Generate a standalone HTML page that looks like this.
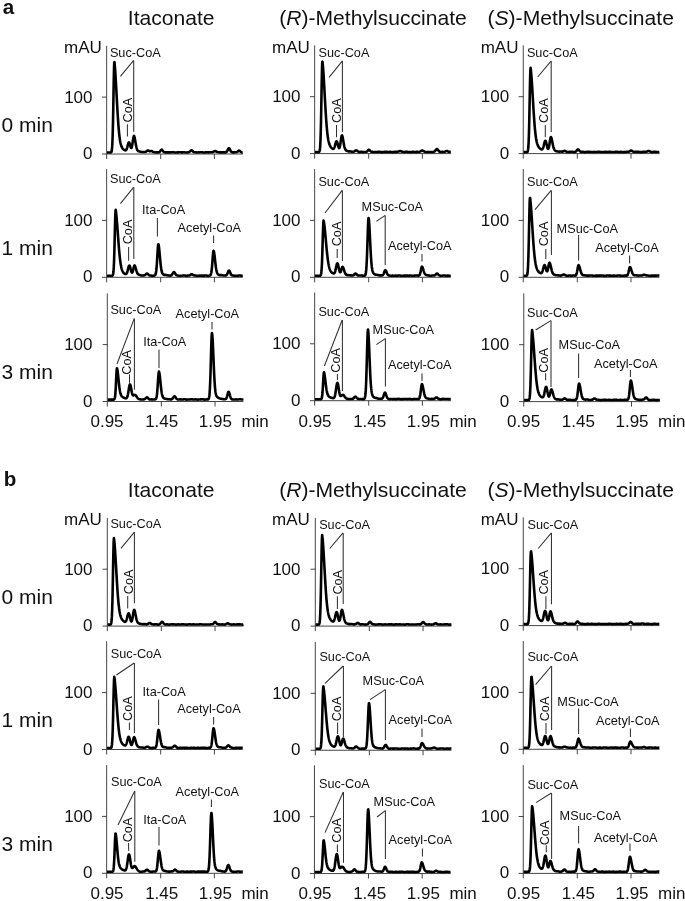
<!DOCTYPE html>
<html><head><meta charset="utf-8"><title>Figure</title>
<style>
html,body{margin:0;padding:0;background:#fff;}
body{width:685px;height:901px;overflow:hidden;font-family:"Liberation Sans",sans-serif;}
svg{display:block;will-change:transform;filter:grayscale(1);}
</style></head><body>
<svg width="685" height="901" viewBox="0 0 685 901">
<rect width="685" height="901" fill="#fff"/>
<g font-family="'Liberation Sans', sans-serif" fill="#111">
<text x="2.80" y="14.00" font-size="20.60" text-anchor="start" font-weight="bold" >a</text>
<text x="171.20" y="25.00" font-size="21.10" text-anchor="middle" font-weight="normal" >Itaconate</text>
<text x="373.00" y="25.00" font-size="21.10" text-anchor="middle" font-weight="normal" >(<tspan font-style="italic">R</tspan>)-Methylsuccinate</text>
<text x="580.70" y="25.00" font-size="21.10" text-anchor="middle" font-weight="normal" >(<tspan font-style="italic">S</tspan>)-Methylsuccinate</text>
<text x="1.50" y="132.00" font-size="21.00" text-anchor="start" font-weight="normal" >0 min</text>
<g stroke="#3c3c3c" stroke-width="0.95" fill="none">
<path d="M106.65 45.80 V159.00"/>
<path d="M102.00 154.00 H242.80"/>
<path d="M102.00 97.10 H107.00"/>
<path d="M160.70 154.00 V159.00"/>
<path d="M214.40 154.00 V159.00"/>
</g>
<text x="92.50" y="159.00" font-size="17.00" text-anchor="end" font-weight="normal" >0</text>
<text x="92.50" y="102.50" font-size="17.00" text-anchor="end" font-weight="normal" >100</text>
<text x="64.10" y="52.60" font-size="17.00" text-anchor="start" font-weight="normal" >mAU</text>
<g stroke="#303030" stroke-width="1.05" fill="none">
<path d="M120.40 76.30 L133.70 60.40"/>
<path d="M133.70 60.40 V131.80"/>
<path d="M127.40 124.20 V136.60"/>
</g>
<text x="109.90" y="56.90" font-size="12.70" text-anchor="start" font-weight="normal" >Suc-CoA</text>
<text font-size="12.70" transform="translate(132.20 122.50) rotate(-90)">CoA</text>
<path d="M107.00 152.50L107.25 152.50L107.50 152.50L107.75 152.50L108.00 152.50L108.25 152.50L108.50 152.50L108.75 152.50L109.00 152.50L109.25 152.50L109.50 152.50L109.75 152.50L110.00 152.50L110.25 152.49L110.50 152.48L110.75 152.44L111.00 152.35L111.25 152.13L111.50 151.64L111.75 150.63L112.00 148.75L112.25 145.45L112.50 140.14L112.75 132.30L113.00 121.68L113.25 108.62L113.50 94.21L113.75 80.25L114.00 68.94L114.25 62.33L114.50 62.17L114.75 64.88L115.00 68.00L115.25 71.50L115.50 75.35L115.75 79.49L116.00 83.86L116.25 88.41L116.50 93.05L116.75 97.73L117.00 102.36L117.25 106.88L117.50 111.25L117.75 115.41L118.00 119.32L118.25 122.95L118.50 126.29L118.75 129.34L119.00 132.08L119.25 134.52L119.50 136.69L119.75 138.60L120.00 140.26L120.25 141.70L120.50 142.94L120.75 144.01L121.00 144.92L121.25 145.70L121.50 146.37L121.75 146.95L122.00 147.45L122.25 147.88L122.50 148.26L122.75 148.58L123.00 148.87L123.25 149.13L123.50 149.36L123.75 149.56L124.00 149.74L124.25 149.91L124.50 150.05L124.75 150.18L125.00 150.28L125.25 150.34L125.50 150.35L125.75 150.29L126.00 150.14L126.25 149.87L126.50 149.46L126.75 148.90L127.00 148.18L127.25 147.33L127.50 146.38L127.75 145.38L128.00 144.42L128.25 143.56L128.50 142.89L128.75 142.49L129.00 142.39L129.25 142.60L129.50 143.11L129.75 143.85L130.00 144.75L130.25 145.70L130.50 146.60L130.75 147.36L131.00 147.86L131.25 148.05L131.50 147.87L131.75 147.29L132.00 146.32L132.25 144.99L132.50 143.38L132.75 141.62L133.00 139.84L133.25 138.22L133.50 136.92L133.75 136.08L134.00 135.80L134.25 136.33L134.50 137.15L134.75 138.25L135.00 139.54L135.25 140.96L135.50 142.43L135.75 143.88L136.00 145.25L136.25 146.48L136.50 147.56L136.75 148.47L137.00 149.22L137.25 149.81L137.50 150.27L137.75 150.62L138.00 150.87L138.25 151.05L138.50 151.18L138.75 151.27L139.00 151.34L139.25 151.39L139.50 151.45L139.75 151.51L140.00 151.57L140.25 151.64L140.50 151.71L140.75 151.79L141.00 151.86L141.25 151.92L141.50 151.96L141.75 152.00L142.00 152.02L142.25 152.03L142.50 152.04L142.75 152.03L143.00 152.03L143.25 152.02L143.50 152.02L143.75 152.03L144.00 152.04L144.25 152.05L144.50 152.06L144.75 152.05L145.00 152.04L145.25 152.00L145.50 151.93L145.75 151.83L146.00 151.69L146.25 151.52L146.50 151.31L146.75 151.09L147.00 150.88L147.25 150.68L147.50 150.53L147.75 150.45L148.00 150.43L148.25 150.49L148.50 150.60L148.75 150.76L149.00 150.92L149.25 151.07L149.50 151.18L149.75 151.25L150.00 151.25L150.25 151.21L150.50 151.15L150.75 151.07L151.00 151.00L151.25 150.97L151.50 150.99L151.75 151.06L152.00 151.17L152.25 151.32L152.50 151.48L152.75 151.65L153.00 151.80L153.25 151.94L153.50 152.04L153.75 152.12L154.00 152.18L154.25 152.22L154.50 152.24L154.75 152.27L155.00 152.29L155.25 152.30L155.50 152.32L155.75 152.34L156.00 152.35L156.25 152.36L156.50 152.37L156.75 152.37L157.00 152.36L157.25 152.36L157.50 152.36L157.75 152.36L158.00 152.36L158.25 152.36L158.50 152.34L158.75 152.31L159.00 152.24L159.25 152.12L159.50 151.95L159.75 151.72L160.00 151.43L160.25 151.09L160.50 150.73L160.75 150.37L161.00 150.06L161.25 149.82L161.50 149.69L161.75 149.67L162.00 149.78L162.25 150.00L162.50 150.29L162.75 150.64L163.00 150.99L163.25 151.33L163.50 151.63L163.75 151.87L164.00 152.06L164.25 152.19L164.50 152.28L164.75 152.33L165.00 152.36L165.25 152.37L165.50 152.38L165.75 152.39L166.00 152.39L166.25 152.40L166.50 152.40L166.75 152.41L167.00 152.41L167.25 152.41L167.50 152.40L167.75 152.38L168.00 152.37L168.25 152.35L168.50 152.34L168.75 152.33L169.00 152.33L169.25 152.34L169.50 152.35L169.75 152.37L170.00 152.39L170.25 152.40L170.50 152.41L170.75 152.41L171.00 152.39L171.25 152.37L171.50 152.33L171.75 152.29L172.00 152.25L172.25 152.21L172.50 152.18L172.75 152.16L173.00 152.17L173.25 152.18L173.50 152.21L173.75 152.26L174.00 152.31L174.25 152.36L174.50 152.41L174.75 152.45L175.00 152.48L175.25 152.49L175.50 152.50L175.75 152.49L176.00 152.48L176.25 152.46L176.50 152.45L176.75 152.43L177.00 152.42L177.25 152.41L177.50 152.40L177.75 152.39L178.00 152.38L178.25 152.36L178.50 152.34L178.75 152.32L179.00 152.30L179.25 152.27L179.50 152.26L179.75 152.24L180.00 152.24L180.25 152.25L180.50 152.27L180.75 152.29L181.00 152.32L181.25 152.35L181.50 152.37L181.75 152.39L182.00 152.40L182.25 152.39L182.50 152.37L182.75 152.35L183.00 152.32L183.25 152.29L183.50 152.26L183.75 152.25L184.00 152.25L184.25 152.26L184.50 152.29L184.75 152.32L185.00 152.37L185.25 152.41L185.50 152.45L185.75 152.49L186.00 152.51L186.25 152.51L186.50 152.51L186.75 152.49L187.00 152.47L187.25 152.44L187.50 152.41L187.75 152.37L188.00 152.34L188.25 152.30L188.50 152.25L188.75 152.19L189.00 152.10L189.25 151.99L189.50 151.83L189.75 151.64L190.00 151.41L190.25 151.16L190.50 150.89L190.75 150.65L191.00 150.45L191.25 150.31L191.50 150.27L191.75 150.31L192.00 150.45L192.25 150.66L192.50 150.91L192.75 151.19L193.00 151.46L193.25 151.70L193.50 151.90L193.75 152.04L194.00 152.15L194.25 152.21L194.50 152.24L194.75 152.26L195.00 152.27L195.25 152.28L195.50 152.30L195.75 152.33L196.00 152.36L196.25 152.39L196.50 152.42L196.75 152.44L197.00 152.45L197.25 152.45L197.50 152.44L197.75 152.42L198.00 152.40L198.25 152.37L198.50 152.34L198.75 152.31L199.00 152.29L199.25 152.27L199.50 152.26L199.75 152.26L200.00 152.26L200.25 152.26L200.50 152.25L200.75 152.25L201.00 152.25L201.25 152.25L201.50 152.25L201.75 152.25L202.00 152.27L202.25 152.29L202.50 152.32L202.75 152.36L203.00 152.41L203.25 152.45L203.50 152.49L203.75 152.52L204.00 152.54L204.25 152.54L204.50 152.53L204.75 152.50L205.00 152.46L205.25 152.41L205.50 152.36L205.75 152.32L206.00 152.29L206.25 152.26L206.50 152.25L206.75 152.26L207.00 152.27L207.25 152.30L207.50 152.32L207.75 152.34L208.00 152.36L208.25 152.37L208.50 152.37L208.75 152.36L209.00 152.34L209.25 152.32L209.50 152.31L209.75 152.29L210.00 152.29L210.25 152.28L210.50 152.29L210.75 152.29L211.00 152.30L211.25 152.30L211.50 152.30L211.75 152.29L212.00 152.26L212.25 152.22L212.50 152.16L212.75 152.08L213.00 151.97L213.25 151.84L213.50 151.69L213.75 151.53L214.00 151.38L214.25 151.24L214.50 151.13L214.75 151.05L215.00 151.03L215.25 151.06L215.50 151.13L215.75 151.23L216.00 151.36L216.25 151.49L216.50 151.62L216.75 151.74L217.00 151.84L217.25 151.93L217.50 152.00L217.75 152.07L218.00 152.13L218.25 152.18L218.50 152.23L218.75 152.28L219.00 152.31L219.25 152.34L219.50 152.36L219.75 152.37L220.00 152.37L220.25 152.37L220.50 152.36L220.75 152.36L221.00 152.36L221.25 152.36L221.50 152.37L221.75 152.38L222.00 152.39L222.25 152.40L222.50 152.40L222.75 152.40L223.00 152.40L223.25 152.39L223.50 152.37L223.75 152.36L224.00 152.35L224.25 152.35L224.50 152.35L224.75 152.36L225.00 152.37L225.25 152.37L225.50 152.37L225.75 152.34L226.00 152.27L226.25 152.16L226.50 151.97L226.75 151.71L227.00 151.36L227.25 150.93L227.50 150.43L227.75 149.89L228.00 149.35L228.25 148.86L228.50 148.48L228.75 148.25L229.00 148.19L229.25 148.31L229.50 148.60L229.75 149.03L230.00 149.53L230.25 150.07L230.50 150.60L230.75 151.06L231.00 151.46L231.25 151.77L231.50 151.99L231.75 152.16L232.00 152.26L232.25 152.33L232.50 152.37L232.75 152.40L233.00 152.41L233.25 152.41L233.50 152.41L233.75 152.40L234.00 152.38L234.25 152.35L234.50 152.33L234.75 152.30L235.00 152.28L235.25 152.26L235.50 152.24L235.75 152.23L236.00 152.22L236.25 152.19L236.50 152.15L236.75 152.09L237.00 151.98L237.25 151.84L237.50 151.66L237.75 151.45L238.00 151.22L238.25 151.01L238.50 150.82L238.75 150.69L239.00 150.63L239.25 150.65L239.50 150.74L239.75 150.91L240.00 151.12L240.25 151.36L240.50 151.60L240.75 151.83L241.00 152.03L241.25 152.19L241.50 152.31L241.75 152.39L242.00 152.43L242.25 152.46L242.50 152.46L242.75 152.45" fill="none" stroke="#000" stroke-width="2.60" stroke-linejoin="round" stroke-linecap="butt"/>
<g stroke="#3c3c3c" stroke-width="0.95" fill="none">
<path d="M314.65 45.40 V158.60"/>
<path d="M310.00 153.60 H450.80"/>
<path d="M310.00 96.70 H315.00"/>
<path d="M368.70 153.60 V158.60"/>
<path d="M422.40 153.60 V158.60"/>
</g>
<text x="300.50" y="158.60" font-size="17.00" text-anchor="end" font-weight="normal" >0</text>
<text x="300.50" y="102.10" font-size="17.00" text-anchor="end" font-weight="normal" >100</text>
<text x="272.10" y="52.60" font-size="17.00" text-anchor="start" font-weight="normal" >mAU</text>
<g stroke="#303030" stroke-width="1.05" fill="none">
<path d="M329.10 77.30 L342.40 60.90"/>
<path d="M342.40 60.90 V131.90"/>
<path d="M336.50 124.90 V137.30"/>
</g>
<text x="318.60" y="57.20" font-size="12.70" text-anchor="start" font-weight="normal" >Suc-CoA</text>
<text font-size="12.70" transform="translate(340.90 122.90) rotate(-90)">CoA</text>
<path d="M315.00 152.10L315.25 152.10L315.50 152.10L315.75 152.10L316.00 152.10L316.25 152.10L316.50 152.10L316.75 152.10L317.00 152.10L317.25 152.10L317.50 152.10L317.75 152.10L318.00 152.10L318.25 152.09L318.50 152.08L318.75 152.04L319.00 151.95L319.25 151.73L319.50 151.24L319.75 150.23L320.00 148.35L320.25 145.05L320.50 139.74L320.75 131.90L321.00 121.28L321.25 108.22L321.50 93.81L321.75 79.85L322.00 68.54L322.25 61.93L322.50 61.65L322.75 64.09L323.00 66.97L323.25 70.27L323.50 73.93L323.75 77.92L324.00 82.17L324.25 86.60L324.50 91.15L324.75 95.75L325.00 100.32L325.25 104.80L325.50 109.13L325.75 113.26L326.00 117.16L326.25 120.78L326.50 124.13L326.75 127.18L327.00 129.93L327.25 132.39L327.50 134.58L327.75 136.50L328.00 138.18L328.25 139.65L328.50 140.92L328.75 142.02L329.00 142.97L329.25 143.80L329.50 144.51L329.75 145.13L330.00 145.68L330.25 146.15L330.50 146.57L330.75 146.94L331.00 147.28L331.25 147.58L331.50 147.85L331.75 148.10L332.00 148.33L332.25 148.53L332.50 148.70L332.75 148.82L333.00 148.89L333.25 148.89L333.50 148.79L333.75 148.58L334.00 148.24L334.25 147.75L334.50 147.11L334.75 146.33L335.00 145.43L335.25 144.47L335.50 143.52L335.75 142.64L336.00 141.93L336.25 141.45L336.50 141.26L336.75 141.38L337.00 141.80L337.25 142.49L337.50 143.38L337.75 144.38L338.00 145.41L338.25 146.36L338.50 147.17L338.75 147.76L339.00 148.08L339.25 148.07L339.50 147.72L339.75 146.99L340.00 145.92L340.25 144.52L340.50 142.87L340.75 141.09L341.00 139.31L341.25 137.69L341.50 136.40L341.75 135.57L342.00 135.31L342.25 135.86L342.50 136.71L342.75 137.83L343.00 139.15L343.25 140.59L343.50 142.08L343.75 143.53L344.00 144.88L344.25 146.09L344.50 147.12L344.75 147.99L345.00 148.68L345.25 149.22L345.50 149.64L345.75 149.97L346.00 150.22L346.25 150.42L346.50 150.59L346.75 150.73L347.00 150.86L347.25 150.98L347.50 151.09L347.75 151.18L348.00 151.26L348.25 151.31L348.50 151.35L348.75 151.38L349.00 151.39L349.25 151.39L349.50 151.39L349.75 151.39L350.00 151.40L350.25 151.41L350.50 151.44L350.75 151.47L351.00 151.52L351.25 151.56L351.50 151.62L351.75 151.66L352.00 151.71L352.25 151.74L352.50 151.77L352.75 151.78L353.00 151.78L353.25 151.76L353.50 151.72L353.75 151.65L354.00 151.56L354.25 151.44L354.50 151.29L354.75 151.12L355.00 150.93L355.25 150.76L355.50 150.60L355.75 150.48L356.00 150.42L356.25 150.41L356.50 150.47L356.75 150.57L357.00 150.72L357.25 150.90L357.50 151.08L357.75 151.27L358.00 151.44L358.25 151.59L358.50 151.71L358.75 151.81L359.00 151.88L359.25 151.93L359.50 151.95L359.75 151.96L360.00 151.95L360.25 151.93L360.50 151.90L360.75 151.88L361.00 151.86L361.25 151.85L361.50 151.85L361.75 151.86L362.00 151.89L362.25 151.91L362.50 151.94L362.75 151.97L363.00 152.00L363.25 152.02L363.50 152.03L363.75 152.04L364.00 152.04L364.25 152.04L364.50 152.03L364.75 152.03L365.00 152.03L365.25 152.02L365.50 152.01L365.75 151.98L366.00 151.94L366.25 151.86L366.50 151.76L366.75 151.61L367.00 151.41L367.25 151.18L367.50 150.91L367.75 150.63L368.00 150.35L368.25 150.11L368.50 149.92L368.75 149.82L369.00 149.81L369.25 149.90L369.50 150.07L369.75 150.31L370.00 150.58L370.25 150.87L370.50 151.14L370.75 151.37L371.00 151.56L371.25 151.69L371.50 151.79L371.75 151.84L372.00 151.88L372.25 151.90L372.50 151.91L372.75 151.92L373.00 151.94L373.25 151.96L373.50 151.97L373.75 151.99L374.00 152.00L374.25 152.01L374.50 152.01L374.75 152.00L375.00 151.99L375.25 151.98L375.50 151.97L375.75 151.96L376.00 151.96L376.25 151.95L376.50 151.95L376.75 151.95L377.00 151.95L377.25 151.95L377.50 151.93L377.75 151.91L378.00 151.89L378.25 151.86L378.50 151.83L378.75 151.80L379.00 151.79L379.25 151.78L379.50 151.79L379.75 151.82L380.00 151.86L380.25 151.91L380.50 151.96L380.75 152.02L381.00 152.07L381.25 152.11L381.50 152.13L381.75 152.14L382.00 152.13L382.25 152.11L382.50 152.08L382.75 152.04L383.00 152.00L383.25 151.97L383.50 151.94L383.75 151.93L384.00 151.92L384.25 151.91L384.50 151.92L384.75 151.92L385.00 151.92L385.25 151.93L385.50 151.92L385.75 151.92L386.00 151.91L386.25 151.90L386.50 151.89L386.75 151.89L387.00 151.89L387.25 151.90L387.50 151.92L387.75 151.93L388.00 151.94L388.25 151.95L388.50 151.96L388.75 151.96L389.00 151.94L389.25 151.93L389.50 151.91L389.75 151.89L390.00 151.87L390.25 151.87L390.50 151.87L390.75 151.89L391.00 151.92L391.25 151.96L391.50 152.01L391.75 152.05L392.00 152.10L392.25 152.13L392.50 152.15L392.75 152.15L393.00 152.13L393.25 152.10L393.50 152.06L393.75 152.01L394.00 151.96L394.25 151.92L394.50 151.88L394.75 151.85L395.00 151.84L395.25 151.83L395.50 151.83L395.75 151.84L396.00 151.84L396.25 151.85L396.50 151.85L396.75 151.85L397.00 151.83L397.25 151.81L397.50 151.77L397.75 151.73L398.00 151.67L398.25 151.59L398.50 151.50L398.75 151.41L399.00 151.31L399.25 151.21L399.50 151.13L399.75 151.07L400.00 151.04L400.25 151.04L400.50 151.08L400.75 151.15L401.00 151.23L401.25 151.34L401.50 151.45L401.75 151.56L402.00 151.67L402.25 151.77L402.50 151.86L402.75 151.93L403.00 151.99L403.25 152.04L403.50 152.06L403.75 152.07L404.00 152.05L404.25 152.03L404.50 151.99L404.75 151.94L405.00 151.90L405.25 151.86L405.50 151.82L405.75 151.80L406.00 151.79L406.25 151.79L406.50 151.81L406.75 151.82L407.00 151.85L407.25 151.87L407.50 151.89L407.75 151.91L408.00 151.93L408.25 151.94L408.50 151.96L408.75 151.97L409.00 151.99L409.25 152.01L409.50 152.04L409.75 152.06L410.00 152.08L410.25 152.10L410.50 152.10L410.75 152.10L411.00 152.08L411.25 152.05L411.50 152.02L411.75 151.97L412.00 151.93L412.25 151.89L412.50 151.86L412.75 151.85L413.00 151.84L413.25 151.86L413.50 151.88L413.75 151.91L414.00 151.94L414.25 151.97L414.50 151.99L414.75 152.00L415.00 152.00L415.25 151.98L415.50 151.96L415.75 151.93L416.00 151.90L416.25 151.87L416.50 151.85L416.75 151.83L417.00 151.83L417.25 151.84L417.50 151.86L417.75 151.89L418.00 151.91L418.25 151.93L418.50 151.95L418.75 151.95L419.00 151.94L419.25 151.91L419.50 151.85L419.75 151.77L420.00 151.66L420.25 151.53L420.50 151.37L420.75 151.20L421.00 151.02L421.25 150.85L421.50 150.70L421.75 150.59L422.00 150.54L422.25 150.53L422.50 150.58L422.75 150.68L423.00 150.80L423.25 150.95L423.50 151.10L423.75 151.25L424.00 151.39L424.25 151.52L424.50 151.63L424.75 151.73L425.00 151.82L425.25 151.89L425.50 151.95L425.75 151.99L426.00 152.01L426.25 152.02L426.50 152.01L426.75 152.00L427.00 151.98L427.25 151.96L427.50 151.94L427.75 151.93L428.00 151.92L428.25 151.93L428.50 151.94L428.75 151.96L429.00 151.98L429.25 151.99L429.50 152.01L429.75 152.02L430.00 152.02L430.25 152.02L430.50 152.01L430.75 152.00L431.00 152.00L431.25 151.99L431.50 151.99L431.75 152.00L432.00 152.00L432.25 152.00L432.50 151.99L432.75 151.98L433.00 151.95L433.25 151.91L433.50 151.86L433.75 151.79L434.00 151.69L434.25 151.57L434.50 151.42L434.75 151.24L435.00 151.01L435.25 150.74L435.50 150.44L435.75 150.12L436.00 149.80L436.25 149.51L436.50 149.27L436.75 149.13L437.00 149.09L437.25 149.17L437.50 149.35L437.75 149.62L438.00 149.95L438.25 150.29L438.50 150.64L438.75 150.95L439.00 151.22L439.25 151.44L439.50 151.61L439.75 151.74L440.00 151.83L440.25 151.88L440.50 151.92L440.75 151.94L441.00 151.94L441.25 151.94L441.50 151.93L441.75 151.92L442.00 151.91L442.25 151.91L442.50 151.91L442.75 151.91L443.00 151.92L443.25 151.93L443.50 151.93L443.75 151.93L444.00 151.91L444.25 151.87L444.50 151.81L444.75 151.72L445.00 151.62L445.25 151.50L445.50 151.37L445.75 151.24L446.00 151.12L446.25 151.03L446.50 150.97L446.75 150.95L447.00 150.98L447.25 151.05L447.50 151.16L447.75 151.30L448.00 151.44L448.25 151.57L448.50 151.68L448.75 151.77L449.00 151.84L449.25 151.87L449.50 151.89L449.75 151.89L450.00 151.89L450.25 151.88L450.50 151.87L450.75 151.87" fill="none" stroke="#000" stroke-width="2.60" stroke-linejoin="round" stroke-linecap="butt"/>
<g stroke="#3c3c3c" stroke-width="0.95" fill="none">
<path d="M523.25 45.40 V158.60"/>
<path d="M518.60 153.60 H659.40"/>
<path d="M518.60 96.70 H523.60"/>
<path d="M577.30 153.60 V158.60"/>
<path d="M631.00 153.60 V158.60"/>
</g>
<text x="509.10" y="158.60" font-size="17.00" text-anchor="end" font-weight="normal" >0</text>
<text x="509.10" y="102.10" font-size="17.00" text-anchor="end" font-weight="normal" >100</text>
<text x="480.70" y="52.60" font-size="17.00" text-anchor="start" font-weight="normal" >mAU</text>
<g stroke="#303030" stroke-width="1.05" fill="none">
<path d="M537.70 77.00 L551.00 61.10"/>
<path d="M551.20 61.10 V132.00"/>
<path d="M545.30 125.00 V137.20"/>
</g>
<text x="526.90" y="57.20" font-size="12.70" text-anchor="start" font-weight="normal" >Suc-CoA</text>
<text font-size="12.70" transform="translate(548.20 122.90) rotate(-90)">CoA</text>
<path d="M523.60 152.10L523.85 152.10L524.10 152.10L524.35 152.10L524.60 152.10L524.85 152.10L525.10 152.10L525.35 152.10L525.60 152.10L525.85 152.10L526.10 152.10L526.35 152.10L526.60 152.09L526.85 152.07L527.10 152.00L527.35 151.86L527.60 151.52L527.85 150.82L528.10 149.46L528.35 147.00L528.60 142.91L528.85 136.65L529.10 127.86L529.35 116.63L529.60 103.66L529.85 90.37L530.10 78.70L530.35 70.67L530.60 67.80L530.85 69.89L531.10 72.39L531.35 75.28L531.60 78.53L531.85 82.10L532.10 85.94L532.35 89.97L532.60 94.14L532.85 98.37L533.10 102.61L533.35 106.79L533.60 110.85L533.85 114.74L534.10 118.42L534.35 121.88L534.60 125.07L534.85 127.99L535.10 130.65L535.35 133.03L535.60 135.15L535.85 137.02L536.10 138.67L536.35 140.10L536.60 141.35L536.85 142.43L537.10 143.37L537.35 144.18L537.60 144.87L537.85 145.47L538.10 145.99L538.35 146.45L538.60 146.85L538.85 147.21L539.10 147.54L539.35 147.83L539.60 148.11L539.85 148.36L540.10 148.59L540.35 148.80L540.60 148.99L540.85 149.15L541.10 149.28L541.35 149.37L541.60 149.41L541.85 149.40L542.10 149.31L542.35 149.12L542.60 148.82L542.85 148.38L543.10 147.80L543.35 147.06L543.60 146.18L543.85 145.19L544.10 144.14L544.35 143.11L544.60 142.18L544.85 141.43L545.10 140.94L545.35 140.77L545.60 140.93L545.85 141.43L546.10 142.21L546.35 143.21L546.60 144.34L546.85 145.49L547.10 146.58L547.35 147.53L547.60 148.27L547.85 148.74L548.10 148.90L548.35 148.74L548.60 148.23L548.85 147.39L549.10 146.23L549.35 144.80L549.60 143.20L549.85 141.54L550.10 139.95L550.35 138.58L550.60 137.58L550.85 137.04L551.10 137.14L551.35 137.76L551.60 138.64L551.85 139.73L552.10 140.95L552.35 142.25L552.60 143.55L552.85 144.79L553.10 145.93L553.35 146.93L553.60 147.80L553.85 148.52L554.10 149.11L554.35 149.58L554.60 149.97L554.85 150.28L555.10 150.53L555.35 150.73L555.60 150.90L555.85 151.03L556.10 151.13L556.35 151.22L556.60 151.29L556.85 151.34L557.10 151.38L557.35 151.42L557.60 151.46L557.85 151.49L558.10 151.52L558.35 151.55L558.60 151.57L558.85 151.58L559.10 151.59L559.35 151.59L559.60 151.59L559.85 151.58L560.10 151.57L560.35 151.56L560.60 151.56L560.85 151.56L561.10 151.57L561.35 151.60L561.60 151.62L561.85 151.65L562.10 151.66L562.35 151.66L562.60 151.64L562.85 151.58L563.10 151.50L563.35 151.39L563.60 151.26L563.85 151.13L564.10 151.02L564.35 150.93L564.60 150.89L564.85 150.89L565.10 150.95L565.35 151.05L565.60 151.17L565.85 151.32L566.10 151.47L566.35 151.61L566.60 151.73L566.85 151.82L567.10 151.89L567.35 151.93L567.60 151.95L567.85 151.95L568.10 151.95L568.35 151.94L568.60 151.93L568.85 151.92L569.10 151.91L569.35 151.91L569.60 151.91L569.85 151.90L570.10 151.89L570.35 151.88L570.60 151.86L570.85 151.84L571.10 151.82L571.35 151.81L571.60 151.80L571.85 151.80L572.10 151.81L572.35 151.84L572.60 151.87L572.85 151.92L573.10 151.97L573.35 152.03L573.60 152.07L573.85 152.11L574.10 152.12L574.35 152.12L574.60 152.09L574.85 152.03L575.10 151.94L575.35 151.81L575.60 151.65L575.85 151.44L576.10 151.20L576.35 150.93L576.60 150.62L576.85 150.31L577.10 150.01L577.35 149.75L577.60 149.56L577.85 149.45L578.10 149.45L578.35 149.54L578.60 149.73L578.85 149.98L579.10 150.27L579.35 150.58L579.60 150.87L579.85 151.14L580.10 151.36L580.35 151.54L580.60 151.68L580.85 151.78L581.10 151.85L581.35 151.89L581.60 151.90L581.85 151.91L582.10 151.90L582.35 151.89L582.60 151.89L582.85 151.89L583.10 151.89L583.35 151.91L583.60 151.94L583.85 151.98L584.10 152.02L584.35 152.07L584.60 152.10L584.85 152.13L585.10 152.15L585.35 152.15L585.60 152.13L585.85 152.09L586.10 152.05L586.35 151.99L586.60 151.94L586.85 151.89L587.10 151.85L587.35 151.82L587.60 151.81L587.85 151.80L588.10 151.81L588.35 151.83L588.60 151.85L588.85 151.87L589.10 151.89L589.35 151.90L589.60 151.91L589.85 151.92L590.10 151.92L590.35 151.93L590.60 151.93L590.85 151.95L591.10 151.96L591.35 151.98L591.60 151.99L591.85 152.01L592.10 152.02L592.35 152.03L592.60 152.02L592.85 152.01L593.10 151.99L593.35 151.97L593.60 151.95L593.85 151.93L594.10 151.92L594.35 151.92L594.60 151.93L594.85 151.95L595.10 151.98L595.35 152.01L595.60 152.04L595.85 152.06L596.10 152.07L596.35 152.07L596.60 152.05L596.85 152.02L597.10 151.98L597.35 151.93L597.60 151.88L597.85 151.84L598.10 151.80L598.35 151.78L598.60 151.77L598.85 151.77L599.10 151.79L599.35 151.82L599.60 151.85L599.85 151.89L600.10 151.92L600.35 151.94L600.60 151.97L600.85 151.98L601.10 152.00L601.35 152.01L601.60 152.02L601.85 152.03L602.10 152.04L602.35 152.05L602.60 152.06L602.85 152.07L603.10 152.07L603.35 152.07L603.60 152.06L603.85 152.03L604.10 152.00L604.35 151.97L604.60 151.93L604.85 151.90L605.10 151.87L605.35 151.85L605.60 151.85L605.85 151.86L606.10 151.88L606.35 151.91L606.60 151.94L606.85 151.97L607.10 151.99L607.35 152.00L607.60 152.00L607.85 151.99L608.10 151.96L608.35 151.93L608.60 151.89L608.85 151.86L609.10 151.83L609.35 151.82L609.60 151.82L609.85 151.83L610.10 151.85L610.35 151.88L610.60 151.92L610.85 151.96L611.10 151.99L611.35 152.02L611.60 152.04L611.85 152.05L612.10 152.06L612.35 152.06L612.60 152.06L612.85 152.06L613.10 152.06L613.35 152.06L613.60 152.05L613.85 152.05L614.10 152.04L614.35 152.03L614.60 152.00L614.85 151.97L615.10 151.94L615.35 151.90L615.60 151.86L615.85 151.82L616.10 151.79L616.35 151.78L616.60 151.77L616.85 151.79L617.10 151.82L617.35 151.85L617.60 151.90L617.85 151.94L618.10 151.98L618.35 152.01L618.60 152.03L618.85 152.03L619.10 152.02L619.35 152.00L619.60 151.98L619.85 151.95L620.10 151.93L620.35 151.91L620.60 151.90L620.85 151.91L621.10 151.92L621.35 151.94L621.60 151.97L621.85 152.00L622.10 152.02L622.35 152.04L622.60 152.04L622.85 152.05L623.10 152.04L623.35 152.03L623.60 152.02L623.85 152.00L624.10 151.99L624.35 151.98L624.60 151.98L624.85 151.97L625.10 151.96L625.35 151.95L625.60 151.93L625.85 151.91L626.10 151.88L626.35 151.85L626.60 151.82L626.85 151.79L627.10 151.77L627.35 151.75L627.60 151.75L627.85 151.75L628.10 151.75L628.35 151.75L628.60 151.73L628.85 151.69L629.10 151.61L629.35 151.50L629.60 151.35L629.85 151.17L630.10 150.98L630.35 150.80L630.60 150.65L630.85 150.54L631.10 150.50L631.35 150.53L631.60 150.62L631.85 150.76L632.10 150.94L632.35 151.13L632.60 151.32L632.85 151.49L633.10 151.64L633.35 151.75L633.60 151.83L633.85 151.88L634.10 151.90L634.35 151.91L634.60 151.92L634.85 151.91L635.10 151.91L635.35 151.91L635.60 151.91L635.85 151.92L636.10 151.92L636.35 151.92L636.60 151.92L636.85 151.92L637.10 151.91L637.35 151.89L637.60 151.87L637.85 151.85L638.10 151.84L638.35 151.84L638.60 151.85L638.85 151.87L639.10 151.90L639.35 151.95L639.60 152.00L639.85 152.05L640.10 152.09L640.35 152.13L640.60 152.15L640.85 152.16L641.10 152.15L641.35 152.12L641.60 152.08L641.85 152.03L642.10 151.98L642.35 151.94L642.60 151.90L642.85 151.87L643.10 151.85L643.35 151.85L643.60 151.85L643.85 151.86L644.10 151.87L644.35 151.88L644.60 151.89L644.85 151.89L645.10 151.88L645.35 151.87L645.60 151.85L645.85 151.82L646.10 151.79L646.35 151.74L646.60 151.68L646.85 151.60L647.10 151.51L647.35 151.40L647.60 151.29L647.85 151.18L648.10 151.08L648.35 151.01L648.60 150.97L648.85 150.97L649.10 151.01L649.35 151.09L649.60 151.20L649.85 151.34L650.10 151.48L650.35 151.62L650.60 151.75L650.85 151.86L651.10 151.96L651.35 152.02L651.60 152.07L651.85 152.09L652.10 152.08L652.35 152.06L652.60 152.02L652.85 151.97L653.10 151.92L653.35 151.87L653.60 151.83L653.85 151.80L654.10 151.79L654.35 151.78L654.60 151.79L654.85 151.81L655.10 151.83L655.35 151.86L655.60 151.88L655.85 151.90L656.10 151.92L656.35 151.93L656.60 151.94L656.85 151.96L657.10 151.97L657.35 151.99L657.60 152.01L657.85 152.03L658.10 152.05L658.35 152.06L658.60 152.07L658.85 152.07L659.10 152.07L659.35 152.05" fill="none" stroke="#000" stroke-width="2.60" stroke-linejoin="round" stroke-linecap="butt"/>
<text x="1.50" y="255.30" font-size="21.00" text-anchor="start" font-weight="normal" >1 min</text>
<g stroke="#3c3c3c" stroke-width="0.95" fill="none">
<path d="M106.65 169.10 V282.30"/>
<path d="M102.00 277.30 H242.80"/>
<path d="M102.00 220.40 H107.00"/>
<path d="M160.70 277.30 V282.30"/>
<path d="M214.40 277.30 V282.30"/>
</g>
<text x="92.50" y="282.30" font-size="17.00" text-anchor="end" font-weight="normal" >0</text>
<text x="92.50" y="225.80" font-size="17.00" text-anchor="end" font-weight="normal" >100</text>
<g stroke="#303030" stroke-width="1.05" fill="none">
<path d="M120.40 203.60 L133.70 187.20"/>
<path d="M133.80 187.20 V259.00"/>
<path d="M128.60 247.00 V260.70"/>
<path d="M157.40 218.00 L157.40 236.40"/>
<path d="M213.60 235.40 L213.60 243.00"/>
</g>
<text x="110.00" y="183.40" font-size="12.70" text-anchor="start" font-weight="normal" >Suc-CoA</text>
<text font-size="12.70" transform="translate(132.20 244.30) rotate(-90)">CoA</text>
<text x="142.10" y="214.35" font-size="12.70" text-anchor="start" font-weight="normal" >Ita-CoA</text>
<text x="177.60" y="232.05" font-size="12.70" text-anchor="start" font-weight="normal" >Acetyl-CoA</text>
<path d="M107.00 275.80L107.25 275.80L107.50 275.80L107.75 275.80L108.00 275.80L108.25 275.80L108.50 275.80L108.75 275.80L109.00 275.80L109.25 275.80L109.50 275.80L109.75 275.80L110.00 275.80L110.25 275.80L110.50 275.80L110.75 275.80L111.00 275.80L111.25 275.80L111.50 275.80L111.75 275.79L112.00 275.77L112.25 275.71L112.50 275.57L112.75 275.27L113.00 274.63L113.25 273.42L113.50 271.26L113.75 267.73L114.00 262.43L114.25 255.12L114.50 245.94L114.75 235.59L115.00 225.26L115.25 216.54L115.50 210.95L115.75 209.87L116.00 211.86L116.25 214.15L116.50 216.70L116.75 219.50L117.00 222.51L117.25 225.70L117.50 229.02L117.75 232.40L118.00 235.82L118.25 239.21L118.50 242.53L118.75 245.73L119.00 248.79L119.25 251.66L119.50 254.34L119.75 256.80L120.00 259.05L120.25 261.07L120.50 262.87L120.75 264.46L121.00 265.86L121.25 267.08L121.50 268.14L121.75 269.05L122.00 269.85L122.25 270.53L122.50 271.12L122.75 271.62L123.00 272.06L123.25 272.43L123.50 272.76L123.75 273.03L124.00 273.27L124.25 273.47L124.50 273.65L124.75 273.79L125.00 273.91L125.25 274.00L125.50 274.05L125.75 274.06L126.00 274.00L126.25 273.85L126.50 273.60L126.75 273.22L127.00 272.70L127.25 272.02L127.50 271.20L127.75 270.25L128.00 269.23L128.25 268.20L128.50 267.24L128.75 266.43L129.00 265.85L129.25 265.56L129.50 265.59L129.75 265.95L130.00 266.58L130.25 267.44L130.50 268.44L130.75 269.48L131.00 270.47L131.25 271.33L131.50 271.99L131.75 272.41L132.00 272.56L132.25 272.41L132.50 271.99L132.75 271.31L133.00 270.42L133.25 269.39L133.50 268.31L133.75 267.27L134.00 266.39L134.25 265.76L134.50 265.46L134.75 265.61L135.00 266.05L135.25 266.66L135.50 267.41L135.75 268.26L136.00 269.15L136.25 270.04L136.50 270.90L136.75 271.68L137.00 272.36L137.25 272.95L137.50 273.42L137.75 273.80L138.00 274.09L138.25 274.31L138.50 274.47L138.75 274.60L139.00 274.70L139.25 274.78L139.50 274.86L139.75 274.94L140.00 275.02L140.25 275.11L140.50 275.20L140.75 275.29L141.00 275.37L141.25 275.43L141.50 275.48L141.75 275.52L142.00 275.54L142.25 275.54L142.50 275.52L142.75 275.50L143.00 275.47L143.25 275.45L143.50 275.42L143.75 275.39L144.00 275.36L144.25 275.31L144.50 275.25L144.75 275.15L145.00 275.02L145.25 274.85L145.50 274.64L145.75 274.40L146.00 274.15L146.25 273.92L146.50 273.73L146.75 273.60L147.00 273.55L147.25 273.59L147.50 273.72L147.75 273.91L148.00 274.16L148.25 274.42L148.50 274.67L148.75 274.90L149.00 275.09L149.25 275.24L149.50 275.35L149.75 275.43L150.00 275.48L150.25 275.51L150.50 275.54L150.75 275.57L151.00 275.61L151.25 275.65L151.50 275.70L151.75 275.75L152.00 275.79L152.25 275.82L152.50 275.84L152.75 275.84L153.00 275.83L153.25 275.80L153.50 275.75L153.75 275.70L154.00 275.64L154.25 275.57L154.50 275.50L154.75 275.40L155.00 275.24L155.25 274.98L155.50 274.53L155.75 273.79L156.00 272.62L156.25 270.89L156.50 268.48L156.75 265.34L157.00 261.55L157.25 257.32L157.50 253.01L157.75 249.09L158.00 246.05L158.25 244.33L158.50 244.31L158.75 245.44L159.00 247.17L159.25 249.40L159.50 252.01L159.75 254.82L160.00 257.69L160.25 260.48L160.50 263.06L160.75 265.37L161.00 267.37L161.25 269.03L161.50 270.39L161.75 271.47L162.00 272.32L162.25 272.97L162.50 273.47L162.75 273.86L163.00 274.15L163.25 274.38L163.50 274.55L163.75 274.68L164.00 274.76L164.25 274.82L164.50 274.86L164.75 274.88L165.00 274.89L165.25 274.90L165.50 274.91L165.75 274.93L166.00 274.96L166.25 275.01L166.50 275.06L166.75 275.12L167.00 275.18L167.25 275.25L167.50 275.31L167.75 275.36L168.00 275.40L168.25 275.44L168.50 275.47L168.75 275.50L169.00 275.53L169.25 275.55L169.50 275.57L169.75 275.59L170.00 275.61L170.25 275.61L170.50 275.61L170.75 275.57L171.00 275.51L171.25 275.39L171.50 275.23L171.75 275.00L172.00 274.70L172.25 274.34L172.50 273.92L172.75 273.48L173.00 273.04L173.25 272.65L173.50 272.34L173.75 272.15L174.00 272.11L174.25 272.22L174.50 272.46L174.75 272.80L175.00 273.21L175.25 273.63L175.50 274.04L175.75 274.40L176.00 274.70L176.25 274.94L176.50 275.11L176.75 275.24L177.00 275.34L177.25 275.41L177.50 275.48L177.75 275.53L178.00 275.58L178.25 275.63L178.50 275.67L178.75 275.70L179.00 275.73L179.25 275.75L179.50 275.75L179.75 275.76L180.00 275.76L180.25 275.76L180.50 275.75L180.75 275.75L181.00 275.75L181.25 275.75L181.50 275.74L181.75 275.73L182.00 275.71L182.25 275.68L182.50 275.65L182.75 275.61L183.00 275.57L183.25 275.53L183.50 275.50L183.75 275.48L184.00 275.48L184.25 275.49L184.50 275.51L184.75 275.55L185.00 275.59L185.25 275.63L185.50 275.67L185.75 275.70L186.00 275.72L186.25 275.72L186.50 275.72L186.75 275.70L187.00 275.67L187.25 275.64L187.50 275.61L187.75 275.59L188.00 275.58L188.25 275.57L188.50 275.56L188.75 275.54L189.00 275.52L189.25 275.47L189.50 275.39L189.75 275.28L190.00 275.13L190.25 274.96L190.50 274.77L190.75 274.57L191.00 274.41L191.25 274.28L191.50 274.21L191.75 274.20L192.00 274.26L192.25 274.38L192.50 274.53L192.75 274.70L193.00 274.88L193.25 275.03L193.50 275.16L193.75 275.26L194.00 275.32L194.25 275.37L194.50 275.40L194.75 275.42L195.00 275.44L195.25 275.48L195.50 275.52L195.75 275.57L196.00 275.62L196.25 275.68L196.50 275.73L196.75 275.77L197.00 275.80L197.25 275.81L197.50 275.81L197.75 275.79L198.00 275.76L198.25 275.73L198.50 275.70L198.75 275.67L199.00 275.64L199.25 275.63L199.50 275.63L199.75 275.63L200.00 275.64L200.25 275.66L200.50 275.67L200.75 275.68L201.00 275.68L201.25 275.68L201.50 275.67L201.75 275.66L202.00 275.65L202.25 275.63L202.50 275.62L202.75 275.61L203.00 275.61L203.25 275.61L203.50 275.62L203.75 275.62L204.00 275.62L204.25 275.61L204.50 275.60L204.75 275.58L205.00 275.57L205.25 275.55L205.50 275.54L205.75 275.53L206.00 275.54L206.25 275.56L206.50 275.59L206.75 275.64L207.00 275.69L207.25 275.74L207.50 275.79L207.75 275.83L208.00 275.85L208.25 275.86L208.50 275.85L208.75 275.82L209.00 275.78L209.25 275.73L209.50 275.67L209.75 275.59L210.00 275.49L210.25 275.34L210.50 275.09L210.75 274.68L211.00 274.03L211.25 273.01L211.50 271.54L211.75 269.51L212.00 266.92L212.25 263.83L212.50 260.44L212.75 257.05L213.00 254.06L213.25 251.83L213.50 250.70L213.75 250.95L214.00 251.94L214.25 253.40L214.50 255.24L214.75 257.35L215.00 259.61L215.25 261.88L215.50 264.06L215.75 266.07L216.00 267.85L216.25 269.38L216.50 270.64L216.75 271.66L217.00 272.47L217.25 273.10L217.50 273.59L217.75 273.97L218.00 274.27L218.25 274.51L218.50 274.70L218.75 274.85L219.00 274.96L219.25 275.04L219.50 275.10L219.75 275.13L220.00 275.14L220.25 275.14L220.50 275.13L220.75 275.12L221.00 275.11L221.25 275.12L221.50 275.13L221.75 275.15L222.00 275.19L222.25 275.23L222.50 275.27L222.75 275.32L223.00 275.36L223.25 275.40L223.50 275.43L223.75 275.46L224.00 275.48L224.25 275.50L224.50 275.53L224.75 275.55L225.00 275.56L225.25 275.57L225.50 275.57L225.75 275.54L226.00 275.46L226.25 275.33L226.50 275.12L226.75 274.82L227.00 274.42L227.25 273.91L227.50 273.32L227.75 272.68L228.00 272.03L228.25 271.44L228.50 270.97L228.75 270.68L229.00 270.60L229.25 270.73L229.50 271.07L229.75 271.57L230.00 272.17L230.25 272.81L230.50 273.42L230.75 273.96L231.00 274.41L231.25 274.76L231.50 275.01L231.75 275.18L232.00 275.29L232.25 275.36L232.50 275.41L232.75 275.44L233.00 275.48L233.25 275.52L233.50 275.56L233.75 275.59L234.00 275.63L234.25 275.66L234.50 275.68L234.75 275.70L235.00 275.72L235.25 275.73L235.50 275.73L235.75 275.74L236.00 275.75L236.25 275.76L236.50 275.77L236.75 275.78L237.00 275.78L237.25 275.77L237.50 275.75L237.75 275.73L238.00 275.69L238.25 275.65L238.50 275.61L238.75 275.57L239.00 275.53L239.25 275.51L239.50 275.50L239.75 275.51L240.00 275.53L240.25 275.56L240.50 275.59L240.75 275.63L241.00 275.66L241.25 275.69L241.50 275.70L241.75 275.70L242.00 275.69L242.25 275.66L242.50 275.64L242.75 275.61" fill="none" stroke="#000" stroke-width="2.60" stroke-linejoin="round" stroke-linecap="butt"/>
<g stroke="#3c3c3c" stroke-width="0.95" fill="none">
<path d="M314.65 169.10 V282.30"/>
<path d="M310.00 277.30 H450.80"/>
<path d="M310.00 220.40 H315.00"/>
<path d="M368.70 277.30 V282.30"/>
<path d="M422.40 277.30 V282.30"/>
</g>
<text x="300.50" y="282.30" font-size="17.00" text-anchor="end" font-weight="normal" >0</text>
<text x="300.50" y="225.80" font-size="17.00" text-anchor="end" font-weight="normal" >100</text>
<g stroke="#303030" stroke-width="1.05" fill="none">
<path d="M325.00 213.00 L342.20 190.40"/>
<path d="M342.40 190.40 V261.00"/>
<path d="M337.20 249.00 V258.00"/>
<path d="M376.40 221.40 L385.20 215.40"/>
<path d="M385.20 215.40 L385.20 265.00"/>
<path d="M422.00 254.00 L422.00 261.60"/>
</g>
<text x="318.40" y="186.20" font-size="12.70" text-anchor="start" font-weight="normal" >Suc-CoA</text>
<text font-size="12.70" transform="translate(340.80 246.30) rotate(-90)">CoA</text>
<text x="361.60" y="211.05" font-size="12.70" text-anchor="start" font-weight="normal" >MSuc-CoA</text>
<text x="388.00" y="250.05" font-size="12.70" text-anchor="start" font-weight="normal" >Acetyl-CoA</text>
<path d="M315.00 275.80L315.25 275.80L315.50 275.80L315.75 275.80L316.00 275.80L316.25 275.80L316.50 275.80L316.75 275.80L317.00 275.80L317.25 275.80L317.50 275.80L317.75 275.80L318.00 275.80L318.25 275.80L318.50 275.80L318.75 275.80L319.00 275.80L319.25 275.80L319.50 275.79L319.75 275.78L320.00 275.76L320.25 275.69L320.50 275.53L320.75 275.18L321.00 274.49L321.25 273.19L321.50 270.97L321.75 267.45L322.00 262.34L322.25 255.54L322.50 247.36L322.75 238.54L323.00 230.25L323.25 223.85L323.50 220.51L323.75 220.99L324.00 222.54L324.25 224.34L324.50 226.40L324.75 228.67L325.00 231.13L325.25 233.74L325.50 236.46L325.75 239.24L326.00 242.04L326.25 244.82L326.50 247.53L326.75 250.15L327.00 252.63L327.25 254.97L327.50 257.14L327.75 259.14L328.00 260.96L328.25 262.60L328.50 264.07L328.75 265.36L329.00 266.51L329.25 267.51L329.50 268.38L329.75 269.13L330.00 269.79L330.25 270.35L330.50 270.84L330.75 271.26L331.00 271.61L331.25 271.92L331.50 272.19L331.75 272.41L332.00 272.61L332.25 272.79L332.50 272.95L332.75 273.09L333.00 273.22L333.25 273.32L333.50 273.39L333.75 273.42L334.00 273.37L334.25 273.23L334.50 272.97L334.75 272.55L335.00 271.95L335.25 271.16L335.50 270.19L335.75 269.07L336.00 267.84L336.25 266.60L336.50 265.42L336.75 264.43L337.00 263.70L337.25 263.32L337.50 263.33L337.75 263.72L338.00 264.47L338.25 265.49L338.50 266.69L338.75 267.96L339.00 269.20L339.25 270.31L339.50 271.21L339.75 271.87L340.00 272.23L340.25 272.31L340.50 272.10L340.75 271.63L341.00 270.95L341.25 270.13L341.50 269.24L341.75 268.37L342.00 267.62L342.25 267.08L342.50 266.80L342.75 266.91L343.00 267.27L343.25 267.78L343.50 268.42L343.75 269.15L344.00 269.93L344.25 270.73L344.50 271.50L344.75 272.21L345.00 272.85L345.25 273.40L345.50 273.85L345.75 274.22L346.00 274.50L346.25 274.71L346.50 274.86L346.75 274.96L347.00 275.02L347.25 275.06L347.50 275.09L347.75 275.11L348.00 275.13L348.25 275.15L348.50 275.18L348.75 275.20L349.00 275.23L349.25 275.26L349.50 275.28L349.75 275.30L350.00 275.31L350.25 275.33L350.50 275.34L350.75 275.35L351.00 275.37L351.25 275.39L351.50 275.41L351.75 275.44L352.00 275.46L352.25 275.48L352.50 275.48L352.75 275.46L353.00 275.40L353.25 275.30L353.50 275.16L353.75 274.97L354.00 274.74L354.25 274.48L354.50 274.21L354.75 273.97L355.00 273.77L355.25 273.63L355.50 273.59L355.75 273.63L356.00 273.77L356.25 273.98L356.50 274.24L356.75 274.51L357.00 274.78L357.25 275.01L357.50 275.20L357.75 275.34L358.00 275.43L358.25 275.49L358.50 275.51L358.75 275.52L359.00 275.51L359.25 275.51L359.50 275.51L359.75 275.51L360.00 275.51L360.25 275.52L360.50 275.53L360.75 275.54L361.00 275.55L361.25 275.55L361.50 275.56L361.75 275.57L362.00 275.58L362.25 275.60L362.50 275.63L362.75 275.66L363.00 275.69L363.25 275.72L363.50 275.75L363.75 275.77L364.00 275.77L364.25 275.76L364.50 275.71L364.75 275.62L365.00 275.44L365.25 275.11L365.50 274.55L365.75 273.59L366.00 272.04L366.25 269.67L366.50 266.22L366.75 261.52L367.00 255.51L367.25 248.36L367.50 240.52L367.75 232.70L368.00 225.75L368.25 220.60L368.50 217.96L368.75 218.49L369.00 220.73L369.25 224.04L369.50 228.24L369.75 233.06L370.00 238.24L370.25 243.49L370.50 248.55L370.75 253.24L371.00 257.42L371.25 261.01L371.50 264.00L371.75 266.42L372.00 268.32L372.25 269.78L372.50 270.90L372.75 271.73L373.00 272.36L373.25 272.84L373.50 273.22L373.75 273.52L374.00 273.77L374.25 273.98L374.50 274.16L374.75 274.31L375.00 274.44L375.25 274.54L375.50 274.62L375.75 274.68L376.00 274.72L376.25 274.75L376.50 274.77L376.75 274.79L377.00 274.82L377.25 274.86L377.50 274.91L377.75 274.97L378.00 275.04L378.25 275.11L378.50 275.18L378.75 275.25L379.00 275.31L379.25 275.35L379.50 275.38L379.75 275.40L380.00 275.40L380.25 275.40L380.50 275.39L380.75 275.39L381.00 275.39L381.25 275.39L381.50 275.39L381.75 275.39L382.00 275.38L382.25 275.33L382.50 275.24L382.75 275.08L383.00 274.83L383.25 274.48L383.50 274.02L383.75 273.46L384.00 272.81L384.25 272.11L384.50 271.44L384.75 270.84L385.00 270.40L385.25 270.16L385.50 270.15L385.75 270.37L386.00 270.79L386.25 271.36L386.50 272.01L386.75 272.68L387.00 273.31L387.25 273.86L387.50 274.30L387.75 274.65L388.00 274.91L388.25 275.10L388.50 275.23L388.75 275.34L389.00 275.42L389.25 275.50L389.50 275.56L389.75 275.62L390.00 275.67L390.25 275.70L390.50 275.72L390.75 275.73L391.00 275.73L391.25 275.72L391.50 275.70L391.75 275.69L392.00 275.67L392.25 275.66L392.50 275.66L392.75 275.66L393.00 275.67L393.25 275.68L393.50 275.69L393.75 275.69L394.00 275.70L394.25 275.69L394.50 275.69L394.75 275.68L395.00 275.67L395.25 275.66L395.50 275.65L395.75 275.65L396.00 275.66L396.25 275.67L396.50 275.68L396.75 275.68L397.00 275.69L397.25 275.68L397.50 275.66L397.75 275.64L398.00 275.60L398.25 275.56L398.50 275.53L398.75 275.49L399.00 275.47L399.25 275.46L399.50 275.47L399.75 275.50L400.00 275.54L400.25 275.59L400.50 275.64L400.75 275.70L401.00 275.75L401.25 275.79L401.50 275.81L401.75 275.82L402.00 275.82L402.25 275.80L402.50 275.78L402.75 275.75L403.00 275.72L403.25 275.70L403.50 275.68L403.75 275.66L404.00 275.65L404.25 275.65L404.50 275.64L404.75 275.64L405.00 275.63L405.25 275.62L405.50 275.61L405.75 275.59L406.00 275.58L406.25 275.57L406.50 275.57L406.75 275.57L407.00 275.59L407.25 275.60L407.50 275.63L407.75 275.65L408.00 275.67L408.25 275.68L408.50 275.68L408.75 275.67L409.00 275.65L409.25 275.63L409.50 275.60L409.75 275.58L410.00 275.56L410.25 275.55L410.50 275.55L410.75 275.57L411.00 275.60L411.25 275.65L411.50 275.69L411.75 275.74L412.00 275.78L412.25 275.82L412.50 275.83L412.75 275.84L413.00 275.82L413.25 275.80L413.50 275.76L413.75 275.72L414.00 275.68L414.25 275.65L414.50 275.62L414.75 275.59L415.00 275.58L415.25 275.57L415.50 275.56L415.75 275.56L416.00 275.55L416.25 275.55L416.50 275.55L416.75 275.54L417.00 275.54L417.25 275.54L417.50 275.55L417.75 275.56L418.00 275.58L418.25 275.60L418.50 275.60L418.75 275.58L419.00 275.51L419.25 275.35L419.50 275.08L419.75 274.65L420.00 274.03L420.25 273.19L420.50 272.14L420.75 270.95L421.00 269.68L421.25 268.48L421.50 267.48L421.75 266.83L422.00 266.62L422.25 266.88L422.50 267.34L422.75 267.95L423.00 268.68L423.25 269.49L423.50 270.31L423.75 271.12L424.00 271.87L424.25 272.54L424.50 273.11L424.75 273.59L425.00 273.98L425.25 274.28L425.50 274.52L425.75 274.70L426.00 274.84L426.25 274.96L426.50 275.05L426.75 275.12L427.00 275.18L427.25 275.23L427.50 275.27L427.75 275.31L428.00 275.34L428.25 275.37L428.50 275.41L428.75 275.45L429.00 275.49L429.25 275.54L429.50 275.58L429.75 275.63L430.00 275.67L430.25 275.70L430.50 275.72L430.75 275.72L431.00 275.71L431.25 275.69L431.50 275.65L431.75 275.61L432.00 275.57L432.25 275.54L432.50 275.51L432.75 275.50L433.00 275.49L433.25 275.50L433.50 275.51L433.75 275.52L434.00 275.52L434.25 275.49L434.50 275.43L434.75 275.32L435.00 275.16L435.25 274.96L435.50 274.72L435.75 274.44L436.00 274.17L436.25 273.92L436.50 273.71L436.75 273.58L437.00 273.54L437.25 273.60L437.50 273.74L437.75 273.94L438.00 274.19L438.25 274.46L438.50 274.72L438.75 274.96L439.00 275.16L439.25 275.32L439.50 275.45L439.75 275.55L440.00 275.62L440.25 275.68L440.50 275.72L440.75 275.76L441.00 275.79L441.25 275.80L441.50 275.81L441.75 275.79L442.00 275.77L442.25 275.73L442.50 275.68L442.75 275.63L443.00 275.57L443.25 275.53L443.50 275.49L443.75 275.47L444.00 275.46L444.25 275.47L444.50 275.50L444.75 275.53L445.00 275.57L445.25 275.61L445.50 275.65L445.75 275.68L446.00 275.69L446.25 275.70L446.50 275.69L446.75 275.68L447.00 275.67L447.25 275.65L447.50 275.64L447.75 275.64L448.00 275.64L448.25 275.65L448.50 275.66L448.75 275.68L449.00 275.69L449.25 275.70L449.50 275.70L449.75 275.70L450.00 275.69L450.25 275.69L450.50 275.68L450.75 275.68" fill="none" stroke="#000" stroke-width="2.60" stroke-linejoin="round" stroke-linecap="butt"/>
<g stroke="#3c3c3c" stroke-width="0.95" fill="none">
<path d="M523.25 169.10 V282.30"/>
<path d="M518.60 277.30 H659.40"/>
<path d="M518.60 220.40 H523.60"/>
<path d="M577.30 277.30 V282.30"/>
<path d="M631.00 277.30 V282.30"/>
</g>
<text x="509.10" y="282.30" font-size="17.00" text-anchor="end" font-weight="normal" >0</text>
<text x="509.10" y="225.80" font-size="17.00" text-anchor="end" font-weight="normal" >100</text>
<g stroke="#303030" stroke-width="1.05" fill="none">
<path d="M535.00 209.60 L551.20 190.40"/>
<path d="M551.40 190.40 V255.00"/>
<path d="M545.80 249.00 V259.00"/>
<path d="M578.60 235.00 L578.60 260.60"/>
<path d="M629.60 255.40 L629.60 263.40"/>
</g>
<text x="527.00" y="186.20" font-size="12.70" text-anchor="start" font-weight="normal" >Suc-CoA</text>
<text font-size="12.70" transform="translate(548.40 246.30) rotate(-90)">CoA</text>
<text x="556.60" y="232.95" font-size="12.70" text-anchor="start" font-weight="normal" >MSuc-CoA</text>
<text x="595.20" y="252.45" font-size="12.70" text-anchor="start" font-weight="normal" >Acetyl-CoA</text>
<path d="M523.60 275.80L523.85 275.80L524.10 275.80L524.35 275.80L524.60 275.80L524.85 275.80L525.10 275.80L525.35 275.80L525.60 275.80L525.85 275.79L526.10 275.78L526.35 275.75L526.60 275.67L526.85 275.48L527.10 275.06L527.35 274.19L527.60 272.57L527.85 269.73L528.10 265.16L528.35 258.41L528.60 249.26L528.85 238.02L529.10 225.62L529.35 213.60L529.60 203.87L529.85 198.17L530.10 197.93L530.35 200.04L530.60 202.52L530.85 205.35L531.10 208.51L531.35 211.94L531.60 215.59L531.85 219.41L532.10 223.33L532.35 227.29L532.60 231.22L532.85 235.08L533.10 238.81L533.35 242.36L533.60 245.72L533.85 248.84L534.10 251.72L534.35 254.34L534.60 256.71L534.85 258.84L535.10 260.72L535.35 262.38L535.60 263.84L535.85 265.10L536.10 266.19L536.35 267.14L536.60 267.96L536.85 268.67L537.10 269.30L537.35 269.84L537.60 270.32L537.85 270.74L538.10 271.12L538.35 271.44L538.60 271.73L538.85 271.99L539.10 272.22L539.35 272.42L539.60 272.59L539.85 272.75L540.10 272.89L540.35 273.01L540.60 273.10L540.85 273.16L541.10 273.16L541.35 273.09L541.60 272.93L541.85 272.64L542.10 272.22L542.35 271.65L542.60 270.92L542.85 270.05L543.10 269.08L543.35 268.07L543.60 267.08L543.85 266.21L544.10 265.54L544.35 265.12L544.60 265.02L544.85 265.24L545.10 265.75L545.35 266.52L545.60 267.45L545.85 268.45L546.10 269.43L546.35 270.28L546.60 270.92L546.85 271.30L547.10 271.35L547.35 271.07L547.60 270.46L547.85 269.55L548.10 268.40L548.35 267.10L548.60 265.78L548.85 264.56L549.10 263.57L549.35 262.93L549.60 262.71L549.85 263.11L550.10 263.73L550.35 264.56L550.60 265.53L550.85 266.61L551.10 267.73L551.35 268.83L551.60 269.87L551.85 270.82L552.10 271.65L552.35 272.35L552.60 272.94L552.85 273.41L553.10 273.77L553.35 274.06L553.60 274.28L553.85 274.45L554.10 274.59L554.35 274.70L554.60 274.80L554.85 274.88L555.10 274.96L555.35 275.03L555.60 275.10L555.85 275.16L556.10 275.21L556.35 275.25L556.60 275.28L556.85 275.30L557.10 275.32L557.35 275.32L557.60 275.32L557.85 275.33L558.10 275.33L558.35 275.35L558.60 275.38L558.85 275.41L559.10 275.45L559.35 275.49L559.60 275.54L559.85 275.57L560.10 275.59L560.35 275.60L560.60 275.59L560.85 275.56L561.10 275.51L561.35 275.44L561.60 275.35L561.85 275.25L562.10 275.14L562.35 275.02L562.60 274.90L562.85 274.79L563.10 274.69L563.35 274.61L563.60 274.57L563.85 274.56L564.10 274.59L564.35 274.66L564.60 274.76L564.85 274.88L565.10 275.02L565.35 275.16L565.60 275.29L565.85 275.41L566.10 275.51L566.35 275.59L566.60 275.65L566.85 275.70L567.10 275.72L567.35 275.73L567.60 275.73L567.85 275.71L568.10 275.68L568.35 275.64L568.60 275.61L568.85 275.57L569.10 275.54L569.35 275.53L569.60 275.52L569.85 275.53L570.10 275.56L570.35 275.59L570.60 275.62L570.85 275.65L571.10 275.68L571.35 275.69L571.60 275.69L571.85 275.69L572.10 275.66L572.35 275.64L572.60 275.60L572.85 275.57L573.10 275.55L573.35 275.54L573.60 275.54L573.85 275.55L574.10 275.57L574.35 275.59L574.60 275.62L574.85 275.64L575.10 275.63L575.35 275.59L575.60 275.48L575.85 275.29L576.10 274.95L576.35 274.45L576.60 273.72L576.85 272.76L577.10 271.56L577.35 270.19L577.60 268.73L577.85 267.34L578.10 266.17L578.35 265.39L578.60 265.09L578.85 265.35L579.10 265.81L579.35 266.45L579.60 267.24L579.85 268.12L580.10 269.05L580.35 269.99L580.60 270.89L580.85 271.72L581.10 272.47L581.35 273.12L581.60 273.67L581.85 274.11L582.10 274.47L582.35 274.74L582.60 274.94L582.85 275.08L583.10 275.18L583.35 275.23L583.60 275.27L583.85 275.29L584.10 275.30L584.35 275.31L584.60 275.33L584.85 275.36L585.10 275.39L585.35 275.43L585.60 275.47L585.85 275.50L586.10 275.54L586.35 275.56L586.60 275.58L586.85 275.59L587.10 275.60L587.35 275.59L587.60 275.59L587.85 275.59L588.10 275.58L588.35 275.58L588.60 275.59L588.85 275.59L589.10 275.59L589.35 275.58L589.60 275.58L589.85 275.56L590.10 275.54L590.35 275.51L590.60 275.49L590.85 275.46L591.10 275.45L591.35 275.45L591.60 275.46L591.85 275.48L592.10 275.52L592.35 275.57L592.60 275.62L592.85 275.68L593.10 275.74L593.35 275.78L593.60 275.81L593.85 275.82L594.10 275.82L594.35 275.80L594.60 275.77L594.85 275.73L595.10 275.70L595.35 275.66L595.60 275.64L595.85 275.62L596.10 275.61L596.35 275.61L596.60 275.62L596.85 275.63L597.10 275.64L597.35 275.64L597.60 275.64L597.85 275.64L598.10 275.63L598.35 275.62L598.60 275.61L598.85 275.60L599.10 275.60L599.35 275.60L599.60 275.61L599.85 275.62L600.10 275.63L600.35 275.63L600.60 275.64L600.85 275.63L601.10 275.62L601.35 275.61L601.60 275.59L601.85 275.57L602.10 275.56L602.35 275.55L602.60 275.56L602.85 275.58L603.10 275.61L603.35 275.65L603.60 275.70L603.85 275.75L604.10 275.79L604.35 275.83L604.60 275.85L604.85 275.85L605.10 275.84L605.35 275.81L605.60 275.77L605.85 275.73L606.10 275.68L606.35 275.63L606.60 275.59L606.85 275.56L607.10 275.54L607.35 275.53L607.60 275.54L607.85 275.54L608.10 275.56L608.35 275.57L608.60 275.58L608.85 275.58L609.10 275.59L609.35 275.59L609.60 275.59L609.85 275.60L610.10 275.61L610.35 275.62L610.60 275.64L610.85 275.66L611.10 275.69L611.35 275.70L611.60 275.72L611.85 275.72L612.10 275.72L612.35 275.71L612.60 275.69L612.85 275.66L613.10 275.64L613.35 275.62L613.60 275.61L613.85 275.62L614.10 275.63L614.35 275.65L614.60 275.68L614.85 275.72L615.10 275.75L615.35 275.78L615.60 275.79L615.85 275.79L616.10 275.78L616.35 275.75L616.60 275.71L616.85 275.66L617.10 275.61L617.35 275.56L617.60 275.52L617.85 275.50L618.10 275.48L618.35 275.48L618.60 275.49L618.85 275.51L619.10 275.54L619.35 275.56L619.60 275.59L619.85 275.61L620.10 275.62L620.35 275.64L620.60 275.65L620.85 275.67L621.10 275.68L621.35 275.70L621.60 275.72L621.85 275.74L622.10 275.76L622.35 275.78L622.60 275.79L622.85 275.79L623.10 275.77L623.35 275.75L623.60 275.72L623.85 275.68L624.10 275.65L624.35 275.61L624.60 275.58L624.85 275.57L625.10 275.56L625.35 275.57L625.60 275.59L625.85 275.61L626.10 275.64L626.35 275.65L626.60 275.63L626.85 275.57L627.10 275.44L627.35 275.22L627.60 274.87L627.85 274.36L628.10 273.66L628.35 272.77L628.60 271.71L628.85 270.54L629.10 269.36L629.35 268.30L629.60 267.49L629.85 267.04L630.10 267.07L630.35 267.40L630.60 267.90L630.85 268.53L631.10 269.25L631.35 270.03L631.60 270.82L631.85 271.59L632.10 272.31L632.35 272.95L632.60 273.50L632.85 273.97L633.10 274.35L633.35 274.65L633.60 274.87L633.85 275.03L634.10 275.14L634.35 275.21L634.60 275.24L634.85 275.25L635.10 275.25L635.35 275.24L635.60 275.23L635.85 275.24L636.10 275.25L636.35 275.28L636.60 275.32L636.85 275.37L637.10 275.42L637.35 275.48L637.60 275.53L637.85 275.57L638.10 275.59L638.35 275.61L638.60 275.61L638.85 275.60L639.10 275.58L639.35 275.56L639.60 275.55L639.85 275.54L640.10 275.53L640.35 275.54L640.60 275.55L640.85 275.56L641.10 275.57L641.35 275.56L641.60 275.54L641.85 275.49L642.10 275.42L642.35 275.32L642.60 275.20L642.85 275.07L643.10 274.94L643.35 274.83L643.60 274.75L643.85 274.70L644.10 274.70L644.35 274.73L644.60 274.80L644.85 274.90L645.10 275.00L645.35 275.10L645.60 275.19L645.85 275.26L646.10 275.31L646.35 275.34L646.60 275.37L646.85 275.39L647.10 275.41L647.35 275.45L647.60 275.49L647.85 275.54L648.10 275.59L648.35 275.65L648.60 275.70L648.85 275.75L649.10 275.78L649.35 275.79L649.60 275.79L649.85 275.78L650.10 275.76L650.35 275.73L650.60 275.70L650.85 275.68L651.10 275.66L651.35 275.65L651.60 275.65L651.85 275.65L652.10 275.66L652.35 275.67L652.60 275.67L652.85 275.68L653.10 275.68L653.35 275.67L653.60 275.66L653.85 275.65L654.10 275.64L654.35 275.63L654.60 275.62L654.85 275.62L655.10 275.63L655.35 275.63L655.60 275.64L655.85 275.64L656.10 275.64L656.35 275.63L656.60 275.61L656.85 275.59L657.10 275.56L657.35 275.54L657.60 275.52L657.85 275.51L658.10 275.52L658.35 275.53L658.60 275.57L658.85 275.61L659.10 275.67L659.35 275.72" fill="none" stroke="#000" stroke-width="2.60" stroke-linejoin="round" stroke-linecap="butt"/>
<text x="1.50" y="378.70" font-size="21.00" text-anchor="start" font-weight="normal" >3 min</text>
<g stroke="#3c3c3c" stroke-width="0.95" fill="none">
<path d="M107.30 293.30 V406.50"/>
<path d="M102.65 401.50 H243.45"/>
<path d="M102.65 344.60 H107.65"/>
<path d="M161.35 401.50 V406.50"/>
<path d="M215.05 401.50 V406.50"/>
</g>
<text x="92.50" y="406.50" font-size="17.00" text-anchor="end" font-weight="normal" >0</text>
<text x="92.50" y="350.00" font-size="17.00" text-anchor="end" font-weight="normal" >100</text>
<text x="107.00" y="426.50" font-size="17.00" text-anchor="middle" font-weight="normal" >0.95</text>
<text x="161.70" y="426.50" font-size="17.00" text-anchor="middle" font-weight="normal" >1.45</text>
<text x="215.40" y="426.50" font-size="17.00" text-anchor="middle" font-weight="normal" >1.95</text>
<text x="241.40" y="426.50" font-size="17.00" text-anchor="start" font-weight="normal" >min</text>
<g stroke="#303030" stroke-width="1.05" fill="none">
<path d="M117.00 364.00 L134.20 318.60"/>
<path d="M134.40 318.60 V389.80"/>
<path d="M129.50 374.40 V382.80"/>
<path d="M159.00 349.40 L159.00 368.00"/>
<path d="M212.00 322.00 L212.00 329.40"/>
</g>
<text x="110.40" y="314.20" font-size="12.70" text-anchor="start" font-weight="normal" >Suc-CoA</text>
<text font-size="12.70" transform="translate(131.20 374.70) rotate(-90)">CoA</text>
<text x="143.20" y="346.45" font-size="12.70" text-anchor="start" font-weight="normal" >Ita-CoA</text>
<text x="175.60" y="317.85" font-size="12.70" text-anchor="start" font-weight="normal" >Acetyl-CoA</text>
<path d="M107.65 399.60L107.90 399.60L108.15 399.60L108.40 399.60L108.65 399.60L108.90 399.60L109.15 399.60L109.40 399.60L109.65 399.60L109.90 399.60L110.15 399.60L110.40 399.60L110.65 399.60L110.90 399.60L111.15 399.60L111.40 399.60L111.65 399.60L111.90 399.60L112.15 399.60L112.40 399.60L112.65 399.60L112.90 399.60L113.15 399.60L113.40 399.59L113.65 399.57L113.90 399.52L114.15 399.39L114.40 399.11L114.65 398.55L114.90 397.52L115.15 395.78L115.40 393.09L115.65 389.34L115.90 384.63L116.15 379.37L116.40 374.30L116.65 370.30L116.90 368.19L117.15 368.58L117.40 369.90L117.65 371.63L117.90 373.70L118.15 376.00L118.40 378.43L118.65 380.89L118.90 383.27L119.15 385.51L119.40 387.53L119.65 389.31L119.90 390.83L120.15 392.11L120.40 393.16L120.65 394.02L120.90 394.70L121.15 395.26L121.40 395.70L121.65 396.07L121.90 396.37L122.15 396.63L122.40 396.85L122.65 397.05L122.90 397.22L123.15 397.38L123.40 397.52L123.65 397.65L123.90 397.76L124.15 397.87L124.40 397.96L124.65 398.05L124.90 398.14L125.15 398.21L125.40 398.28L125.65 398.32L125.90 398.34L126.15 398.32L126.40 398.23L126.65 398.04L126.90 397.72L127.15 397.24L127.40 396.56L127.65 395.66L127.90 394.53L128.15 393.19L128.40 391.67L128.65 390.06L128.90 388.46L129.15 386.97L129.40 385.74L129.65 384.86L129.90 384.43L130.15 384.47L130.40 384.98L130.65 385.90L130.90 387.12L131.15 388.52L131.40 389.98L131.65 391.37L131.90 392.60L132.15 393.62L132.40 394.40L132.65 394.93L132.90 395.24L133.15 395.38L133.40 395.39L133.65 395.31L133.90 395.19L134.15 395.06L134.40 394.95L134.65 394.89L134.90 394.89L135.15 394.96L135.40 395.09L135.65 395.30L135.90 395.56L136.15 395.88L136.40 396.23L136.65 396.61L136.90 396.99L137.15 397.37L137.40 397.73L137.65 398.06L137.90 398.35L138.15 398.59L138.40 398.79L138.65 398.94L138.90 399.06L139.15 399.14L139.40 399.20L139.65 399.24L139.90 399.28L140.15 399.31L140.40 399.35L140.65 399.38L140.90 399.43L141.15 399.47L141.40 399.50L141.65 399.53L141.90 399.55L142.15 399.56L142.40 399.56L142.65 399.54L142.90 399.52L143.15 399.48L143.40 399.44L143.65 399.40L143.90 399.34L144.15 399.28L144.40 399.19L144.65 399.08L144.90 398.94L145.15 398.75L145.40 398.53L145.65 398.29L145.90 398.03L146.15 397.78L146.40 397.57L146.65 397.42L146.90 397.35L147.15 397.38L147.40 397.50L147.65 397.70L147.90 397.96L148.15 398.25L148.40 398.55L148.65 398.82L148.90 399.05L149.15 399.23L149.40 399.35L149.65 399.43L149.90 399.46L150.15 399.47L150.40 399.45L150.65 399.43L150.90 399.40L151.15 399.39L151.40 399.38L151.65 399.38L151.90 399.40L152.15 399.42L152.40 399.44L152.65 399.46L152.90 399.48L153.15 399.49L153.40 399.49L153.65 399.48L153.90 399.46L154.15 399.44L154.40 399.41L154.65 399.39L154.90 399.36L155.15 399.31L155.40 399.24L155.65 399.11L155.90 398.86L156.15 398.42L156.40 397.68L156.65 396.55L156.90 394.88L157.15 392.60L157.40 389.69L157.65 386.23L157.90 382.44L158.15 378.66L158.40 375.33L158.65 372.87L158.90 371.64L159.15 371.95L159.40 373.08L159.65 374.72L159.90 376.78L160.15 379.13L160.40 381.63L160.65 384.14L160.90 386.54L161.15 388.75L161.40 390.71L161.65 392.38L161.90 393.76L162.15 394.89L162.40 395.78L162.65 396.47L162.90 397.01L163.15 397.43L163.40 397.76L163.65 398.01L163.90 398.21L164.15 398.37L164.40 398.49L164.65 398.58L164.90 398.66L165.15 398.72L165.40 398.78L165.65 398.83L165.90 398.87L166.15 398.92L166.40 398.97L166.65 399.02L166.90 399.06L167.15 399.11L167.40 399.14L167.65 399.17L167.90 399.20L168.15 399.22L168.40 399.23L168.65 399.24L168.90 399.25L169.15 399.27L169.40 399.29L169.65 399.32L169.90 399.35L170.15 399.38L170.40 399.41L170.65 399.44L170.90 399.44L171.15 399.43L171.40 399.38L171.65 399.30L171.90 399.18L172.15 399.00L172.40 398.76L172.65 398.48L172.90 398.14L173.15 397.77L173.40 397.38L173.65 397.01L173.90 396.70L174.15 396.47L174.40 396.35L174.65 396.35L174.90 396.49L175.15 396.74L175.40 397.07L175.65 397.45L175.90 397.84L176.15 398.21L176.40 398.54L176.65 398.81L176.90 399.03L177.15 399.19L177.40 399.31L177.65 399.39L177.90 399.45L178.15 399.48L178.40 399.49L178.65 399.50L178.90 399.49L179.15 399.47L179.40 399.45L179.65 399.43L179.90 399.41L180.15 399.39L180.40 399.39L180.65 399.39L180.90 399.40L181.15 399.42L181.40 399.44L181.65 399.47L181.90 399.49L182.15 399.50L182.40 399.50L182.65 399.48L182.90 399.46L183.15 399.42L183.40 399.38L183.65 399.35L183.90 399.31L184.15 399.29L184.40 399.28L184.65 399.29L184.90 399.32L185.15 399.35L185.40 399.40L185.65 399.44L185.90 399.49L186.15 399.53L186.40 399.57L186.65 399.59L186.90 399.60L187.15 399.60L187.40 399.59L187.65 399.57L187.90 399.56L188.15 399.54L188.40 399.53L188.65 399.52L188.90 399.50L189.15 399.49L189.40 399.48L189.65 399.46L189.90 399.44L190.15 399.41L190.40 399.38L190.65 399.36L190.90 399.33L191.15 399.32L191.40 399.31L191.65 399.31L191.90 399.33L192.15 399.36L192.40 399.39L192.65 399.43L192.90 399.47L193.15 399.50L193.40 399.51L193.65 399.52L193.90 399.51L194.15 399.49L194.40 399.47L194.65 399.44L194.90 399.41L195.15 399.39L195.40 399.37L195.65 399.38L195.90 399.39L196.15 399.42L196.40 399.45L196.65 399.49L196.90 399.53L197.15 399.56L197.40 399.58L197.65 399.59L197.90 399.59L198.15 399.58L198.40 399.56L198.65 399.53L198.90 399.51L199.15 399.48L199.40 399.46L199.65 399.44L199.90 399.43L200.15 399.41L200.40 399.40L200.65 399.39L200.90 399.37L201.15 399.35L201.40 399.33L201.65 399.32L201.90 399.30L202.15 399.30L202.40 399.30L202.65 399.31L202.90 399.34L203.15 399.38L203.40 399.43L203.65 399.47L203.90 399.52L204.15 399.56L204.40 399.59L204.65 399.61L204.90 399.60L205.15 399.59L205.40 399.56L205.65 399.53L205.90 399.49L206.15 399.45L206.40 399.43L206.65 399.41L206.90 399.40L207.15 399.41L207.40 399.42L207.65 399.42L207.90 399.41L208.15 399.35L208.40 399.19L208.65 398.87L208.90 398.26L209.15 397.18L209.40 395.40L209.65 392.66L209.90 388.67L210.15 383.22L210.40 376.27L210.65 368.02L210.90 358.98L211.15 349.97L211.40 341.98L211.65 336.06L211.90 333.05L212.15 333.69L212.40 336.29L212.65 340.13L212.90 344.99L213.15 350.57L213.40 356.55L213.65 362.60L213.90 368.45L214.15 373.87L214.40 378.69L214.65 382.84L214.90 386.30L215.15 389.09L215.40 391.27L215.65 392.95L215.90 394.20L216.15 395.13L216.40 395.79L216.65 396.28L216.90 396.63L217.15 396.90L217.40 397.11L217.65 397.29L217.90 397.45L218.15 397.61L218.40 397.76L218.65 397.90L218.90 398.04L219.15 398.17L219.40 398.29L219.65 398.39L219.90 398.48L220.15 398.56L220.40 398.63L220.65 398.68L220.90 398.73L221.15 398.78L221.40 398.83L221.65 398.88L221.90 398.93L222.15 398.97L222.40 399.02L222.65 399.07L222.90 399.10L223.15 399.13L223.40 399.16L223.65 399.17L223.90 399.19L224.15 399.20L224.40 399.21L224.65 399.21L224.90 399.21L225.15 399.19L225.40 399.14L225.65 399.04L225.90 398.85L226.15 398.56L226.40 398.13L226.65 397.54L226.90 396.80L227.15 395.93L227.40 394.97L227.65 394.00L227.90 393.12L228.15 392.41L228.40 391.97L228.65 391.84L228.90 392.05L229.15 392.56L229.40 393.31L229.65 394.21L229.90 395.17L230.15 396.11L230.40 396.96L230.65 397.68L230.90 398.24L231.15 398.67L231.40 398.97L231.65 399.17L231.90 399.30L232.15 399.38L232.40 399.42L232.65 399.46L232.90 399.48L233.15 399.49L233.40 399.51L233.65 399.52L233.90 399.52L234.15 399.51L234.40 399.50L234.65 399.49L234.90 399.47L235.15 399.45L235.40 399.43L235.65 399.42L235.90 399.41L236.15 399.42L236.40 399.44L236.65 399.46L236.90 399.48L237.15 399.50L237.40 399.52L237.65 399.53L237.90 399.52L238.15 399.50L238.40 399.47L238.65 399.43L238.90 399.39L239.15 399.34L239.40 399.30L239.65 399.28L239.90 399.26L240.15 399.27L240.40 399.28L240.65 399.32L240.90 399.36L241.15 399.40L241.40 399.45L241.65 399.49L241.90 399.52L242.15 399.54L242.40 399.56L242.65 399.56L242.90 399.56L243.15 399.56L243.40 399.56" fill="none" stroke="#000" stroke-width="2.60" stroke-linejoin="round" stroke-linecap="butt"/>
<g stroke="#3c3c3c" stroke-width="0.95" fill="none">
<path d="M314.65 292.50 V405.70"/>
<path d="M310.00 400.70 H450.80"/>
<path d="M310.00 343.80 H315.00"/>
<path d="M368.70 400.70 V405.70"/>
<path d="M422.40 400.70 V405.70"/>
</g>
<text x="300.50" y="405.70" font-size="17.00" text-anchor="end" font-weight="normal" >0</text>
<text x="300.50" y="349.20" font-size="17.00" text-anchor="end" font-weight="normal" >100</text>
<text x="315.00" y="426.50" font-size="17.00" text-anchor="middle" font-weight="normal" >0.95</text>
<text x="369.70" y="426.50" font-size="17.00" text-anchor="middle" font-weight="normal" >1.45</text>
<text x="423.40" y="426.50" font-size="17.00" text-anchor="middle" font-weight="normal" >1.95</text>
<text x="449.40" y="426.50" font-size="17.00" text-anchor="start" font-weight="normal" >min</text>
<g stroke="#303030" stroke-width="1.05" fill="none">
<path d="M324.40 366.00 L342.20 320.00"/>
<path d="M342.40 320.00 V391.00"/>
<path d="M337.40 374.00 V380.00"/>
<path d="M376.40 344.60 L385.30 338.60"/>
<path d="M385.40 338.60 L385.40 386.60"/>
<path d="M422.00 373.40 L422.00 381.00"/>
</g>
<text x="318.40" y="315.80" font-size="12.70" text-anchor="start" font-weight="normal" >Suc-CoA</text>
<text font-size="12.70" transform="translate(339.90 372.70) rotate(-90)">CoA</text>
<text x="372.60" y="334.05" font-size="12.70" text-anchor="start" font-weight="normal" >MSuc-CoA</text>
<text x="388.00" y="369.45" font-size="12.70" text-anchor="start" font-weight="normal" >Acetyl-CoA</text>
<path d="M315.00 399.20L315.25 399.20L315.50 399.20L315.75 399.20L316.00 399.20L316.25 399.20L316.50 399.20L316.75 399.20L317.00 399.20L317.25 399.20L317.50 399.20L317.75 399.20L318.00 399.20L318.25 399.20L318.50 399.20L318.75 399.20L319.00 399.20L319.25 399.20L319.50 399.20L319.75 399.20L320.00 399.20L320.25 399.20L320.50 399.19L320.75 399.16L321.00 399.10L321.25 398.95L321.50 398.63L321.75 398.01L322.00 396.91L322.25 395.12L322.50 392.47L322.75 388.91L323.00 384.64L323.25 380.12L323.50 376.06L323.75 373.22L324.00 372.20L324.25 373.10L324.50 374.38L324.75 375.98L325.00 377.83L325.25 379.86L325.50 381.96L325.75 384.04L326.00 386.03L326.25 387.87L326.50 389.52L326.75 390.95L327.00 392.17L327.25 393.18L327.50 394.01L327.75 394.67L328.00 395.21L328.25 395.65L328.50 396.00L328.75 396.29L329.00 396.54L329.25 396.75L329.50 396.93L329.75 397.09L330.00 397.23L330.25 397.35L330.50 397.46L330.75 397.55L331.00 397.63L331.25 397.71L331.50 397.78L331.75 397.85L332.00 397.92L332.25 397.99L332.50 398.05L332.75 398.11L333.00 398.16L333.25 398.18L333.50 398.15L333.75 398.05L334.00 397.85L334.25 397.52L334.50 397.02L334.75 396.32L335.00 395.38L335.25 394.19L335.50 392.77L335.75 391.14L336.00 389.40L336.25 387.63L336.50 385.97L336.75 384.54L337.00 383.49L337.25 382.91L337.50 382.84L337.75 383.30L338.00 384.24L338.25 385.56L338.50 387.12L338.75 388.79L339.00 390.45L339.25 391.97L339.50 393.28L339.75 394.33L340.00 395.11L340.25 395.63L340.50 395.93L340.75 396.03L341.00 395.99L341.25 395.85L341.50 395.65L341.75 395.42L342.00 395.21L342.25 395.03L342.50 394.91L342.75 394.86L343.00 394.89L343.25 395.00L343.50 395.18L343.75 395.43L344.00 395.73L344.25 396.07L344.50 396.43L344.75 396.79L345.00 397.13L345.25 397.45L345.50 397.74L345.75 397.99L346.00 398.20L346.25 398.38L346.50 398.52L346.75 398.64L347.00 398.73L347.25 398.80L347.50 398.86L347.75 398.91L348.00 398.94L348.25 398.96L348.50 398.98L348.75 398.98L349.00 398.98L349.25 398.98L349.50 398.97L349.75 398.96L350.00 398.96L350.25 398.97L350.50 398.98L350.75 398.99L351.00 399.01L351.25 399.04L351.50 399.05L351.75 399.06L352.00 399.04L352.25 399.01L352.50 398.94L352.75 398.84L353.00 398.69L353.25 398.50L353.50 398.27L353.75 398.00L354.00 397.70L354.25 397.40L354.50 397.11L354.75 396.88L355.00 396.71L355.25 396.64L355.50 396.67L355.75 396.80L356.00 397.01L356.25 397.28L356.50 397.58L356.75 397.87L357.00 398.14L357.25 398.37L357.50 398.55L357.75 398.69L358.00 398.78L358.25 398.85L358.50 398.89L358.75 398.91L359.00 398.93L359.25 398.94L359.50 398.94L359.75 398.95L360.00 398.94L360.25 398.94L360.50 398.94L360.75 398.94L361.00 398.95L361.25 398.97L361.50 398.99L361.75 399.02L362.00 399.05L362.25 399.09L362.50 399.12L362.75 399.15L363.00 399.17L363.25 399.17L363.50 399.15L363.75 399.11L364.00 399.03L364.25 398.88L364.50 398.62L364.75 398.14L365.00 397.32L365.25 395.94L365.50 393.75L365.75 390.43L366.00 385.72L366.25 379.45L366.50 371.64L366.75 362.64L367.00 353.11L367.25 343.99L367.50 336.38L367.75 331.30L368.00 329.50L368.25 331.34L368.50 334.57L368.75 339.01L369.00 344.40L369.25 350.42L369.50 356.71L369.75 362.97L370.00 368.89L370.25 374.29L370.50 379.02L370.75 383.02L371.00 386.32L371.25 388.95L371.50 391.00L371.75 392.57L372.00 393.76L372.25 394.65L372.50 395.34L372.75 395.86L373.00 396.28L373.25 396.62L373.50 396.90L373.75 397.13L374.00 397.33L374.25 397.49L374.50 397.62L374.75 397.72L375.00 397.80L375.25 397.86L375.50 397.91L375.75 397.95L376.00 398.00L376.25 398.05L376.50 398.11L376.75 398.18L377.00 398.26L377.25 398.34L377.50 398.42L377.75 398.50L378.00 398.57L378.25 398.62L378.50 398.66L378.75 398.69L379.00 398.70L379.25 398.71L379.50 398.71L379.75 398.72L380.00 398.72L380.25 398.73L380.50 398.75L380.75 398.76L381.00 398.78L381.25 398.79L381.50 398.77L381.75 398.73L382.00 398.63L382.25 398.47L382.50 398.21L382.75 397.84L383.00 397.34L383.25 396.73L383.50 396.00L383.75 395.21L384.00 394.41L384.25 393.67L384.50 393.08L384.75 392.69L385.00 392.55L385.25 392.69L385.50 393.08L385.75 393.67L386.00 394.40L386.25 395.17L386.50 395.94L386.75 396.63L387.00 397.22L387.25 397.71L387.50 398.08L387.75 398.36L388.00 398.57L388.25 398.73L388.50 398.84L388.75 398.93L389.00 399.00L389.25 399.05L389.50 399.08L389.75 399.09L390.00 399.10L390.25 399.09L390.50 399.08L390.75 399.07L391.00 399.06L391.25 399.05L391.50 399.05L391.75 399.06L392.00 399.06L392.25 399.08L392.50 399.09L392.75 399.09L393.00 399.10L393.25 399.09L393.50 399.09L393.75 399.08L394.00 399.07L394.25 399.07L394.50 399.06L394.75 399.07L395.00 399.08L395.25 399.09L395.50 399.10L395.75 399.11L396.00 399.12L396.25 399.11L396.50 399.10L396.75 399.07L397.00 399.04L397.25 398.99L397.50 398.95L397.75 398.91L398.00 398.87L398.25 398.85L398.50 398.85L398.75 398.86L399.00 398.89L399.25 398.93L399.50 398.98L399.75 399.04L400.00 399.09L400.25 399.13L400.50 399.17L400.75 399.19L401.00 399.19L401.25 399.19L401.50 399.18L401.75 399.16L402.00 399.14L402.25 399.12L402.50 399.10L402.75 399.09L403.00 399.09L403.25 399.08L403.50 399.08L403.75 399.07L404.00 399.06L404.25 399.05L404.50 399.03L404.75 399.01L405.00 399.00L405.25 398.98L405.50 398.98L405.75 398.98L406.00 398.99L406.25 399.00L406.50 399.02L406.75 399.04L407.00 399.06L407.25 399.08L407.50 399.08L407.75 399.07L408.00 399.05L408.25 399.03L408.50 399.00L408.75 398.97L409.00 398.94L409.25 398.92L409.50 398.92L409.75 398.93L410.00 398.96L410.25 399.00L410.50 399.05L410.75 399.10L411.00 399.15L411.25 399.19L411.50 399.22L411.75 399.23L412.00 399.23L412.25 399.22L412.50 399.19L412.75 399.16L413.00 399.13L413.25 399.10L413.50 399.07L413.75 399.04L414.00 399.03L414.25 399.01L414.50 399.00L414.75 398.99L415.00 398.98L415.25 398.97L415.50 398.95L415.75 398.94L416.00 398.93L416.25 398.93L416.50 398.93L416.75 398.94L417.00 398.96L417.25 398.98L417.50 399.02L417.75 399.05L418.00 399.07L418.25 399.08L418.50 399.04L418.75 398.95L419.00 398.78L419.25 398.46L419.50 397.96L419.75 397.21L420.00 396.16L420.25 394.78L420.50 393.08L420.75 391.13L421.00 389.08L421.25 387.14L421.50 385.53L421.75 384.48L422.00 384.13L422.25 384.57L422.50 385.29L422.75 386.26L423.00 387.42L423.25 388.70L423.50 390.03L423.75 391.35L424.00 392.59L424.25 393.71L424.50 394.70L424.75 395.54L425.00 396.23L425.25 396.78L425.50 397.22L425.75 397.55L426.00 397.81L426.25 398.00L426.50 398.14L426.75 398.25L427.00 398.33L427.25 398.40L427.50 398.47L427.75 398.53L428.00 398.60L428.25 398.67L428.50 398.74L428.75 398.81L429.00 398.87L429.25 398.93L429.50 398.97L429.75 399.00L430.00 399.01L430.25 399.00L430.50 398.98L430.75 398.96L431.00 398.93L431.25 398.90L431.50 398.87L431.75 398.86L432.00 398.86L432.25 398.87L432.50 398.89L432.75 398.92L433.00 398.94L433.25 398.95L433.50 398.94L433.75 398.91L434.00 398.84L434.25 398.73L434.50 398.59L434.75 398.41L435.00 398.21L435.25 398.00L435.50 397.80L435.75 397.63L436.00 397.51L436.25 397.44L436.50 397.45L436.75 397.52L437.00 397.65L437.25 397.82L437.50 398.01L437.75 398.21L438.00 398.39L438.25 398.56L438.50 398.71L438.75 398.83L439.00 398.92L439.25 399.01L439.50 399.07L439.75 399.13L440.00 399.17L440.25 399.21L440.50 399.22L440.75 399.22L441.00 399.21L441.25 399.18L441.50 399.13L441.75 399.08L442.00 399.03L442.25 398.98L442.50 398.93L442.75 398.90L443.00 398.88L443.25 398.88L443.50 398.90L443.75 398.92L444.00 398.96L444.25 398.99L444.50 399.02L444.75 399.05L445.00 399.06L445.25 399.07L445.50 399.07L445.75 399.06L446.00 399.05L446.25 399.04L446.50 399.03L446.75 399.03L447.00 399.03L447.25 399.04L447.50 399.05L447.75 399.06L448.00 399.07L448.25 399.08L448.50 399.09L448.75 399.09L449.00 399.08L449.25 399.08L449.50 399.08L449.75 399.07L450.00 399.08L450.25 399.09L450.50 399.11L450.75 399.12" fill="none" stroke="#000" stroke-width="2.60" stroke-linejoin="round" stroke-linecap="butt"/>
<g stroke="#3c3c3c" stroke-width="0.95" fill="none">
<path d="M523.75 293.40 V406.60"/>
<path d="M519.10 401.60 H659.90"/>
<path d="M519.10 344.70 H524.10"/>
<path d="M577.80 401.60 V406.60"/>
<path d="M631.50 401.60 V406.60"/>
</g>
<text x="509.10" y="406.60" font-size="17.00" text-anchor="end" font-weight="normal" >0</text>
<text x="509.10" y="350.10" font-size="17.00" text-anchor="end" font-weight="normal" >100</text>
<text x="523.60" y="426.50" font-size="17.00" text-anchor="middle" font-weight="normal" >0.95</text>
<text x="578.30" y="426.50" font-size="17.00" text-anchor="middle" font-weight="normal" >1.45</text>
<text x="632.00" y="426.50" font-size="17.00" text-anchor="middle" font-weight="normal" >1.95</text>
<text x="658.00" y="426.50" font-size="17.00" text-anchor="start" font-weight="normal" >min</text>
<g stroke="#303030" stroke-width="1.05" fill="none">
<path d="M535.60 330.00 L550.90 320.60"/>
<path d="M551.00 320.60 V387.00"/>
<path d="M545.60 373.30 V380.20"/>
<path d="M578.60 353.40 L578.60 378.00"/>
<path d="M630.40 370.00 L630.40 377.00"/>
</g>
<text x="527.00" y="316.80" font-size="12.70" text-anchor="start" font-weight="normal" >Suc-CoA</text>
<text font-size="12.70" transform="translate(548.00 372.70) rotate(-90)">CoA</text>
<text x="558.60" y="348.95" font-size="12.70" text-anchor="start" font-weight="normal" >MSuc-CoA</text>
<text x="594.00" y="368.45" font-size="12.70" text-anchor="start" font-weight="normal" >Acetyl-CoA</text>
<path d="M524.10 400.10L524.35 400.10L524.60 400.10L524.85 400.10L525.10 400.10L525.35 400.10L525.60 400.10L525.85 400.10L526.10 400.10L526.35 400.10L526.60 400.10L526.85 400.10L527.10 400.10L527.35 400.10L527.60 400.10L527.85 400.10L528.10 400.09L528.35 400.07L528.60 400.02L528.85 399.90L529.10 399.62L529.35 399.04L529.60 397.91L529.85 395.86L530.10 392.47L530.35 387.27L530.60 379.98L530.85 370.65L531.10 359.88L531.35 348.84L531.60 339.15L531.85 332.48L532.10 330.10L532.35 331.84L532.60 333.91L532.85 336.31L533.10 339.01L533.35 341.98L533.60 345.16L533.85 348.51L534.10 351.97L534.35 355.49L534.60 359.01L534.85 362.47L535.10 365.84L535.35 369.08L535.60 372.14L535.85 375.00L536.10 377.65L536.35 380.08L536.60 382.28L536.85 384.25L537.10 386.01L537.35 387.56L537.60 388.93L537.85 390.11L538.10 391.15L538.35 392.04L538.60 392.81L538.85 393.48L539.10 394.06L539.35 394.56L539.60 395.00L539.85 395.38L540.10 395.72L540.35 396.03L540.60 396.30L540.85 396.53L541.10 396.74L541.35 396.92L541.60 397.07L541.85 397.19L542.10 397.27L542.35 397.30L542.60 397.27L542.85 397.15L543.10 396.92L543.35 396.56L543.60 396.03L543.85 395.31L544.10 394.41L544.35 393.34L544.60 392.13L544.85 390.86L545.10 389.62L545.35 388.50L545.60 387.61L545.85 387.05L546.10 386.87L546.35 387.09L546.60 387.71L546.85 388.66L547.10 389.86L547.35 391.18L547.60 392.53L547.85 393.80L548.10 394.89L548.35 395.75L548.60 396.32L548.85 396.57L549.10 396.51L549.35 396.14L549.60 395.49L549.85 394.60L550.10 393.56L550.35 392.45L550.60 391.37L550.85 390.43L551.10 389.74L551.35 389.37L551.60 389.45L551.85 389.88L552.10 390.49L552.35 391.25L552.60 392.11L552.85 393.02L553.10 393.93L553.35 394.81L553.60 395.62L553.85 396.35L554.10 396.99L554.35 397.52L554.60 397.97L554.85 398.34L555.10 398.63L555.35 398.86L555.60 399.04L555.85 399.18L556.10 399.27L556.35 399.34L556.60 399.37L556.85 399.39L557.10 399.40L557.35 399.40L557.60 399.40L557.85 399.40L558.10 399.41L558.35 399.42L558.60 399.45L558.85 399.48L559.10 399.52L559.35 399.56L559.60 399.59L559.85 399.63L560.10 399.66L560.35 399.68L560.60 399.71L560.85 399.73L561.10 399.74L561.35 399.75L561.60 399.75L561.85 399.74L562.10 399.71L562.35 399.64L562.60 399.54L562.85 399.40L563.10 399.23L563.35 399.04L563.60 398.84L563.85 398.65L564.10 398.50L564.35 398.40L564.60 398.36L564.85 398.40L565.10 398.51L565.35 398.67L565.60 398.87L565.85 399.08L566.10 399.29L566.35 399.49L566.60 399.65L566.85 399.77L567.10 399.85L567.35 399.90L567.60 399.92L567.85 399.91L568.10 399.89L568.35 399.86L568.60 399.84L568.85 399.81L569.10 399.80L569.35 399.80L569.60 399.81L569.85 399.82L570.10 399.85L570.35 399.87L570.60 399.90L570.85 399.93L571.10 399.95L571.35 399.96L571.60 399.98L571.85 399.99L572.10 400.01L572.35 400.02L572.60 400.04L572.85 400.05L573.10 400.07L573.35 400.09L573.60 400.10L573.85 400.10L574.10 400.09L574.35 400.06L574.60 400.03L574.85 399.98L575.10 399.92L575.35 399.85L575.60 399.75L575.85 399.61L576.10 399.40L576.35 399.07L576.60 398.56L576.85 397.80L577.10 396.71L577.35 395.27L577.60 393.46L577.85 391.36L578.10 389.14L578.35 387.00L578.60 385.20L578.85 384.00L579.10 383.56L579.35 383.98L579.60 384.73L579.85 385.77L580.10 387.03L580.35 388.45L580.60 389.95L580.85 391.44L581.10 392.86L581.35 394.15L581.60 395.28L581.85 396.24L582.10 397.03L582.35 397.66L582.60 398.14L582.85 398.51L583.10 398.78L583.35 398.99L583.60 399.15L583.85 399.27L584.10 399.36L584.35 399.44L584.60 399.50L584.85 399.54L585.10 399.57L585.35 399.59L585.60 399.59L585.85 399.58L586.10 399.56L586.35 399.54L586.60 399.53L586.85 399.52L587.10 399.52L587.35 399.54L587.60 399.57L587.85 399.62L588.10 399.68L588.35 399.74L588.60 399.80L588.85 399.86L589.10 399.91L589.35 399.95L589.60 399.97L589.85 399.98L590.10 399.97L590.35 399.96L590.60 399.93L590.85 399.91L591.10 399.89L591.35 399.86L591.60 399.83L591.85 399.78L592.10 399.72L592.35 399.64L592.60 399.52L592.85 399.37L593.10 399.20L593.35 399.01L593.60 398.82L593.85 398.65L594.10 398.51L594.35 398.44L594.60 398.43L594.85 398.48L595.10 398.60L595.35 398.77L595.60 398.96L595.85 399.15L596.10 399.33L596.35 399.48L596.60 399.60L596.85 399.68L597.10 399.72L597.35 399.75L597.60 399.76L597.85 399.76L598.10 399.76L598.35 399.78L598.60 399.80L598.85 399.84L599.10 399.89L599.35 399.95L599.60 400.00L599.85 400.06L600.10 400.10L600.35 400.13L600.60 400.14L600.85 400.13L601.10 400.12L601.35 400.09L601.60 400.05L601.85 400.02L602.10 399.99L602.35 399.96L602.60 399.94L602.85 399.92L603.10 399.92L603.35 399.91L603.60 399.91L603.85 399.91L604.10 399.91L604.35 399.90L604.60 399.89L604.85 399.88L605.10 399.87L605.35 399.87L605.60 399.87L605.85 399.88L606.10 399.90L606.35 399.92L606.60 399.94L606.85 399.96L607.10 399.97L607.35 399.98L607.60 399.98L607.85 399.97L608.10 399.95L608.35 399.93L608.60 399.91L608.85 399.89L609.10 399.87L609.35 399.87L609.60 399.89L609.85 399.91L610.10 399.95L610.35 399.99L610.60 400.04L610.85 400.08L611.10 400.11L611.35 400.13L611.60 400.13L611.85 400.12L612.10 400.10L612.35 400.06L612.60 400.02L612.85 399.97L613.10 399.93L613.35 399.89L613.60 399.86L613.85 399.84L614.10 399.83L614.35 399.83L614.60 399.84L614.85 399.84L615.10 399.85L615.35 399.85L615.60 399.85L615.85 399.86L616.10 399.87L616.35 399.87L616.60 399.89L616.85 399.91L617.10 399.94L617.35 399.97L617.60 400.00L617.85 400.03L618.10 400.05L618.35 400.07L618.60 400.07L618.85 400.06L619.10 400.05L619.35 400.02L619.60 399.98L619.85 399.95L620.10 399.92L620.35 399.91L620.60 399.90L620.85 399.90L621.10 399.92L621.35 399.95L621.60 399.98L621.85 400.01L622.10 400.04L622.35 400.05L622.60 400.06L622.85 400.04L623.10 400.02L623.35 399.99L623.60 399.95L623.85 399.91L624.10 399.87L624.35 399.84L624.60 399.82L624.85 399.81L625.10 399.81L625.35 399.82L625.60 399.83L625.85 399.85L626.10 399.87L626.35 399.88L626.60 399.89L626.85 399.90L627.10 399.88L627.35 399.84L627.60 399.75L627.85 399.57L628.10 399.25L628.35 398.72L628.60 397.89L628.85 396.68L629.10 395.02L629.35 392.93L629.60 390.47L629.85 387.80L630.10 385.18L630.35 382.91L630.60 381.29L630.85 380.55L631.10 380.88L631.35 381.68L631.60 382.84L631.85 384.30L632.10 385.96L632.35 387.73L632.60 389.51L632.85 391.22L633.10 392.79L633.35 394.17L633.60 395.34L633.85 396.29L634.10 397.05L634.35 397.63L634.60 398.07L634.85 398.39L635.10 398.63L635.35 398.80L635.60 398.94L635.85 399.05L636.10 399.14L636.35 399.23L636.60 399.31L636.85 399.39L637.10 399.45L637.35 399.51L637.60 399.57L637.85 399.61L638.10 399.65L638.35 399.68L638.60 399.72L638.85 399.75L639.10 399.78L639.35 399.82L639.60 399.85L639.85 399.88L640.10 399.90L640.35 399.92L640.60 399.92L640.85 399.91L641.10 399.88L641.35 399.85L641.60 399.81L641.85 399.76L642.10 399.72L642.35 399.68L642.60 399.64L642.85 399.62L643.10 399.58L643.35 399.54L643.60 399.48L643.85 399.38L644.10 399.24L644.35 399.05L644.60 398.81L644.85 398.52L645.10 398.22L645.35 397.94L645.60 397.69L645.85 397.52L646.10 397.46L646.35 397.50L646.60 397.64L646.85 397.87L647.10 398.17L647.35 398.49L647.60 398.81L647.85 399.11L648.10 399.36L648.35 399.56L648.60 399.71L648.85 399.81L649.10 399.88L649.35 399.91L649.60 399.93L649.85 399.95L650.10 399.96L650.35 399.96L650.60 399.97L650.85 399.98L651.10 399.99L651.35 399.99L651.60 399.99L651.85 399.97L652.10 399.95L652.35 399.92L652.60 399.88L652.85 399.84L653.10 399.80L653.35 399.77L653.60 399.75L653.85 399.75L654.10 399.77L654.35 399.81L654.60 399.85L654.85 399.90L655.10 399.96L655.35 400.01L655.60 400.06L655.85 400.09L656.10 400.11L656.35 400.11L656.60 400.10L656.85 400.08L657.10 400.06L657.35 400.03L657.60 400.01L657.85 399.99L658.10 399.97L658.35 399.96L658.60 399.96L658.85 399.96L659.10 399.95L659.35 399.95L659.60 399.94L659.85 399.93" fill="none" stroke="#000" stroke-width="2.60" stroke-linejoin="round" stroke-linecap="butt"/>
<text x="3.70" y="485.70" font-size="20.60" text-anchor="start" font-weight="bold" >b</text>
<text x="171.20" y="497.00" font-size="21.10" text-anchor="middle" font-weight="normal" >Itaconate</text>
<text x="373.00" y="497.00" font-size="21.10" text-anchor="middle" font-weight="normal" >(<tspan font-style="italic">R</tspan>)-Methylsuccinate</text>
<text x="580.70" y="497.00" font-size="21.10" text-anchor="middle" font-weight="normal" >(<tspan font-style="italic">S</tspan>)-Methylsuccinate</text>
<text x="1.50" y="604.00" font-size="21.00" text-anchor="start" font-weight="normal" >0 min</text>
<g stroke="#3c3c3c" stroke-width="0.95" fill="none">
<path d="M107.30 517.90 V631.10"/>
<path d="M102.65 626.10 H243.45"/>
<path d="M102.65 569.20 H107.65"/>
<path d="M161.35 626.10 V631.10"/>
<path d="M215.05 626.10 V631.10"/>
</g>
<text x="92.50" y="631.10" font-size="17.00" text-anchor="end" font-weight="normal" >0</text>
<text x="92.50" y="574.60" font-size="17.00" text-anchor="end" font-weight="normal" >100</text>
<text x="64.10" y="524.60" font-size="17.00" text-anchor="start" font-weight="normal" >mAU</text>
<g stroke="#303030" stroke-width="1.05" fill="none">
<path d="M120.90 548.30 L134.40 532.10"/>
<path d="M134.40 532.10 V603.30"/>
<path d="M127.70 596.00 V608.40"/>
</g>
<text x="110.40" y="528.30" font-size="12.70" text-anchor="start" font-weight="normal" >Suc-CoA</text>
<text font-size="12.70" transform="translate(132.90 594.20) rotate(-90)">CoA</text>
<path d="M107.65 624.60L107.90 624.60L108.15 624.60L108.40 624.60L108.65 624.60L108.90 624.60L109.15 624.60L109.40 624.60L109.65 624.60L109.90 624.59L110.15 624.57L110.40 624.52L110.65 624.39L110.90 624.10L111.15 623.47L111.40 622.24L111.65 619.97L111.90 616.15L112.15 610.20L112.40 601.69L112.65 590.61L112.90 577.53L113.15 563.78L113.40 551.28L113.65 542.12L113.90 538.02L114.15 539.59L114.40 542.07L114.65 544.97L114.90 548.24L115.15 551.85L115.40 555.75L115.65 559.86L115.90 564.12L116.15 568.47L116.40 572.83L116.65 577.15L116.90 581.35L117.15 585.39L117.40 589.23L117.65 592.83L117.90 596.16L118.15 599.23L118.40 602.01L118.65 604.52L118.90 606.75L119.15 608.73L119.40 610.47L119.65 611.99L119.90 613.31L120.15 614.46L120.40 615.45L120.65 616.31L120.90 617.05L121.15 617.69L121.40 618.24L121.65 618.73L121.90 619.15L122.15 619.52L122.40 619.85L122.65 620.14L122.90 620.41L123.15 620.67L123.40 620.90L123.65 621.12L123.90 621.32L124.15 621.50L124.40 621.65L124.65 621.76L124.90 621.83L125.15 621.83L125.40 621.74L125.65 621.55L125.90 621.23L126.15 620.77L126.40 620.16L126.65 619.38L126.90 618.47L127.15 617.47L127.40 616.41L127.65 615.40L127.90 614.50L128.15 613.80L128.40 613.38L128.65 613.28L128.90 613.52L129.15 614.08L129.40 614.91L129.65 615.94L129.90 617.08L130.15 618.23L130.40 619.30L130.65 620.22L130.90 620.91L131.15 621.35L131.40 621.48L131.65 621.27L131.90 620.73L132.15 619.85L132.40 618.67L132.65 617.23L132.90 615.63L133.15 613.99L133.40 612.45L133.65 611.15L133.90 610.22L134.15 609.78L134.40 610.01L134.65 610.67L134.90 611.58L135.15 612.70L135.40 613.95L135.65 615.25L135.90 616.55L136.15 617.77L136.40 618.88L136.65 619.84L136.90 620.66L137.15 621.32L137.40 621.86L137.65 622.28L137.90 622.61L138.15 622.87L138.40 623.08L138.65 623.25L138.90 623.39L139.15 623.51L139.40 623.61L139.65 623.69L139.90 623.76L140.15 623.81L140.40 623.86L140.65 623.91L140.90 623.95L141.15 623.98L141.40 624.02L141.65 624.06L141.90 624.10L142.15 624.13L142.40 624.16L142.65 624.18L142.90 624.19L143.15 624.18L143.40 624.17L143.65 624.15L143.90 624.13L144.15 624.11L144.40 624.09L144.65 624.09L144.90 624.10L145.15 624.12L145.40 624.16L145.65 624.21L145.90 624.26L146.15 624.32L146.40 624.36L146.65 624.38L146.90 624.38L147.15 624.34L147.40 624.26L147.65 624.14L147.90 623.99L148.15 623.80L148.40 623.59L148.65 623.39L148.90 623.20L149.15 623.05L149.40 622.96L149.65 622.93L149.90 622.96L150.15 623.06L150.40 623.20L150.65 623.38L150.90 623.56L151.15 623.74L151.40 623.89L151.65 624.03L151.90 624.14L152.15 624.22L152.40 624.29L152.65 624.34L152.90 624.38L153.15 624.41L153.40 624.43L153.65 624.44L153.90 624.44L154.15 624.44L154.40 624.42L154.65 624.40L154.90 624.37L155.15 624.35L155.40 624.32L155.65 624.31L155.90 624.31L156.15 624.33L156.40 624.36L156.65 624.40L156.90 624.45L157.15 624.50L157.40 624.55L157.65 624.59L157.90 624.62L158.15 624.63L158.40 624.62L158.65 624.58L158.90 624.52L159.15 624.43L159.40 624.30L159.65 624.15L159.90 623.95L160.15 623.71L160.40 623.43L160.65 623.13L160.90 622.81L161.15 622.50L161.40 622.22L161.65 622.01L161.90 621.89L162.15 621.87L162.40 621.96L162.65 622.15L162.90 622.41L163.15 622.72L163.40 623.05L163.65 623.37L163.90 623.66L164.15 623.91L164.40 624.11L164.65 624.26L164.90 624.36L165.15 624.43L165.40 624.46L165.65 624.47L165.90 624.46L166.15 624.44L166.40 624.42L166.65 624.40L166.90 624.39L167.15 624.40L167.40 624.41L167.65 624.44L167.90 624.47L168.15 624.51L168.40 624.55L168.65 624.58L168.90 624.60L169.15 624.61L169.40 624.60L169.65 624.58L169.90 624.55L170.15 624.50L170.40 624.46L170.65 624.42L170.90 624.38L171.15 624.35L171.40 624.33L171.65 624.32L171.90 624.32L172.15 624.33L172.40 624.33L172.65 624.34L172.90 624.35L173.15 624.36L173.40 624.37L173.65 624.37L173.90 624.39L174.15 624.40L174.40 624.42L174.65 624.45L174.90 624.48L175.15 624.52L175.40 624.55L175.65 624.58L175.90 624.60L176.15 624.60L176.40 624.59L176.65 624.57L176.90 624.54L177.15 624.51L177.40 624.47L177.65 624.43L177.90 624.40L178.15 624.38L178.40 624.38L178.65 624.39L178.90 624.41L179.15 624.44L179.40 624.47L179.65 624.49L179.90 624.51L180.15 624.52L180.40 624.52L180.65 624.50L180.90 624.48L181.15 624.45L181.40 624.41L181.65 624.38L181.90 624.35L182.15 624.33L182.40 624.32L182.65 624.32L182.90 624.33L183.15 624.35L183.40 624.37L183.65 624.39L183.90 624.41L184.15 624.42L184.40 624.44L184.65 624.45L184.90 624.46L185.15 624.48L185.40 624.50L185.65 624.52L185.90 624.54L186.15 624.57L186.40 624.59L186.65 624.61L186.90 624.62L187.15 624.62L187.40 624.60L187.65 624.57L187.90 624.53L188.15 624.48L188.40 624.43L188.65 624.38L188.90 624.34L189.15 624.31L189.40 624.29L189.65 624.30L189.90 624.31L190.15 624.34L190.40 624.37L190.65 624.41L190.90 624.44L191.15 624.47L191.40 624.48L191.65 624.49L191.90 624.48L192.15 624.46L192.40 624.44L192.65 624.42L192.90 624.41L193.15 624.40L193.40 624.40L193.65 624.40L193.90 624.41L194.15 624.43L194.40 624.45L194.65 624.47L194.90 624.48L195.15 624.49L195.40 624.50L195.65 624.50L195.90 624.50L196.15 624.50L196.40 624.51L196.65 624.51L196.90 624.52L197.15 624.54L197.40 624.55L197.65 624.56L197.90 624.56L198.15 624.55L198.40 624.53L198.65 624.50L198.90 624.46L199.15 624.41L199.40 624.36L199.65 624.32L199.90 624.28L200.15 624.25L200.40 624.24L200.65 624.25L200.90 624.27L201.15 624.31L201.40 624.36L201.65 624.41L201.90 624.46L202.15 624.50L202.40 624.53L202.65 624.55L202.90 624.55L203.15 624.55L203.40 624.54L203.65 624.52L203.90 624.50L204.15 624.49L204.40 624.48L204.65 624.47L204.90 624.48L205.15 624.48L205.40 624.49L205.65 624.49L205.90 624.49L206.15 624.49L206.40 624.48L206.65 624.47L206.90 624.46L207.15 624.45L207.40 624.44L207.65 624.44L207.90 624.44L208.15 624.45L208.40 624.46L208.65 624.47L208.90 624.48L209.15 624.48L209.40 624.47L209.65 624.46L209.90 624.43L210.15 624.40L210.40 624.36L210.65 624.32L210.90 624.29L211.15 624.27L211.40 624.25L211.65 624.24L211.90 624.24L212.15 624.23L212.40 624.19L212.65 624.13L212.90 624.02L213.15 623.85L213.40 623.63L213.65 623.36L213.90 623.05L214.15 622.73L214.40 622.44L214.65 622.21L214.90 622.06L215.15 622.02L215.40 622.09L215.65 622.26L215.90 622.51L216.15 622.80L216.40 623.11L216.65 623.40L216.90 623.66L217.15 623.87L217.40 624.03L217.65 624.15L217.90 624.22L218.15 624.27L218.40 624.31L218.65 624.33L218.90 624.35L219.15 624.38L219.40 624.40L219.65 624.43L219.90 624.46L220.15 624.48L220.40 624.49L220.65 624.49L220.90 624.48L221.15 624.46L221.40 624.44L221.65 624.41L221.90 624.39L222.15 624.37L222.40 624.36L222.65 624.37L222.90 624.39L223.15 624.42L223.40 624.46L223.65 624.51L223.90 624.55L224.15 624.58L224.40 624.59L224.65 624.58L224.90 624.55L225.15 624.49L225.40 624.41L225.65 624.29L225.90 624.16L226.15 624.00L226.40 623.85L226.65 623.69L226.90 623.56L227.15 623.45L227.40 623.38L227.65 623.35L227.90 623.37L228.15 623.43L228.40 623.52L228.65 623.63L228.90 623.76L229.15 623.88L229.40 624.00L229.65 624.11L229.90 624.21L230.15 624.29L230.40 624.37L230.65 624.44L230.90 624.49L231.15 624.53L231.40 624.56L231.65 624.58L231.90 624.57L232.15 624.56L232.40 624.53L232.65 624.50L232.90 624.47L233.15 624.43L233.40 624.41L233.65 624.40L233.90 624.40L234.15 624.41L234.40 624.44L234.65 624.47L234.90 624.50L235.15 624.53L235.40 624.55L235.65 624.55L235.90 624.55L236.15 624.53L236.40 624.50L236.65 624.47L236.90 624.43L237.15 624.40L237.40 624.37L237.65 624.34L237.90 624.33L238.15 624.33L238.40 624.33L238.65 624.34L238.90 624.35L239.15 624.36L239.40 624.37L239.65 624.38L239.90 624.39L240.15 624.40L240.40 624.41L240.65 624.43L240.90 624.45L241.15 624.48L241.40 624.52L241.65 624.55L241.90 624.58L242.15 624.61L242.40 624.63L242.65 624.63L242.90 624.62L243.15 624.60L243.40 624.56" fill="none" stroke="#000" stroke-width="2.60" stroke-linejoin="round" stroke-linecap="butt"/>
<g stroke="#3c3c3c" stroke-width="0.95" fill="none">
<path d="M315.30 517.90 V631.10"/>
<path d="M310.65 626.10 H451.45"/>
<path d="M310.65 569.20 H315.65"/>
<path d="M369.35 626.10 V631.10"/>
<path d="M423.05 626.10 V631.10"/>
</g>
<text x="300.50" y="631.10" font-size="17.00" text-anchor="end" font-weight="normal" >0</text>
<text x="300.50" y="574.60" font-size="17.00" text-anchor="end" font-weight="normal" >100</text>
<text x="272.10" y="524.60" font-size="17.00" text-anchor="start" font-weight="normal" >mAU</text>
<g stroke="#303030" stroke-width="1.05" fill="none">
<path d="M329.75 548.50 L343.00 532.90"/>
<path d="M343.20 532.90 V603.90"/>
<path d="M337.40 596.20 V609.00"/>
</g>
<text x="319.15" y="528.85" font-size="12.70" text-anchor="start" font-weight="normal" >Suc-CoA</text>
<text font-size="12.70" transform="translate(341.70 594.60) rotate(-90)">CoA</text>
<path d="M315.65 624.60L315.90 624.60L316.15 624.60L316.40 624.60L316.65 624.60L316.90 624.60L317.15 624.60L317.40 624.60L317.65 624.60L317.90 624.60L318.15 624.59L318.40 624.57L318.65 624.52L318.90 624.38L319.15 624.08L319.40 623.43L319.65 622.16L319.90 619.81L320.15 615.86L320.40 609.70L320.65 600.90L320.90 589.43L321.15 575.90L321.40 561.68L321.65 548.74L321.90 539.26L322.15 535.02L322.40 536.64L322.65 539.22L322.90 542.21L323.15 545.60L323.40 549.34L323.65 553.36L323.90 557.62L324.15 562.03L324.40 566.53L324.65 571.04L324.90 575.50L325.15 579.85L325.40 584.03L325.65 588.00L325.90 591.73L326.15 595.18L326.40 598.35L326.65 601.23L326.90 603.82L327.15 606.13L327.40 608.18L327.65 609.98L327.90 611.55L328.15 612.92L328.40 614.10L328.65 615.12L328.90 616.00L329.15 616.76L329.40 617.41L329.65 617.99L329.90 618.50L330.15 618.95L330.40 619.35L330.65 619.71L330.90 620.03L331.15 620.32L331.40 620.58L331.65 620.81L331.90 621.02L332.15 621.19L332.40 621.34L332.65 621.44L332.90 621.50L333.15 621.50L333.40 621.41L333.65 621.21L333.90 620.88L334.15 620.39L334.40 619.73L334.65 618.89L334.90 617.88L335.15 616.76L335.40 615.59L335.65 614.45L335.90 613.43L336.15 612.65L336.40 612.18L336.65 612.07L336.90 612.35L337.15 612.99L337.40 613.93L337.65 615.08L337.90 616.33L338.15 617.58L338.40 618.72L338.65 619.66L338.90 620.34L339.15 620.69L339.40 620.70L339.65 620.34L339.90 619.63L340.15 618.58L340.40 617.27L340.65 615.77L340.90 614.19L341.15 612.68L341.40 611.38L341.65 610.41L341.90 609.90L342.15 609.99L342.40 610.59L342.65 611.43L342.90 612.47L343.15 613.66L343.40 614.93L343.65 616.21L343.90 617.43L344.15 618.57L344.40 619.58L344.65 620.44L344.90 621.17L345.15 621.75L345.40 622.22L345.65 622.58L345.90 622.86L346.15 623.07L346.40 623.23L346.65 623.35L346.90 623.45L347.15 623.54L347.40 623.62L347.65 623.70L347.90 623.78L348.15 623.85L348.40 623.93L348.65 623.99L348.90 624.05L349.15 624.09L349.40 624.12L349.65 624.13L349.90 624.12L350.15 624.11L350.40 624.08L350.65 624.06L350.90 624.03L351.15 624.02L351.40 624.02L351.65 624.03L351.90 624.06L352.15 624.10L352.40 624.15L352.65 624.20L352.90 624.25L353.15 624.30L353.40 624.34L353.65 624.37L353.90 624.39L354.15 624.39L354.40 624.38L354.65 624.36L354.90 624.32L355.15 624.26L355.40 624.18L355.65 624.07L355.90 623.94L356.15 623.78L356.40 623.60L356.65 623.41L356.90 623.23L357.15 623.07L357.40 622.97L357.65 622.92L357.90 622.93L358.15 623.01L358.40 623.14L358.65 623.32L358.90 623.52L359.15 623.72L359.40 623.91L359.65 624.08L359.90 624.21L360.15 624.31L360.40 624.38L360.65 624.41L360.90 624.42L361.15 624.40L361.40 624.37L361.65 624.34L361.90 624.31L362.15 624.28L362.40 624.27L362.65 624.28L362.90 624.29L363.15 624.33L363.40 624.37L363.65 624.42L363.90 624.47L364.15 624.51L364.40 624.55L364.65 624.57L364.90 624.59L365.15 624.59L365.40 624.58L365.65 624.57L365.90 624.55L366.15 624.53L366.40 624.51L366.65 624.48L366.90 624.43L367.15 624.36L367.40 624.27L367.65 624.13L367.90 623.95L368.15 623.71L368.40 623.43L368.65 623.11L368.90 622.77L369.15 622.44L369.40 622.16L369.65 621.95L369.90 621.85L370.15 621.86L370.40 621.99L370.65 622.21L370.90 622.51L371.15 622.84L371.40 623.18L371.65 623.48L371.90 623.74L372.15 623.95L372.40 624.10L372.65 624.20L372.90 624.26L373.15 624.29L373.40 624.32L373.65 624.34L373.90 624.36L374.15 624.39L374.40 624.43L374.65 624.47L374.90 624.51L375.15 624.55L375.40 624.58L375.65 624.59L375.90 624.60L376.15 624.59L376.40 624.57L376.65 624.55L376.90 624.53L377.15 624.50L377.40 624.48L377.65 624.46L377.90 624.44L378.15 624.42L378.40 624.41L378.65 624.40L378.90 624.38L379.15 624.36L379.40 624.34L379.65 624.32L379.90 624.31L380.15 624.30L380.40 624.30L380.65 624.31L380.90 624.33L381.15 624.36L381.40 624.40L381.65 624.45L381.90 624.50L382.15 624.54L382.40 624.57L382.65 624.59L382.90 624.60L383.15 624.59L383.40 624.56L383.65 624.53L383.90 624.49L384.15 624.46L384.40 624.43L384.65 624.41L384.90 624.41L385.15 624.41L385.40 624.43L385.65 624.45L385.90 624.48L386.15 624.50L386.40 624.52L386.65 624.53L386.90 624.53L387.15 624.52L387.40 624.50L387.65 624.47L387.90 624.45L388.15 624.42L388.40 624.40L388.65 624.39L388.90 624.38L389.15 624.38L389.40 624.37L389.65 624.37L389.90 624.37L390.15 624.37L390.40 624.36L390.65 624.36L390.90 624.35L391.15 624.35L391.40 624.36L391.65 624.37L391.90 624.39L392.15 624.43L392.40 624.47L392.65 624.52L392.90 624.56L393.15 624.60L393.40 624.64L393.65 624.65L393.90 624.65L394.15 624.63L394.40 624.60L394.65 624.56L394.90 624.51L395.15 624.46L395.40 624.41L395.65 624.38L395.90 624.35L396.15 624.34L396.40 624.35L396.65 624.36L396.90 624.38L397.15 624.40L397.40 624.42L397.65 624.44L397.90 624.45L398.15 624.45L398.40 624.44L398.65 624.43L398.90 624.42L399.15 624.41L399.40 624.40L399.65 624.40L399.90 624.40L400.15 624.41L400.40 624.42L400.65 624.43L400.90 624.44L401.15 624.45L401.40 624.45L401.65 624.44L401.90 624.44L402.15 624.43L402.40 624.43L402.65 624.44L402.90 624.45L403.15 624.47L403.40 624.50L403.65 624.53L403.90 624.57L404.15 624.60L404.40 624.62L404.65 624.63L404.90 624.62L405.15 624.60L405.40 624.56L405.65 624.51L405.90 624.45L406.15 624.40L406.40 624.35L406.65 624.30L406.90 624.28L407.15 624.27L407.40 624.27L407.65 624.29L407.90 624.31L408.15 624.35L408.40 624.38L408.65 624.41L408.90 624.44L409.15 624.46L409.40 624.47L409.65 624.47L409.90 624.47L410.15 624.47L410.40 624.48L410.65 624.48L410.90 624.49L411.15 624.50L411.40 624.51L411.65 624.52L411.90 624.52L412.15 624.52L412.40 624.51L412.65 624.50L412.90 624.48L413.15 624.46L413.40 624.45L413.65 624.43L413.90 624.43L414.15 624.43L414.40 624.44L414.65 624.46L414.90 624.49L415.15 624.51L415.40 624.53L415.65 624.54L415.90 624.54L416.15 624.52L416.40 624.49L416.65 624.45L416.90 624.40L417.15 624.36L417.40 624.31L417.65 624.28L417.90 624.26L418.15 624.26L418.40 624.27L418.65 624.29L418.90 624.33L419.15 624.37L419.40 624.40L419.65 624.42L419.90 624.42L420.15 624.39L420.40 624.33L420.65 624.22L420.90 624.06L421.15 623.84L421.40 623.58L421.65 623.28L421.90 622.97L422.15 622.66L422.40 622.38L422.65 622.17L422.90 622.05L423.15 622.02L423.40 622.10L423.65 622.26L423.90 622.50L424.15 622.77L424.40 623.05L424.65 623.33L424.90 623.58L425.15 623.80L425.40 623.98L425.65 624.13L425.90 624.25L426.15 624.34L426.40 624.41L426.65 624.45L426.90 624.48L427.15 624.49L427.40 624.48L427.65 624.46L427.90 624.43L428.15 624.40L428.40 624.37L428.65 624.35L428.90 624.33L429.15 624.33L429.40 624.34L429.65 624.37L429.90 624.41L430.15 624.45L430.40 624.49L430.65 624.53L430.90 624.56L431.15 624.58L431.40 624.59L431.65 624.59L431.90 624.58L432.15 624.56L432.40 624.53L432.65 624.49L432.90 624.45L433.15 624.39L433.40 624.32L433.65 624.23L433.90 624.12L434.15 623.99L434.40 623.84L434.65 623.69L434.90 623.54L435.15 623.42L435.40 623.33L435.65 623.29L435.90 623.30L436.15 623.37L436.40 623.48L436.65 623.63L436.90 623.79L437.15 623.96L437.40 624.12L437.65 624.25L437.90 624.36L438.15 624.44L438.40 624.49L438.65 624.51L438.90 624.51L439.15 624.49L439.40 624.46L439.65 624.44L439.90 624.42L440.15 624.41L440.40 624.41L440.65 624.42L440.90 624.44L441.15 624.47L441.40 624.50L441.65 624.52L441.90 624.54L442.15 624.55L442.40 624.55L442.65 624.54L442.90 624.53L443.15 624.51L443.40 624.48L443.65 624.46L443.90 624.44L444.15 624.43L444.40 624.41L444.65 624.40L444.90 624.40L445.15 624.39L445.40 624.38L445.65 624.36L445.90 624.35L446.15 624.33L446.40 624.32L446.65 624.31L446.90 624.31L447.15 624.32L447.40 624.34L447.65 624.38L447.90 624.43L448.15 624.48L448.40 624.53L448.65 624.58L448.90 624.61L449.15 624.63L449.40 624.64L449.65 624.63L449.90 624.61L450.15 624.57L450.40 624.53L450.65 624.48L450.90 624.44L451.15 624.41L451.40 624.39" fill="none" stroke="#000" stroke-width="2.60" stroke-linejoin="round" stroke-linecap="butt"/>
<g stroke="#3c3c3c" stroke-width="0.95" fill="none">
<path d="M523.25 517.40 V630.60"/>
<path d="M518.60 625.60 H659.40"/>
<path d="M518.60 568.70 H523.60"/>
<path d="M577.30 625.60 V630.60"/>
<path d="M631.00 625.60 V630.60"/>
</g>
<text x="509.10" y="630.60" font-size="17.00" text-anchor="end" font-weight="normal" >0</text>
<text x="509.10" y="574.10" font-size="17.00" text-anchor="end" font-weight="normal" >100</text>
<text x="480.70" y="524.60" font-size="17.00" text-anchor="start" font-weight="normal" >mAU</text>
<g stroke="#303030" stroke-width="1.05" fill="none">
<path d="M538.20 548.50 L551.40 532.90"/>
<path d="M551.45 532.90 V604.20"/>
<path d="M545.90 596.20 V609.00"/>
</g>
<text x="527.45" y="528.85" font-size="12.70" text-anchor="start" font-weight="normal" >Suc-CoA</text>
<text font-size="12.70" transform="translate(548.45 594.60) rotate(-90)">CoA</text>
<path d="M523.60 624.10L523.85 624.10L524.10 624.10L524.35 624.10L524.60 624.10L524.85 624.10L525.10 624.10L525.35 624.10L525.60 624.10L525.85 624.10L526.10 624.10L526.35 624.10L526.60 624.10L526.85 624.09L527.10 624.08L527.35 624.05L527.60 623.98L527.85 623.80L528.10 623.41L528.35 622.60L528.60 621.09L528.85 618.44L529.10 614.18L529.35 607.88L529.60 599.35L529.85 588.87L530.10 577.30L530.35 566.10L530.60 557.02L530.85 551.71L531.10 551.44L531.35 553.28L531.60 555.50L531.85 558.05L532.10 560.92L532.35 564.05L532.60 567.40L532.85 570.91L533.10 574.52L533.35 578.17L533.60 581.81L533.85 585.38L534.10 588.84L534.35 592.14L534.60 595.25L534.85 598.15L535.10 600.83L535.35 603.28L535.60 605.49L535.85 607.47L536.10 609.22L536.35 610.77L536.60 612.13L536.85 613.32L537.10 614.36L537.35 615.26L537.60 616.05L537.85 616.73L538.10 617.32L538.35 617.84L538.60 618.29L538.85 618.69L539.10 619.04L539.35 619.36L539.60 619.65L539.85 619.91L540.10 620.15L540.35 620.37L540.60 620.56L540.85 620.72L541.10 620.83L541.35 620.90L541.60 620.90L541.85 620.82L542.10 620.63L542.35 620.30L542.60 619.82L542.85 619.16L543.10 618.33L543.35 617.33L543.60 616.19L543.85 614.98L544.10 613.78L544.35 612.67L544.60 611.77L544.85 611.15L545.10 610.88L545.35 611.00L545.60 611.51L545.85 612.35L546.10 613.45L546.35 614.72L546.60 616.03L546.85 617.29L547.10 618.41L547.35 619.31L547.60 619.93L547.85 620.24L548.10 620.21L548.35 619.83L548.60 619.14L548.85 618.16L549.10 616.96L549.35 615.64L549.60 614.30L549.85 613.08L550.10 612.10L550.35 611.47L550.60 611.27L550.85 611.68L551.10 612.33L551.35 613.17L551.60 614.17L551.85 615.25L552.10 616.36L552.35 617.43L552.60 618.43L552.85 619.32L553.10 620.09L553.35 620.72L553.60 621.24L553.85 621.66L554.10 621.99L554.35 622.26L554.60 622.49L554.85 622.68L555.10 622.85L555.35 623.00L555.60 623.14L555.85 623.26L556.10 623.36L556.35 623.44L556.60 623.49L556.85 623.54L557.10 623.56L557.35 623.58L557.60 623.58L557.85 623.58L558.10 623.59L558.35 623.59L558.60 623.60L558.85 623.62L559.10 623.64L559.35 623.65L559.60 623.67L559.85 623.68L560.10 623.69L560.35 623.70L560.60 623.70L560.85 623.70L561.10 623.70L561.35 623.71L561.60 623.72L561.85 623.72L562.10 623.73L562.35 623.72L562.60 623.71L562.85 623.67L563.10 623.60L563.35 623.51L563.60 623.39L563.85 623.26L564.10 623.12L564.35 622.99L564.60 622.89L564.85 622.83L565.10 622.82L565.35 622.86L565.60 622.96L565.85 623.10L566.10 623.26L566.35 623.43L566.60 623.60L566.85 623.75L567.10 623.87L567.35 623.96L567.60 624.01L567.85 624.04L568.10 624.03L568.35 624.01L568.60 623.98L568.85 623.95L569.10 623.91L569.35 623.88L569.60 623.86L569.85 623.85L570.10 623.84L570.35 623.84L570.60 623.84L570.85 623.84L571.10 623.84L571.35 623.84L571.60 623.84L571.85 623.84L572.10 623.85L572.35 623.86L572.60 623.88L572.85 623.90L573.10 623.93L573.35 623.96L573.60 623.99L573.85 624.01L574.10 624.02L574.35 624.00L574.60 623.96L574.85 623.87L575.10 623.75L575.35 623.57L575.60 623.35L575.85 623.08L576.10 622.77L576.35 622.45L576.60 622.13L576.85 621.85L577.10 621.64L577.35 621.51L577.60 621.49L577.85 621.58L578.10 621.75L578.35 622.00L578.60 622.29L578.85 622.59L579.10 622.87L579.35 623.12L579.60 623.32L579.85 623.47L580.10 623.58L580.35 623.66L580.60 623.71L580.85 623.75L581.10 623.78L581.35 623.81L581.60 623.83L581.85 623.85L582.10 623.87L582.35 623.88L582.60 623.89L582.85 623.90L583.10 623.92L583.35 623.93L583.60 623.95L583.85 623.98L584.10 624.01L584.35 624.04L584.60 624.07L584.85 624.10L585.10 624.12L585.35 624.12L585.60 624.12L585.85 624.10L586.10 624.07L586.35 624.02L586.60 623.98L586.85 623.93L587.10 623.89L587.35 623.86L587.60 623.84L587.85 623.83L588.10 623.84L588.35 623.86L588.60 623.89L588.85 623.92L589.10 623.95L589.35 623.97L589.60 623.99L589.85 623.99L590.10 623.97L590.35 623.95L590.60 623.93L590.85 623.91L591.10 623.88L591.35 623.87L591.60 623.86L591.85 623.86L592.10 623.87L592.35 623.89L592.60 623.91L592.85 623.93L593.10 623.95L593.35 623.96L593.60 623.97L593.85 623.98L594.10 623.99L594.35 624.00L594.60 624.01L594.85 624.02L595.10 624.03L595.35 624.05L595.60 624.07L595.85 624.09L596.10 624.10L596.35 624.09L596.60 624.08L596.85 624.05L597.10 624.02L597.35 623.97L597.60 623.92L597.85 623.86L598.10 623.82L598.35 623.78L598.60 623.76L598.85 623.76L599.10 623.77L599.35 623.79L599.60 623.83L599.85 623.88L600.10 623.92L600.35 623.96L600.60 623.99L600.85 624.01L601.10 624.01L601.35 624.01L601.60 624.00L601.85 623.98L602.10 623.97L602.35 623.96L602.60 623.95L602.85 623.95L603.10 623.96L603.35 623.97L603.60 623.98L603.85 623.99L604.10 624.00L604.35 624.00L604.60 624.00L604.85 624.00L605.10 623.99L605.35 623.98L605.60 623.97L605.85 623.97L606.10 623.98L606.35 623.98L606.60 623.99L606.85 624.00L607.10 624.01L607.35 624.01L607.60 624.00L607.85 623.98L608.10 623.95L608.35 623.92L608.60 623.87L608.85 623.83L609.10 623.79L609.35 623.76L609.60 623.75L609.85 623.75L610.10 623.77L610.35 623.81L610.60 623.86L610.85 623.91L611.10 623.96L611.35 624.01L611.60 624.05L611.85 624.08L612.10 624.10L612.35 624.10L612.60 624.09L612.85 624.07L613.10 624.05L613.35 624.03L613.60 624.01L613.85 623.99L614.10 623.98L614.35 623.98L614.60 623.97L614.85 623.97L615.10 623.96L615.35 623.96L615.60 623.94L615.85 623.93L616.10 623.91L616.35 623.90L616.60 623.89L616.85 623.88L617.10 623.89L617.35 623.90L617.60 623.91L617.85 623.93L618.10 623.95L618.35 623.96L618.60 623.97L618.85 623.97L619.10 623.96L619.35 623.94L619.60 623.91L619.85 623.88L620.10 623.85L620.35 623.83L620.60 623.82L620.85 623.83L621.10 623.85L621.35 623.88L621.60 623.92L621.85 623.97L622.10 624.02L622.35 624.07L622.60 624.11L622.85 624.13L623.10 624.14L623.35 624.13L623.60 624.11L623.85 624.08L624.10 624.05L624.35 624.01L624.60 623.98L624.85 623.95L625.10 623.93L625.35 623.91L625.60 623.90L625.85 623.89L626.10 623.88L626.35 623.87L626.60 623.86L626.85 623.84L627.10 623.82L627.35 623.79L627.60 623.75L627.85 623.69L628.10 623.62L628.35 623.53L628.60 623.40L628.85 623.24L629.10 623.05L629.35 622.84L629.60 622.61L629.85 622.39L630.10 622.21L630.35 622.07L630.60 622.01L630.85 622.02L631.10 622.12L631.35 622.28L631.60 622.49L631.85 622.73L632.10 622.98L632.35 623.23L632.60 623.45L632.85 623.63L633.10 623.79L633.35 623.90L633.60 623.99L633.85 624.04L634.10 624.06L634.35 624.06L634.60 624.05L634.85 624.02L635.10 623.98L635.35 623.94L635.60 623.90L635.85 623.87L636.10 623.85L636.35 623.84L636.60 623.83L636.85 623.83L637.10 623.84L637.35 623.84L637.60 623.84L637.85 623.85L638.10 623.85L638.35 623.85L638.60 623.86L638.85 623.86L639.10 623.88L639.35 623.89L639.60 623.90L639.85 623.90L640.10 623.90L640.35 623.88L640.60 623.85L640.85 623.80L641.10 623.74L641.35 623.67L641.60 623.60L641.85 623.54L642.10 623.50L642.35 623.48L642.60 623.48L642.85 623.50L643.10 623.54L643.35 623.61L643.60 623.68L643.85 623.75L644.10 623.82L644.35 623.88L644.60 623.93L644.85 623.97L645.10 623.99L645.35 623.99L645.60 623.98L645.85 623.95L646.10 623.93L646.35 623.90L646.60 623.88L646.85 623.86L647.10 623.85L647.35 623.85L647.60 623.85L647.85 623.86L648.10 623.88L648.35 623.89L648.60 623.91L648.85 623.92L649.10 623.93L649.35 623.94L649.60 623.95L649.85 623.96L650.10 623.97L650.35 624.00L650.60 624.02L650.85 624.05L651.10 624.08L651.35 624.11L651.60 624.12L651.85 624.13L652.10 624.12L652.35 624.10L652.60 624.06L652.85 624.01L653.10 623.96L653.35 623.91L653.60 623.86L653.85 623.82L654.10 623.79L654.35 623.78L654.60 623.79L654.85 623.81L655.10 623.84L655.35 623.88L655.60 623.91L655.85 623.94L656.10 623.96L656.35 623.98L656.60 623.98L656.85 623.97L657.10 623.96L657.35 623.95L657.60 623.93L657.85 623.92L658.10 623.92L658.35 623.92L658.60 623.93L658.85 623.95L659.10 623.96L659.35 623.97" fill="none" stroke="#000" stroke-width="2.60" stroke-linejoin="round" stroke-linecap="butt"/>
<text x="1.50" y="727.30" font-size="21.00" text-anchor="start" font-weight="normal" >1 min</text>
<g stroke="#3c3c3c" stroke-width="0.95" fill="none">
<path d="M106.65 641.30 V754.50"/>
<path d="M102.00 749.50 H242.80"/>
<path d="M102.00 692.60 H107.00"/>
<path d="M160.70 749.50 V754.50"/>
<path d="M214.40 749.50 V754.50"/>
</g>
<text x="92.50" y="754.50" font-size="17.00" text-anchor="end" font-weight="normal" >0</text>
<text x="92.50" y="698.00" font-size="17.00" text-anchor="end" font-weight="normal" >100</text>
<g stroke="#303030" stroke-width="1.05" fill="none">
<path d="M116.40 675.00 L134.20 663.00"/>
<path d="M134.40 663.00 V733.00"/>
<path d="M129.40 722.40 V730.00"/>
<path d="M158.60 699.60 L158.60 725.00"/>
<path d="M213.60 717.00 L213.60 724.60"/>
</g>
<text x="110.80" y="658.20" font-size="12.70" text-anchor="start" font-weight="normal" >Suc-CoA</text>
<text font-size="12.70" transform="translate(131.80 720.90) rotate(-90)">CoA</text>
<text x="142.60" y="696.05" font-size="12.70" text-anchor="start" font-weight="normal" >Ita-CoA</text>
<text x="177.20" y="713.05" font-size="12.70" text-anchor="start" font-weight="normal" >Acetyl-CoA</text>
<path d="M107.00 748.00L107.25 748.00L107.50 748.00L107.75 748.00L108.00 748.00L108.25 748.00L108.50 748.00L108.75 748.00L109.00 748.00L109.25 748.00L109.50 748.00L109.75 748.00L110.00 748.00L110.25 747.99L110.50 747.98L110.75 747.93L111.00 747.83L111.25 747.59L111.50 747.08L111.75 746.06L112.00 744.20L112.25 741.06L112.50 736.17L112.75 729.19L113.00 720.08L113.25 709.34L113.50 698.06L113.75 687.79L114.00 680.26L114.25 676.90L114.50 678.18L114.75 680.23L115.00 682.61L115.25 685.29L115.50 688.26L115.75 691.46L116.00 694.83L116.25 698.33L116.50 701.90L116.75 705.49L117.00 709.03L117.25 712.48L117.50 715.80L117.75 718.95L118.00 721.91L118.25 724.65L118.50 727.16L118.75 729.45L119.00 731.51L119.25 733.33L119.50 734.95L119.75 736.37L120.00 737.61L120.25 738.69L120.50 739.63L120.75 740.44L121.00 741.15L121.25 741.77L121.50 742.31L121.75 742.78L122.00 743.20L122.25 743.56L122.50 743.88L122.75 744.16L123.00 744.41L123.25 744.62L123.50 744.82L123.75 744.99L124.00 745.14L124.25 745.27L124.50 745.37L124.75 745.45L125.00 745.48L125.25 745.44L125.50 745.33L125.75 745.11L126.00 744.76L126.25 744.27L126.50 743.61L126.75 742.80L127.00 741.86L127.25 740.82L127.50 739.76L127.75 738.74L128.00 737.87L128.25 737.22L128.50 736.86L128.75 736.83L129.00 737.13L129.25 737.74L129.50 738.61L129.75 739.65L130.00 740.77L130.25 741.88L130.50 742.89L130.75 743.75L131.00 744.40L131.25 744.81L131.50 744.95L131.75 744.82L132.00 744.42L132.25 743.75L132.50 742.87L132.75 741.82L133.00 740.68L133.25 739.54L133.50 738.52L133.75 737.72L134.00 737.23L134.25 737.14L134.50 737.50L134.75 738.05L135.00 738.77L135.25 739.61L135.50 740.52L135.75 741.47L136.00 742.38L136.25 743.24L136.50 744.01L136.75 744.67L137.00 745.22L137.25 745.67L137.50 746.02L137.75 746.30L138.00 746.52L138.25 746.70L138.50 746.85L138.75 746.98L139.00 747.09L139.25 747.20L139.50 747.29L139.75 747.37L140.00 747.44L140.25 747.50L140.50 747.53L140.75 747.55L141.00 747.56L141.25 747.56L141.50 747.55L141.75 747.54L142.00 747.53L142.25 747.53L142.50 747.54L142.75 747.56L143.00 747.59L143.25 747.63L143.50 747.67L143.75 747.70L144.00 747.73L144.25 747.74L144.50 747.73L144.75 747.70L145.00 747.64L145.25 747.55L145.50 747.45L145.75 747.32L146.00 747.18L146.25 747.04L146.50 746.92L146.75 746.81L147.00 746.74L147.25 746.70L147.50 746.72L147.75 746.77L148.00 746.86L148.25 746.98L148.50 747.12L148.75 747.25L149.00 747.39L149.25 747.51L149.50 747.62L149.75 747.72L150.00 747.80L150.25 747.87L150.50 747.93L150.75 747.97L151.00 748.00L151.25 748.01L151.50 748.00L151.75 747.98L152.00 747.95L152.25 747.90L152.50 747.85L152.75 747.80L153.00 747.76L153.25 747.72L153.50 747.70L153.75 747.69L154.00 747.70L154.25 747.72L154.50 747.74L154.75 747.75L155.00 747.74L155.25 747.67L155.50 747.52L155.75 747.24L156.00 746.77L156.25 746.02L156.50 744.93L156.75 743.45L157.00 741.56L157.25 739.33L157.50 736.88L157.75 734.45L158.00 732.30L158.25 730.72L158.50 729.92L158.75 730.11L159.00 730.82L159.25 731.87L159.50 733.19L159.75 734.70L160.00 736.31L160.25 737.95L160.50 739.52L160.75 740.99L161.00 742.29L161.25 743.42L161.50 744.36L161.75 745.12L162.00 745.71L162.25 746.16L162.50 746.49L162.75 746.72L163.00 746.87L163.25 746.97L163.50 747.03L163.75 747.06L164.00 747.08L164.25 747.11L164.50 747.14L164.75 747.18L165.00 747.23L165.25 747.29L165.50 747.37L165.75 747.44L166.00 747.51L166.25 747.58L166.50 747.64L166.75 747.68L167.00 747.71L167.25 747.73L167.50 747.74L167.75 747.75L168.00 747.75L168.25 747.75L168.50 747.76L168.75 747.76L169.00 747.78L169.25 747.79L169.50 747.80L169.75 747.81L170.00 747.82L170.25 747.82L170.50 747.81L170.75 747.80L171.00 747.78L171.25 747.75L171.50 747.71L171.75 747.67L172.00 747.60L172.25 747.51L172.50 747.39L172.75 747.23L173.00 747.04L173.25 746.81L173.50 746.55L173.75 746.30L174.00 746.07L174.25 745.88L174.50 745.77L174.75 745.74L175.00 745.80L175.25 745.94L175.50 746.15L175.75 746.40L176.00 746.67L176.25 746.94L176.50 747.20L176.75 747.42L177.00 747.60L177.25 747.75L177.50 747.86L177.75 747.93L178.00 747.97L178.25 747.99L178.50 747.99L178.75 747.97L179.00 747.95L179.25 747.93L179.50 747.91L179.75 747.89L180.00 747.88L180.25 747.87L180.50 747.86L180.75 747.85L181.00 747.84L181.25 747.83L181.50 747.81L181.75 747.79L182.00 747.77L182.25 747.76L182.50 747.75L182.75 747.75L183.00 747.75L183.25 747.77L183.50 747.79L183.75 747.82L184.00 747.85L184.25 747.87L184.50 747.89L184.75 747.90L185.00 747.89L185.25 747.87L185.50 747.85L185.75 747.82L186.00 747.79L186.25 747.77L186.50 747.75L186.75 747.76L187.00 747.77L187.25 747.80L187.50 747.84L187.75 747.88L188.00 747.93L188.25 747.97L188.50 748.00L188.75 748.02L189.00 748.02L189.25 748.01L189.50 747.99L189.75 747.96L190.00 747.93L190.25 747.89L190.50 747.86L190.75 747.83L191.00 747.81L191.25 747.80L191.50 747.78L191.75 747.77L192.00 747.76L192.25 747.75L192.50 747.74L192.75 747.73L193.00 747.72L193.25 747.72L193.50 747.72L193.75 747.73L194.00 747.75L194.25 747.78L194.50 747.81L194.75 747.85L195.00 747.90L195.25 747.93L195.50 747.96L195.75 747.98L196.00 747.98L196.25 747.97L196.50 747.95L196.75 747.92L197.00 747.88L197.25 747.85L197.50 747.82L197.75 747.80L198.00 747.80L198.25 747.81L198.50 747.83L198.75 747.86L199.00 747.89L199.25 747.92L199.50 747.94L199.75 747.95L200.00 747.95L200.25 747.94L200.50 747.92L200.75 747.89L201.00 747.86L201.25 747.82L201.50 747.79L201.75 747.77L202.00 747.75L202.25 747.75L202.50 747.74L202.75 747.75L203.00 747.75L203.25 747.75L203.50 747.76L203.75 747.76L204.00 747.76L204.25 747.77L204.50 747.78L204.75 747.79L205.00 747.82L205.25 747.85L205.50 747.88L205.75 747.92L206.00 747.96L206.25 748.00L206.50 748.03L206.75 748.04L207.00 748.04L207.25 748.02L207.50 747.99L207.75 747.95L208.00 747.90L208.25 747.85L208.50 747.80L208.75 747.77L209.00 747.75L209.25 747.73L209.50 747.73L209.75 747.72L210.00 747.70L210.25 747.63L210.50 747.47L210.75 747.18L211.00 746.67L211.25 745.87L211.50 744.69L211.75 743.08L212.00 741.02L212.25 738.58L212.50 735.90L212.75 733.24L213.00 730.89L213.25 729.15L213.50 728.27L213.75 728.47L214.00 729.25L214.25 730.40L214.50 731.84L214.75 733.48L215.00 735.25L215.25 737.03L215.50 738.74L215.75 740.33L216.00 741.75L216.25 742.98L216.50 744.01L216.75 744.84L217.00 745.51L217.25 746.02L217.50 746.41L217.75 746.69L218.00 746.89L218.25 747.02L218.50 747.11L218.75 747.15L219.00 747.17L219.25 747.18L219.50 747.18L219.75 747.19L220.00 747.20L220.25 747.23L220.50 747.27L220.75 747.33L221.00 747.39L221.25 747.45L221.50 747.52L221.75 747.57L222.00 747.62L222.25 747.66L222.50 747.69L222.75 747.70L223.00 747.71L223.25 747.72L223.50 747.72L223.75 747.73L224.00 747.74L224.25 747.75L224.50 747.76L224.75 747.77L225.00 747.76L225.25 747.74L225.50 747.69L225.75 747.61L226.00 747.49L226.25 747.32L226.50 747.10L226.75 746.84L227.00 746.54L227.25 746.24L227.50 745.94L227.75 745.69L228.00 745.50L228.25 745.41L228.50 745.41L228.75 745.51L229.00 745.70L229.25 745.94L229.50 746.22L229.75 746.49L230.00 746.75L230.25 746.97L230.50 747.15L230.75 747.29L231.00 747.40L231.25 747.49L231.50 747.56L231.75 747.63L232.00 747.70L232.25 747.76L232.50 747.82L232.75 747.87L233.00 747.91L233.25 747.94L233.50 747.96L233.75 747.97L234.00 747.97L234.25 747.96L234.50 747.95L234.75 747.93L235.00 747.92L235.25 747.92L235.50 747.91L235.75 747.91L236.00 747.90L236.25 747.89L236.50 747.88L236.75 747.87L237.00 747.85L237.25 747.82L237.50 747.80L237.75 747.78L238.00 747.77L238.25 747.77L238.50 747.77L238.75 747.79L239.00 747.81L239.25 747.83L239.50 747.86L239.75 747.88L240.00 747.89L240.25 747.89L240.50 747.87L240.75 747.85L241.00 747.82L241.25 747.79L241.50 747.75L241.75 747.73L242.00 747.72L242.25 747.72L242.50 747.73L242.75 747.76" fill="none" stroke="#000" stroke-width="2.60" stroke-linejoin="round" stroke-linecap="butt"/>
<g stroke="#3c3c3c" stroke-width="0.95" fill="none">
<path d="M315.30 642.05 V755.25"/>
<path d="M310.65 750.25 H451.45"/>
<path d="M310.65 693.35 H315.65"/>
<path d="M369.35 750.25 V755.25"/>
<path d="M423.05 750.25 V755.25"/>
</g>
<text x="300.50" y="755.25" font-size="17.00" text-anchor="end" font-weight="normal" >0</text>
<text x="300.50" y="698.75" font-size="17.00" text-anchor="end" font-weight="normal" >100</text>
<g stroke="#303030" stroke-width="1.05" fill="none">
<path d="M325.00 683.40 L343.20 666.00"/>
<path d="M343.40 666.00 V737.00"/>
<path d="M337.60 722.60 V734.00"/>
<path d="M370.00 699.60 L385.30 689.60"/>
<path d="M385.40 689.60 L385.40 740.00"/>
<path d="M422.00 728.40 L422.00 737.00"/>
</g>
<text x="319.40" y="661.20" font-size="12.70" text-anchor="start" font-weight="normal" >Suc-CoA</text>
<text font-size="12.70" transform="translate(341.00 721.30) rotate(-90)">CoA</text>
<text x="362.60" y="685.45" font-size="12.70" text-anchor="start" font-weight="normal" >MSuc-CoA</text>
<text x="388.60" y="724.45" font-size="12.70" text-anchor="start" font-weight="normal" >Acetyl-CoA</text>
<path d="M315.65 748.75L315.90 748.75L316.15 748.75L316.40 748.75L316.65 748.75L316.90 748.75L317.15 748.75L317.40 748.75L317.65 748.75L317.90 748.75L318.15 748.75L318.40 748.75L318.65 748.75L318.90 748.75L319.15 748.75L319.40 748.74L319.65 748.72L319.90 748.66L320.15 748.53L320.40 748.25L320.65 747.65L320.90 746.50L321.15 744.46L321.40 741.14L321.65 736.13L321.90 729.22L322.15 720.56L322.40 710.78L322.65 701.03L322.90 692.79L323.15 687.52L323.40 686.44L323.65 688.05L323.90 689.97L324.15 692.17L324.40 694.63L324.65 697.33L324.90 700.21L325.15 703.23L325.40 706.33L325.65 709.48L325.90 712.62L326.15 715.71L326.40 718.70L326.65 721.57L326.90 724.27L327.15 726.80L327.40 729.13L327.65 731.26L327.90 733.18L328.15 734.90L328.40 736.43L328.65 737.78L328.90 738.96L329.15 739.99L329.40 740.88L329.65 741.66L329.90 742.33L330.15 742.92L330.40 743.43L330.65 743.88L330.90 744.27L331.15 744.61L331.40 744.91L331.65 745.18L331.90 745.42L332.15 745.63L332.40 745.83L332.65 746.01L332.90 746.18L333.15 746.32L333.40 746.45L333.65 746.55L333.90 746.62L334.15 746.63L334.40 746.58L334.65 746.44L334.90 746.20L335.15 745.82L335.40 745.28L335.65 744.57L335.90 743.68L336.15 742.64L336.40 741.48L336.65 740.26L336.90 739.06L337.15 737.97L337.40 737.10L337.65 736.53L337.90 736.31L338.15 736.47L338.40 737.00L338.65 737.84L338.90 738.92L339.15 740.14L339.40 741.39L339.65 742.57L339.90 743.61L340.15 744.42L340.40 744.97L340.65 745.22L340.90 745.17L341.15 744.83L341.40 744.21L341.65 743.38L341.90 742.38L342.15 741.33L342.40 740.31L342.65 739.44L342.90 738.82L343.15 738.51L343.40 738.66L343.65 739.11L343.90 739.72L344.15 740.48L344.40 741.33L344.65 742.22L344.90 743.10L345.15 743.93L345.40 744.68L345.65 745.33L345.90 745.88L346.15 746.32L346.40 746.67L346.65 746.94L346.90 747.16L347.15 747.34L347.40 747.49L347.65 747.62L347.90 747.74L348.15 747.85L348.40 747.95L348.65 748.05L348.90 748.12L349.15 748.18L349.40 748.23L349.65 748.26L349.90 748.28L350.15 748.28L350.40 748.28L350.65 748.29L350.90 748.29L351.15 748.30L351.40 748.32L351.65 748.35L351.90 748.38L352.15 748.41L352.40 748.44L352.65 748.46L352.90 748.46L353.15 748.43L353.40 748.38L353.65 748.29L353.90 748.15L354.15 747.98L354.40 747.77L354.65 747.53L354.90 747.28L355.15 747.04L355.40 746.82L355.65 746.65L355.90 746.56L356.15 746.54L356.40 746.60L356.65 746.73L356.90 746.91L357.15 747.13L357.40 747.35L357.65 747.58L357.90 747.78L358.15 747.96L358.40 748.12L358.65 748.26L358.90 748.38L359.15 748.48L359.40 748.57L359.65 748.64L359.90 748.70L360.15 748.73L360.40 748.75L360.65 748.75L360.90 748.74L361.15 748.72L361.40 748.68L361.65 748.65L361.90 748.62L362.15 748.59L362.40 748.58L362.65 748.57L362.90 748.57L363.15 748.58L363.40 748.59L363.65 748.60L363.90 748.60L364.15 748.60L364.40 748.60L364.65 748.58L364.90 748.55L365.15 748.49L365.40 748.38L365.65 748.17L365.90 747.80L366.15 747.15L366.40 746.06L366.65 744.35L366.90 741.83L367.15 738.32L367.40 733.77L367.65 728.28L367.90 722.15L368.15 715.91L368.40 710.22L368.65 705.82L368.90 703.32L369.15 703.28L369.40 704.90L369.65 707.40L369.90 710.65L370.15 714.44L370.40 718.54L370.65 722.73L370.90 726.80L371.15 730.58L371.40 733.95L371.65 736.84L371.90 739.25L372.15 741.18L372.40 742.69L372.65 743.85L372.90 744.71L373.15 745.36L373.40 745.84L373.65 746.21L373.90 746.49L374.15 746.72L374.40 746.91L374.65 747.07L374.90 747.21L375.15 747.33L375.40 747.43L375.65 747.53L375.90 747.61L376.15 747.69L376.40 747.76L376.65 747.83L376.90 747.90L377.15 747.97L377.40 748.04L377.65 748.10L377.90 748.16L378.15 748.22L378.40 748.26L378.65 748.29L378.90 748.31L379.15 748.32L379.40 748.32L379.65 748.32L379.90 748.33L380.15 748.34L380.40 748.36L380.65 748.39L380.90 748.42L381.15 748.47L381.40 748.51L381.65 748.55L381.90 748.58L382.15 748.59L382.40 748.56L382.65 748.49L382.90 748.37L383.15 748.19L383.40 747.95L383.65 747.63L383.90 747.25L384.15 746.83L384.40 746.37L384.65 745.92L384.90 745.51L385.15 745.19L385.40 744.99L385.65 744.94L385.90 745.04L386.15 745.29L386.40 745.64L386.65 746.06L386.90 746.52L387.15 746.97L387.40 747.38L387.65 747.73L387.90 748.02L388.15 748.24L388.40 748.41L388.65 748.54L388.90 748.62L389.15 748.67L389.40 748.70L389.65 748.70L389.90 748.69L390.15 748.67L390.40 748.63L390.65 748.60L390.90 748.57L391.15 748.54L391.40 748.52L391.65 748.52L391.90 748.53L392.15 748.55L392.40 748.58L392.65 748.61L392.90 748.63L393.15 748.65L393.40 748.67L393.65 748.66L393.90 748.65L394.15 748.62L394.40 748.59L394.65 748.55L394.90 748.51L395.15 748.48L395.40 748.46L395.65 748.45L395.90 748.46L396.15 748.47L396.40 748.50L396.65 748.53L396.90 748.56L397.15 748.59L397.40 748.62L397.65 748.64L397.90 748.66L398.15 748.67L398.40 748.68L398.65 748.69L398.90 748.70L399.15 748.71L399.40 748.72L399.65 748.73L399.90 748.73L400.15 748.73L400.40 748.73L400.65 748.71L400.90 748.68L401.15 748.64L401.40 748.60L401.65 748.55L401.90 748.51L402.15 748.47L402.40 748.45L402.65 748.44L402.90 748.44L403.15 748.46L403.40 748.49L403.65 748.53L403.90 748.57L404.15 748.61L404.40 748.64L404.65 748.65L404.90 748.66L405.15 748.65L405.40 748.63L405.65 748.61L405.90 748.58L406.15 748.56L406.40 748.54L406.65 748.54L406.90 748.54L407.15 748.56L407.40 748.58L407.65 748.60L407.90 748.63L408.15 748.65L408.40 748.67L408.65 748.68L408.90 748.69L409.15 748.69L409.40 748.68L409.65 748.68L409.90 748.67L410.15 748.67L410.40 748.67L410.65 748.67L410.90 748.67L411.15 748.66L411.40 748.65L411.65 748.63L411.90 748.61L412.15 748.57L412.40 748.53L412.65 748.49L412.90 748.45L413.15 748.42L413.40 748.40L413.65 748.40L413.90 748.41L414.15 748.44L414.40 748.48L414.65 748.54L414.90 748.59L415.15 748.64L415.40 748.68L415.65 748.72L415.90 748.73L416.15 748.73L416.40 748.72L416.65 748.70L416.90 748.68L417.15 748.65L417.40 748.63L417.65 748.61L417.90 748.59L418.15 748.59L418.40 748.58L418.65 748.57L418.90 748.53L419.15 748.46L419.40 748.33L419.65 748.12L419.90 747.80L420.15 747.36L420.40 746.79L420.65 746.11L420.90 745.35L421.15 744.58L421.40 743.88L421.65 743.34L421.90 743.04L422.15 743.04L422.40 743.24L422.65 743.54L422.90 743.92L423.15 744.36L423.40 744.83L423.65 745.31L423.90 745.78L424.15 746.22L424.40 746.63L424.65 746.98L424.90 747.30L425.15 747.57L425.40 747.81L425.65 748.01L425.90 748.18L426.15 748.31L426.40 748.42L426.65 748.50L426.90 748.55L427.15 748.58L427.40 748.59L427.65 748.57L427.90 748.55L428.15 748.53L428.40 748.50L428.65 748.47L428.90 748.46L429.15 748.45L429.40 748.45L429.65 748.45L429.90 748.46L430.15 748.47L430.40 748.47L430.65 748.47L430.90 748.46L431.15 748.43L431.40 748.40L431.65 748.35L431.90 748.29L432.15 748.21L432.40 748.12L432.65 748.02L432.90 747.92L433.15 747.82L433.40 747.73L433.65 747.66L433.90 747.62L434.15 747.61L434.40 747.64L434.65 747.70L434.90 747.78L435.15 747.88L435.40 748.00L435.65 748.11L435.90 748.23L436.15 748.34L436.40 748.44L436.65 748.53L436.90 748.61L437.15 748.68L437.40 748.73L437.65 748.76L437.90 748.77L438.15 748.77L438.40 748.75L438.65 748.71L438.90 748.66L439.15 748.62L439.40 748.57L439.65 748.53L439.90 748.49L440.15 748.47L440.40 748.46L440.65 748.46L440.90 748.47L441.15 748.48L441.40 748.49L441.65 748.50L441.90 748.52L442.15 748.52L442.40 748.53L442.65 748.54L442.90 748.55L443.15 748.57L443.40 748.59L443.65 748.62L443.90 748.65L444.15 748.67L444.40 748.70L444.65 748.71L444.90 748.72L445.15 748.72L445.40 748.70L445.65 748.68L445.90 748.65L446.15 748.61L446.40 748.58L446.65 748.56L446.90 748.55L447.15 748.55L447.40 748.56L447.65 748.58L447.90 748.61L448.15 748.65L448.40 748.67L448.65 748.69L448.90 748.70L449.15 748.69L449.40 748.67L449.65 748.64L449.90 748.60L450.15 748.56L450.40 748.52L450.65 748.49L450.90 748.46L451.15 748.45L451.40 748.45" fill="none" stroke="#000" stroke-width="2.60" stroke-linejoin="round" stroke-linecap="butt"/>
<g stroke="#3c3c3c" stroke-width="0.95" fill="none">
<path d="M523.25 641.10 V754.30"/>
<path d="M518.60 749.30 H659.40"/>
<path d="M518.60 692.40 H523.60"/>
<path d="M577.30 749.30 V754.30"/>
<path d="M631.00 749.30 V754.30"/>
</g>
<text x="509.10" y="754.30" font-size="17.00" text-anchor="end" font-weight="normal" >0</text>
<text x="509.10" y="697.80" font-size="17.00" text-anchor="end" font-weight="normal" >100</text>
<g stroke="#303030" stroke-width="1.05" fill="none">
<path d="M535.60 684.60 L551.40 666.00"/>
<path d="M551.60 666.00 V730.00"/>
<path d="M546.00 723.00 V734.00"/>
<path d="M578.60 708.40 L578.60 734.00"/>
<path d="M630.40 728.60 L630.40 737.00"/>
</g>
<text x="527.40" y="661.20" font-size="12.70" text-anchor="start" font-weight="normal" >Suc-CoA</text>
<text font-size="12.70" transform="translate(548.60 721.30) rotate(-90)">CoA</text>
<text x="557.20" y="706.05" font-size="12.70" text-anchor="start" font-weight="normal" >MSuc-CoA</text>
<text x="596.00" y="725.05" font-size="12.70" text-anchor="start" font-weight="normal" >Acetyl-CoA</text>
<path d="M523.60 747.80L523.85 747.80L524.10 747.80L524.35 747.80L524.60 747.80L524.85 747.80L525.10 747.80L525.35 747.80L525.60 747.80L525.85 747.80L526.10 747.80L526.35 747.80L526.60 747.80L526.85 747.80L527.10 747.80L527.35 747.79L527.60 747.78L527.85 747.76L528.10 747.68L528.35 747.51L528.60 747.12L528.85 746.34L529.10 744.86L529.35 742.27L529.60 738.11L529.85 731.96L530.10 723.63L530.35 713.39L530.60 702.09L530.85 691.14L531.10 682.27L531.35 677.09L531.60 676.87L531.85 678.78L532.10 681.04L532.35 683.63L532.60 686.50L532.85 689.63L533.10 692.96L533.35 696.43L533.60 700.01L533.85 703.61L534.10 707.19L534.35 710.71L534.60 714.10L534.85 717.34L535.10 720.40L535.35 723.24L535.60 725.86L535.85 728.25L536.10 730.41L536.35 732.34L536.60 734.04L536.85 735.55L537.10 736.86L537.35 738.01L537.60 739.00L537.85 739.86L538.10 740.61L538.35 741.25L538.60 741.81L538.85 742.30L539.10 742.72L539.35 743.10L539.60 743.43L539.85 743.72L540.10 743.99L540.35 744.23L540.60 744.44L540.85 744.64L541.10 744.80L541.35 744.92L541.60 745.00L541.85 745.00L542.10 744.91L542.35 744.70L542.60 744.36L542.85 743.85L543.10 743.16L543.35 742.32L543.60 741.32L543.85 740.24L544.10 739.12L544.35 738.06L544.60 737.14L544.85 736.46L545.10 736.09L545.35 736.06L545.60 736.39L545.85 737.04L546.10 737.95L546.35 739.03L546.60 740.19L546.85 741.32L547.10 742.34L547.35 743.17L547.60 743.75L547.85 744.04L548.10 744.03L548.35 743.71L548.60 743.10L548.85 742.22L549.10 741.15L549.35 739.96L549.60 738.76L549.85 737.67L550.10 736.79L550.35 736.23L550.60 736.06L550.85 736.44L551.10 737.04L551.35 737.83L551.60 738.75L551.85 739.76L552.10 740.81L552.35 741.83L552.60 742.78L552.85 743.63L553.10 744.36L553.35 744.96L553.60 745.44L553.85 745.81L554.10 746.08L554.35 746.27L554.60 746.41L554.85 746.51L555.10 746.60L555.35 746.67L555.60 746.74L555.85 746.82L556.10 746.90L556.35 746.98L556.60 747.05L556.85 747.13L557.10 747.19L557.35 747.24L557.60 747.28L557.85 747.30L558.10 747.32L558.35 747.33L558.60 747.33L558.85 747.34L559.10 747.35L559.35 747.36L559.60 747.38L559.85 747.41L560.10 747.44L560.35 747.47L560.60 747.49L560.85 747.51L561.10 747.53L561.35 747.52L561.60 747.51L561.85 747.48L562.10 747.44L562.35 747.38L562.60 747.30L562.85 747.20L563.10 747.10L563.35 746.99L563.60 746.89L563.85 746.80L564.10 746.73L564.35 746.69L564.60 746.68L564.85 746.70L565.10 746.75L565.35 746.82L565.60 746.90L565.85 746.98L566.10 747.07L566.35 747.15L566.60 747.24L566.85 747.32L567.10 747.40L567.35 747.47L567.60 747.54L567.85 747.60L568.10 747.66L568.35 747.69L568.60 747.72L568.85 747.73L569.10 747.73L569.35 747.72L569.60 747.71L569.85 747.69L570.10 747.68L570.35 747.67L570.60 747.67L570.85 747.67L571.10 747.68L571.35 747.68L571.60 747.69L571.85 747.69L572.10 747.69L572.35 747.68L572.60 747.67L572.85 747.66L573.10 747.65L573.35 747.64L573.60 747.63L573.85 747.64L574.10 747.64L574.35 747.65L574.60 747.66L574.85 747.65L575.10 747.63L575.35 747.56L575.60 747.45L575.85 747.24L576.10 746.93L576.35 746.46L576.60 745.81L576.85 744.96L577.10 743.93L577.35 742.75L577.60 741.53L577.85 740.37L578.10 739.43L578.35 738.82L578.60 738.65L578.85 738.94L579.10 739.41L579.35 740.03L579.60 740.76L579.85 741.55L580.10 742.36L580.35 743.15L580.60 743.90L580.85 744.57L581.10 745.15L581.35 745.64L581.60 746.04L581.85 746.37L582.10 746.62L582.35 746.82L582.60 746.96L582.85 747.06L583.10 747.14L583.35 747.19L583.60 747.22L583.85 747.25L584.10 747.27L584.35 747.29L584.60 747.31L584.85 747.34L585.10 747.37L585.35 747.41L585.60 747.45L585.85 747.49L586.10 747.52L586.35 747.55L586.60 747.57L586.85 747.57L587.10 747.56L587.35 747.55L587.60 747.53L587.85 747.51L588.10 747.49L588.35 747.49L588.60 747.50L588.85 747.52L589.10 747.55L589.35 747.60L589.60 747.65L589.85 747.70L590.10 747.74L590.35 747.77L590.60 747.79L590.85 747.80L591.10 747.79L591.35 747.76L591.60 747.73L591.85 747.70L592.10 747.66L592.35 747.63L592.60 747.60L592.85 747.58L593.10 747.56L593.35 747.55L593.60 747.55L593.85 747.54L594.10 747.54L594.35 747.53L594.60 747.53L594.85 747.53L595.10 747.53L595.35 747.53L595.60 747.54L595.85 747.56L596.10 747.59L596.35 747.62L596.60 747.66L596.85 747.70L597.10 747.73L597.35 747.76L597.60 747.77L597.85 747.77L598.10 747.76L598.35 747.74L598.60 747.71L598.85 747.67L599.10 747.64L599.35 747.62L599.60 747.60L599.85 747.60L600.10 747.61L600.35 747.63L600.60 747.66L600.85 747.69L601.10 747.72L601.35 747.74L601.60 747.75L601.85 747.75L602.10 747.74L602.35 747.72L602.60 747.68L602.85 747.65L603.10 747.61L603.35 747.58L603.60 747.55L603.85 747.54L604.10 747.53L604.35 747.53L604.60 747.54L604.85 747.54L605.10 747.55L605.35 747.56L605.60 747.57L605.85 747.58L606.10 747.59L606.35 747.60L606.60 747.61L606.85 747.64L607.10 747.67L607.35 747.70L607.60 747.74L607.85 747.77L608.10 747.80L608.35 747.83L608.60 747.83L608.85 747.83L609.10 747.81L609.35 747.78L609.60 747.73L609.85 747.68L610.10 747.64L610.35 747.59L610.60 747.56L610.85 747.54L611.10 747.54L611.35 747.55L611.60 747.57L611.85 747.59L612.10 747.62L612.35 747.65L612.60 747.67L612.85 747.68L613.10 747.68L613.35 747.67L613.60 747.65L613.85 747.63L614.10 747.61L614.35 747.59L614.60 747.57L614.85 747.57L615.10 747.57L615.35 747.58L615.60 747.60L615.85 747.61L616.10 747.63L616.35 747.64L616.60 747.65L616.85 747.66L617.10 747.67L617.35 747.67L617.60 747.68L617.85 747.69L618.10 747.71L618.35 747.73L618.60 747.75L618.85 747.78L619.10 747.79L619.35 747.81L619.60 747.81L619.85 747.79L620.10 747.77L620.35 747.73L620.60 747.68L620.85 747.62L621.10 747.57L621.35 747.52L621.60 747.48L621.85 747.46L622.10 747.46L622.35 747.47L622.60 747.49L622.85 747.53L623.10 747.57L623.35 747.61L623.60 747.65L623.85 747.68L624.10 747.69L624.35 747.70L624.60 747.70L624.85 747.69L625.10 747.68L625.35 747.67L625.60 747.66L625.85 747.66L626.10 747.66L626.35 747.66L626.60 747.66L626.85 747.65L627.10 747.63L627.35 747.57L627.60 747.46L627.85 747.27L628.10 746.99L628.35 746.58L628.60 746.04L628.85 745.37L629.10 744.58L629.35 743.74L629.60 742.92L629.85 742.23L630.10 741.74L630.35 741.53L630.60 741.65L630.85 741.91L631.10 742.27L631.35 742.70L631.60 743.19L631.85 743.71L632.10 744.22L632.35 744.72L632.60 745.18L632.85 745.59L633.10 745.97L633.35 746.29L633.60 746.57L633.85 746.80L634.10 747.00L634.35 747.17L634.60 747.30L634.85 747.40L635.10 747.47L635.35 747.52L635.60 747.56L635.85 747.57L636.10 747.58L636.35 747.58L636.60 747.57L636.85 747.57L637.10 747.57L637.35 747.58L637.60 747.58L637.85 747.58L638.10 747.59L638.35 747.59L638.60 747.58L638.85 747.57L639.10 747.56L639.35 747.54L639.60 747.53L639.85 747.52L640.10 747.52L640.35 747.53L640.60 747.54L640.85 747.56L641.10 747.57L641.35 747.58L641.60 747.58L641.85 747.55L642.10 747.51L642.35 747.45L642.60 747.37L642.85 747.28L643.10 747.19L643.35 747.10L643.60 747.04L643.85 747.01L644.10 747.01L644.35 747.05L644.60 747.12L644.85 747.22L645.10 747.33L645.35 747.44L645.60 747.55L645.85 747.64L646.10 747.70L646.35 747.75L646.60 747.77L646.85 747.77L647.10 747.76L647.35 747.74L647.60 747.71L647.85 747.68L648.10 747.66L648.35 747.64L648.60 747.63L648.85 747.61L649.10 747.60L649.35 747.59L649.60 747.58L649.85 747.56L650.10 747.55L650.35 747.53L650.60 747.52L650.85 747.52L651.10 747.52L651.35 747.54L651.60 747.56L651.85 747.60L652.10 747.63L652.35 747.67L652.60 747.70L652.85 747.73L653.10 747.74L653.35 747.74L653.60 747.73L653.85 747.71L654.10 747.68L654.35 747.65L654.60 747.62L654.85 747.60L655.10 747.59L655.35 747.60L655.60 747.62L655.85 747.64L656.10 747.68L656.35 747.71L656.60 747.75L656.85 747.77L657.10 747.78L657.35 747.78L657.60 747.77L657.85 747.75L658.10 747.72L658.35 747.68L658.60 747.65L658.85 747.62L659.10 747.59L659.35 747.57" fill="none" stroke="#000" stroke-width="2.60" stroke-linejoin="round" stroke-linecap="butt"/>
<text x="1.50" y="850.70" font-size="21.00" text-anchor="start" font-weight="normal" >3 min</text>
<g stroke="#3c3c3c" stroke-width="0.95" fill="none">
<path d="M106.65 765.10 V878.30"/>
<path d="M102.00 873.30 H242.80"/>
<path d="M102.00 816.40 H107.00"/>
<path d="M160.70 873.30 V878.30"/>
<path d="M214.40 873.30 V878.30"/>
</g>
<text x="92.50" y="878.30" font-size="17.00" text-anchor="end" font-weight="normal" >0</text>
<text x="92.50" y="821.80" font-size="17.00" text-anchor="end" font-weight="normal" >100</text>
<text x="107.00" y="898.50" font-size="17.00" text-anchor="middle" font-weight="normal" >0.95</text>
<text x="161.70" y="898.50" font-size="17.00" text-anchor="middle" font-weight="normal" >1.45</text>
<text x="215.40" y="898.50" font-size="17.00" text-anchor="middle" font-weight="normal" >1.95</text>
<text x="241.40" y="898.50" font-size="17.00" text-anchor="start" font-weight="normal" >min</text>
<g stroke="#303030" stroke-width="1.05" fill="none">
<path d="M118.00 825.00 L134.70 791.00"/>
<path d="M134.80 791.00 V861.70"/>
<path d="M128.60 843.10 V850.80"/>
<path d="M159.00 827.00 L159.00 845.40"/>
<path d="M211.40 799.60 L211.40 807.00"/>
</g>
<text x="111.00" y="786.20" font-size="12.70" text-anchor="start" font-weight="normal" >Suc-CoA</text>
<text font-size="12.70" transform="translate(132.40 842.30) rotate(-90)">CoA</text>
<text x="143.20" y="824.45" font-size="12.70" text-anchor="start" font-weight="normal" >Ita-CoA</text>
<text x="175.60" y="795.85" font-size="12.70" text-anchor="start" font-weight="normal" >Acetyl-CoA</text>
<path d="M107.00 871.80L107.25 871.80L107.50 871.80L107.75 871.80L108.00 871.80L108.25 871.80L108.50 871.80L108.75 871.80L109.00 871.80L109.25 871.80L109.50 871.80L109.75 871.80L110.00 871.80L110.25 871.80L110.50 871.80L110.75 871.80L111.00 871.80L111.25 871.80L111.50 871.80L111.75 871.80L112.00 871.79L112.25 871.76L112.50 871.70L112.75 871.54L113.00 871.21L113.25 870.52L113.50 869.26L113.75 867.13L114.00 863.85L114.25 859.27L114.50 853.51L114.75 847.09L115.00 840.89L115.25 836.01L115.50 833.44L115.75 833.91L116.00 835.53L116.25 837.64L116.50 840.16L116.75 842.97L117.00 845.94L117.25 848.94L117.50 851.86L117.75 854.58L118.00 857.05L118.25 859.22L118.50 861.09L118.75 862.65L119.00 863.94L119.25 864.98L119.50 865.82L119.75 866.49L120.00 867.03L120.25 867.48L120.50 867.85L120.75 868.16L121.00 868.44L121.25 868.69L121.50 868.91L121.75 869.11L122.00 869.30L122.25 869.47L122.50 869.62L122.75 869.76L123.00 869.89L123.25 870.01L123.50 870.12L123.75 870.22L124.00 870.30L124.25 870.38L124.50 870.43L124.75 870.45L125.00 870.43L125.25 870.34L125.50 870.16L125.75 869.86L126.00 869.39L126.25 868.73L126.50 867.84L126.75 866.69L127.00 865.30L127.25 863.68L127.50 861.90L127.75 860.05L128.00 858.26L128.25 856.67L128.50 855.42L128.75 854.63L129.00 854.37L129.25 854.67L129.50 855.48L129.75 856.74L130.00 858.31L130.25 860.04L130.50 861.80L130.75 863.45L131.00 864.90L131.25 866.08L131.50 866.97L131.75 867.57L132.00 867.91L132.25 868.03L132.50 867.97L132.75 867.78L133.00 867.50L133.25 867.19L133.50 866.86L133.75 866.57L134.00 866.32L134.25 866.15L134.50 866.07L134.75 866.08L135.00 866.19L135.25 866.39L135.50 866.67L135.75 867.01L136.00 867.40L136.25 867.83L136.50 868.26L136.75 868.69L137.00 869.10L137.25 869.48L137.50 869.83L137.75 870.15L138.00 870.43L138.25 870.68L138.50 870.90L138.75 871.10L139.00 871.28L139.25 871.42L139.50 871.55L139.75 871.65L140.00 871.72L140.25 871.77L140.50 871.79L140.75 871.79L141.00 871.78L141.25 871.74L141.50 871.70L141.75 871.66L142.00 871.62L142.25 871.59L142.50 871.56L142.75 871.55L143.00 871.54L143.25 871.54L143.50 871.54L143.75 871.52L144.00 871.50L144.25 871.45L144.50 871.37L144.75 871.25L145.00 871.10L145.25 870.91L145.50 870.69L145.75 870.45L146.00 870.21L146.25 869.99L146.50 869.82L146.75 869.72L147.00 869.69L147.25 869.74L147.50 869.87L147.75 870.05L148.00 870.27L148.25 870.50L148.50 870.73L148.75 870.94L149.00 871.12L149.25 871.27L149.50 871.40L149.75 871.50L150.00 871.58L150.25 871.66L150.50 871.72L150.75 871.76L151.00 871.79L151.25 871.80L151.50 871.80L151.75 871.78L152.00 871.75L152.25 871.70L152.50 871.65L152.75 871.60L153.00 871.56L153.25 871.52L153.50 871.50L153.75 871.49L154.00 871.49L154.25 871.50L154.50 871.52L154.75 871.53L155.00 871.54L155.25 871.53L155.50 871.48L155.75 871.36L156.00 871.13L156.25 870.73L156.50 870.08L156.75 869.09L157.00 867.68L157.25 865.79L157.50 863.45L157.75 860.75L158.00 857.88L158.25 855.13L158.50 852.84L158.75 851.30L159.00 850.74L159.25 851.28L159.50 852.23L159.75 853.54L160.00 855.15L160.25 856.95L160.50 858.84L160.75 860.73L161.00 862.54L161.25 864.18L161.50 865.64L161.75 866.87L162.00 867.89L162.25 868.69L162.50 869.31L162.75 869.77L163.00 870.10L163.25 870.33L163.50 870.49L163.75 870.60L164.00 870.68L164.25 870.75L164.50 870.81L164.75 870.87L165.00 870.94L165.25 871.01L165.50 871.08L165.75 871.15L166.00 871.22L166.25 871.28L166.50 871.34L166.75 871.38L167.00 871.42L167.25 871.46L167.50 871.49L167.75 871.52L168.00 871.54L168.25 871.57L168.50 871.60L168.75 871.62L169.00 871.63L169.25 871.64L169.50 871.64L169.75 871.63L170.00 871.60L170.25 871.57L170.50 871.53L170.75 871.49L171.00 871.46L171.25 871.43L171.50 871.40L171.75 871.38L172.00 871.36L172.25 871.34L172.50 871.29L172.75 871.22L173.00 871.11L173.25 870.95L173.50 870.75L173.75 870.51L174.00 870.26L174.25 870.02L174.50 869.81L174.75 869.66L175.00 869.59L175.25 869.62L175.50 869.73L175.75 869.92L176.00 870.16L176.25 870.43L176.50 870.71L176.75 870.96L177.00 871.18L177.25 871.36L177.50 871.49L177.75 871.59L178.00 871.65L178.25 871.68L178.50 871.70L178.75 871.71L179.00 871.71L179.25 871.72L179.50 871.72L179.75 871.71L180.00 871.71L180.25 871.70L180.50 871.69L180.75 871.67L181.00 871.64L181.25 871.60L181.50 871.56L181.75 871.52L182.00 871.49L182.25 871.46L182.50 871.45L182.75 871.46L183.00 871.48L183.25 871.51L183.50 871.56L183.75 871.61L184.00 871.66L184.25 871.71L184.50 871.75L184.75 871.77L185.00 871.78L185.25 871.78L185.50 871.76L185.75 871.73L186.00 871.71L186.25 871.68L186.50 871.66L186.75 871.65L187.00 871.64L187.25 871.65L187.50 871.66L187.75 871.67L188.00 871.68L188.25 871.69L188.50 871.69L188.75 871.69L189.00 871.69L189.25 871.68L189.50 871.66L189.75 871.65L190.00 871.64L190.25 871.64L190.50 871.64L190.75 871.64L191.00 871.64L191.25 871.64L191.50 871.64L191.75 871.63L192.00 871.61L192.25 871.59L192.50 871.57L192.75 871.54L193.00 871.52L193.25 871.50L193.50 871.50L193.75 871.51L194.00 871.53L194.25 871.57L194.50 871.62L194.75 871.68L195.00 871.73L195.25 871.78L195.50 871.82L195.75 871.84L196.00 871.85L196.25 871.84L196.50 871.82L196.75 871.78L197.00 871.74L197.25 871.70L197.50 871.66L197.75 871.63L198.00 871.61L198.25 871.60L198.50 871.59L198.75 871.60L199.00 871.60L199.25 871.60L199.50 871.61L199.75 871.61L200.00 871.60L200.25 871.60L200.50 871.59L200.75 871.59L201.00 871.59L201.25 871.59L201.50 871.60L201.75 871.62L202.00 871.64L202.25 871.65L202.50 871.67L202.75 871.67L203.00 871.67L203.25 871.66L203.50 871.65L203.75 871.63L204.00 871.61L204.25 871.59L204.50 871.58L204.75 871.59L205.00 871.60L205.25 871.63L205.50 871.67L205.75 871.71L206.00 871.75L206.25 871.79L206.50 871.82L206.75 871.83L207.00 871.82L207.25 871.77L207.50 871.68L207.75 871.50L208.00 871.20L208.25 870.67L208.50 869.77L208.75 868.32L209.00 866.07L209.25 862.78L209.50 858.24L209.75 852.36L210.00 845.28L210.25 837.38L210.50 829.34L210.75 822.02L211.00 816.35L211.25 813.13L211.50 813.08L211.75 815.17L212.00 818.38L212.25 822.54L212.50 827.40L212.75 832.67L213.00 838.06L213.25 843.30L213.50 848.18L213.75 852.54L214.00 856.29L214.25 859.43L214.50 861.96L214.75 863.95L215.00 865.47L215.25 866.63L215.50 867.49L215.75 868.13L216.00 868.63L216.25 869.01L216.50 869.33L216.75 869.59L217.00 869.82L217.25 870.01L217.50 870.18L217.75 870.33L218.00 870.44L218.25 870.54L218.50 870.61L218.75 870.66L219.00 870.70L219.25 870.73L219.50 870.76L219.75 870.79L220.00 870.83L220.25 870.87L220.50 870.93L220.75 870.99L221.00 871.05L221.25 871.12L221.50 871.18L221.75 871.23L222.00 871.29L222.25 871.33L222.50 871.37L222.75 871.41L223.00 871.45L223.25 871.48L223.50 871.52L223.75 871.55L224.00 871.59L224.25 871.61L224.50 871.62L224.75 871.60L225.00 871.55L225.25 871.45L225.50 871.28L225.75 871.03L226.00 870.68L226.25 870.21L226.50 869.62L226.75 868.91L227.00 868.12L227.25 867.29L227.50 866.50L227.75 865.81L228.00 865.30L228.25 865.03L228.50 865.04L228.75 865.32L229.00 865.83L229.25 866.53L229.50 867.32L229.75 868.13L230.00 868.90L230.25 869.58L230.50 870.14L230.75 870.57L231.00 870.90L231.25 871.14L231.50 871.31L231.75 871.43L232.00 871.52L232.25 871.58L232.50 871.63L232.75 871.67L233.00 871.69L233.25 871.71L233.50 871.72L233.75 871.72L234.00 871.73L234.25 871.73L234.50 871.74L234.75 871.75L235.00 871.75L235.25 871.76L235.50 871.76L235.75 871.76L236.00 871.74L236.25 871.72L236.50 871.68L236.75 871.64L237.00 871.59L237.25 871.55L237.50 871.50L237.75 871.47L238.00 871.45L238.25 871.45L238.50 871.47L238.75 871.50L239.00 871.54L239.25 871.58L239.50 871.63L239.75 871.68L240.00 871.71L240.25 871.73L240.50 871.74L240.75 871.73L241.00 871.72L241.25 871.70L241.50 871.68L241.75 871.66L242.00 871.64L242.25 871.64L242.50 871.64L242.75 871.65" fill="none" stroke="#000" stroke-width="2.60" stroke-linejoin="round" stroke-linecap="butt"/>
<g stroke="#3c3c3c" stroke-width="0.95" fill="none">
<path d="M314.45 765.35 V878.55"/>
<path d="M309.80 873.55 H450.60"/>
<path d="M309.80 816.65 H314.80"/>
<path d="M368.50 873.55 V878.55"/>
<path d="M422.20 873.55 V878.55"/>
</g>
<text x="300.50" y="878.55" font-size="17.00" text-anchor="end" font-weight="normal" >0</text>
<text x="300.50" y="822.05" font-size="17.00" text-anchor="end" font-weight="normal" >100</text>
<text x="315.00" y="898.50" font-size="17.00" text-anchor="middle" font-weight="normal" >0.95</text>
<text x="369.70" y="898.50" font-size="17.00" text-anchor="middle" font-weight="normal" >1.45</text>
<text x="423.40" y="898.50" font-size="17.00" text-anchor="middle" font-weight="normal" >1.95</text>
<text x="449.40" y="898.50" font-size="17.00" text-anchor="start" font-weight="normal" >min</text>
<g stroke="#303030" stroke-width="1.05" fill="none">
<path d="M325.00 832.60 L343.30 792.00"/>
<path d="M343.50 792.00 V862.80"/>
<path d="M337.40 844.60 V852.00"/>
<path d="M377.00 817.00 L385.30 810.60"/>
<path d="M385.40 810.60 L385.40 859.00"/>
<path d="M422.40 848.40 L422.40 856.40"/>
</g>
<text x="319.00" y="787.80" font-size="12.70" text-anchor="start" font-weight="normal" >Suc-CoA</text>
<text font-size="12.70" transform="translate(341.10 842.70) rotate(-90)">CoA</text>
<text x="373.60" y="806.05" font-size="12.70" text-anchor="start" font-weight="normal" >MSuc-CoA</text>
<text x="388.60" y="844.45" font-size="12.70" text-anchor="start" font-weight="normal" >Acetyl-CoA</text>
<path d="M314.80 872.05L315.05 872.05L315.30 872.05L315.55 872.05L315.80 872.05L316.05 872.05L316.30 872.05L316.55 872.05L316.80 872.05L317.05 872.05L317.30 872.05L317.55 872.05L317.80 872.05L318.05 872.05L318.30 872.05L318.55 872.05L318.80 872.05L319.05 872.05L319.30 872.05L319.55 872.05L319.80 872.05L320.05 872.04L320.30 872.02L320.55 871.98L320.80 871.87L321.05 871.63L321.30 871.14L321.55 870.21L321.80 868.60L322.05 866.09L322.30 862.51L322.55 857.90L322.80 852.64L323.05 847.40L323.30 843.06L323.55 840.49L323.80 840.42L324.05 841.68L324.30 843.35L324.55 845.38L324.80 847.67L325.05 850.12L325.30 852.61L325.55 855.04L325.80 857.34L326.05 859.43L326.30 861.29L326.55 862.88L326.80 864.23L327.05 865.33L327.30 866.24L327.55 866.96L327.80 867.55L328.05 868.01L328.30 868.39L328.55 868.71L328.80 868.97L329.05 869.20L329.30 869.40L329.55 869.59L329.80 869.76L330.05 869.92L330.30 870.07L330.55 870.21L330.80 870.34L331.05 870.45L331.30 870.56L331.55 870.65L331.80 870.72L332.05 870.78L332.30 870.81L332.55 870.82L332.80 870.78L333.05 870.68L333.30 870.50L333.55 870.19L333.80 869.71L334.05 869.04L334.30 868.12L334.55 866.94L334.80 865.49L335.05 863.79L335.30 861.93L335.55 859.99L335.80 858.11L336.05 856.44L336.30 855.12L336.55 854.29L336.80 854.01L337.05 854.33L337.30 855.19L337.55 856.51L337.80 858.16L338.05 859.97L338.30 861.79L338.55 863.49L338.80 864.97L339.05 866.17L339.30 867.05L339.55 867.64L339.80 867.96L340.05 868.06L340.30 868.00L340.55 867.83L340.80 867.60L341.05 867.35L341.30 867.10L341.55 866.90L341.80 866.75L342.05 866.68L342.30 866.68L342.55 866.76L342.80 866.92L343.05 867.15L343.30 867.44L343.55 867.79L343.80 868.18L344.05 868.59L344.30 869.00L344.55 869.41L344.80 869.79L345.05 870.15L345.30 870.47L345.55 870.74L345.80 870.98L346.05 871.17L346.30 871.32L346.55 871.45L346.80 871.55L347.05 871.64L347.30 871.72L347.55 871.79L347.80 871.86L348.05 871.93L348.30 871.98L348.55 872.03L348.80 872.06L349.05 872.08L349.30 872.08L349.55 872.07L349.80 872.03L350.05 871.99L350.30 871.94L350.55 871.88L350.80 871.82L351.05 871.76L351.30 871.69L351.55 871.62L351.80 871.53L352.05 871.41L352.30 871.26L352.55 871.06L352.80 870.81L353.05 870.53L353.30 870.23L353.55 869.94L353.80 869.68L354.05 869.49L354.30 869.39L354.55 869.40L354.80 869.52L355.05 869.73L355.30 870.01L355.55 870.33L355.80 870.66L356.05 870.96L356.30 871.23L356.55 871.44L356.80 871.60L357.05 871.71L357.30 871.78L357.55 871.82L357.80 871.85L358.05 871.87L358.30 871.88L358.55 871.90L358.80 871.93L359.05 871.96L359.30 871.99L359.55 872.01L359.80 872.03L360.05 872.04L360.30 872.04L360.55 872.02L360.80 871.98L361.05 871.93L361.30 871.88L361.55 871.83L361.80 871.78L362.05 871.74L362.30 871.72L362.55 871.71L362.80 871.72L363.05 871.73L363.30 871.76L363.55 871.79L363.80 871.82L364.05 871.82L364.30 871.78L364.55 871.67L364.80 871.41L365.05 870.91L365.30 870.01L365.55 868.50L365.80 866.14L366.05 862.64L366.30 857.81L366.55 851.53L366.80 843.97L367.05 835.52L367.30 826.92L367.55 819.08L367.80 813.00L368.05 809.53L368.30 809.45L368.55 811.64L368.80 815.03L369.05 819.43L369.30 824.59L369.55 830.19L369.80 835.92L370.05 841.51L370.30 846.72L370.55 851.39L370.80 855.42L371.05 858.79L371.30 861.52L371.55 863.67L371.80 865.31L372.05 866.54L372.30 867.45L372.55 868.11L372.80 868.61L373.05 868.98L373.30 869.28L373.55 869.53L373.80 869.76L374.05 869.96L374.30 870.15L374.55 870.33L374.80 870.50L375.05 870.66L375.30 870.79L375.55 870.91L375.80 871.01L376.05 871.10L376.30 871.18L376.55 871.24L376.80 871.30L377.05 871.35L377.30 871.40L377.55 871.44L377.80 871.48L378.05 871.51L378.30 871.53L378.55 871.55L378.80 871.56L379.05 871.55L379.30 871.55L379.55 871.54L379.80 871.53L380.05 871.52L380.30 871.53L380.55 871.54L380.80 871.57L381.05 871.60L381.30 871.63L381.55 871.66L381.80 871.67L382.05 871.65L382.30 871.57L382.55 871.42L382.80 871.19L383.05 870.86L383.30 870.42L383.55 869.88L383.80 869.27L384.05 868.62L384.30 868.00L384.55 867.45L384.80 867.05L385.05 866.85L385.30 866.86L385.55 867.09L385.80 867.50L386.05 868.06L386.30 868.69L386.55 869.34L386.80 869.94L387.05 870.47L387.30 870.91L387.55 871.24L387.80 871.48L388.05 871.64L388.30 871.75L388.55 871.81L388.80 871.85L389.05 871.86L389.30 871.87L389.55 871.86L389.80 871.84L390.05 871.82L390.30 871.79L390.55 871.76L390.80 871.74L391.05 871.72L391.30 871.72L391.55 871.73L391.80 871.75L392.05 871.78L392.30 871.83L392.55 871.88L392.80 871.93L393.05 871.98L393.30 872.02L393.55 872.04L393.80 872.05L394.05 872.04L394.30 872.02L394.55 871.99L394.80 871.96L395.05 871.92L395.30 871.90L395.55 871.88L395.80 871.87L396.05 871.87L396.30 871.88L396.55 871.90L396.80 871.92L397.05 871.94L397.30 871.95L397.55 871.96L397.80 871.95L398.05 871.94L398.30 871.93L398.55 871.91L398.80 871.89L399.05 871.88L399.30 871.87L399.55 871.86L399.80 871.85L400.05 871.85L400.30 871.85L400.55 871.85L400.80 871.84L401.05 871.83L401.30 871.82L401.55 871.80L401.80 871.79L402.05 871.78L402.30 871.78L402.55 871.79L402.80 871.82L403.05 871.85L403.30 871.90L403.55 871.95L403.80 872.00L404.05 872.05L404.30 872.08L404.55 872.10L404.80 872.11L405.05 872.09L405.30 872.07L405.55 872.03L405.80 871.98L406.05 871.93L406.30 871.88L406.55 871.85L406.80 871.82L407.05 871.81L407.30 871.81L407.55 871.81L407.80 871.83L408.05 871.84L408.30 871.86L408.55 871.87L408.80 871.87L409.05 871.87L409.30 871.87L409.55 871.86L409.80 871.86L410.05 871.85L410.30 871.86L410.55 871.86L410.80 871.87L411.05 871.88L411.30 871.90L411.55 871.91L411.80 871.91L412.05 871.91L412.30 871.90L412.55 871.89L412.80 871.88L413.05 871.87L413.30 871.86L413.55 871.87L413.80 871.88L414.05 871.90L414.30 871.93L414.55 871.97L414.80 872.01L415.05 872.04L415.30 872.07L415.55 872.08L415.80 872.08L416.05 872.06L416.30 872.02L416.55 871.98L416.80 871.92L417.05 871.87L417.30 871.81L417.55 871.77L417.80 871.73L418.05 871.70L418.30 871.67L418.55 871.62L418.80 871.53L419.05 871.37L419.30 871.09L419.55 870.66L419.80 870.02L420.05 869.17L420.30 868.10L420.55 866.86L420.80 865.56L421.05 864.30L421.30 863.27L421.55 862.58L421.80 862.35L422.05 862.63L422.30 863.09L422.55 863.72L422.80 864.47L423.05 865.30L423.30 866.15L423.55 867.00L423.80 867.79L424.05 868.51L424.30 869.13L424.55 869.67L424.80 870.11L425.05 870.48L425.30 870.77L425.55 871.01L425.80 871.20L426.05 871.35L426.30 871.46L426.55 871.55L426.80 871.60L427.05 871.63L427.30 871.64L427.55 871.63L427.80 871.61L428.05 871.59L428.30 871.56L428.55 871.55L428.80 871.54L429.05 871.55L429.30 871.57L429.55 871.61L429.80 871.65L430.05 871.70L430.30 871.74L430.55 871.79L430.80 871.83L431.05 871.86L431.30 871.89L431.55 871.90L431.80 871.92L432.05 871.93L432.30 871.94L432.55 871.94L432.80 871.94L433.05 871.94L433.30 871.92L433.55 871.89L433.80 871.84L434.05 871.76L434.30 871.65L434.55 871.52L434.80 871.37L435.05 871.20L435.30 871.05L435.55 870.91L435.80 870.81L436.05 870.76L436.30 870.77L436.55 870.83L436.80 870.94L437.05 871.08L437.30 871.23L437.55 871.39L437.80 871.52L438.05 871.64L438.30 871.72L438.55 871.77L438.80 871.79L439.05 871.80L439.30 871.79L439.55 871.78L439.80 871.78L440.05 871.78L440.30 871.80L440.55 871.82L440.80 871.85L441.05 871.89L441.30 871.92L441.55 871.96L441.80 871.98L442.05 872.00L442.30 872.01L442.55 872.02L442.80 872.01L443.05 872.01L443.30 872.00L443.55 871.99L443.80 871.98L444.05 871.98L444.30 871.97L444.55 871.96L444.80 871.94L445.05 871.92L445.30 871.90L445.55 871.86L445.80 871.83L446.05 871.79L446.30 871.76L446.55 871.73L446.80 871.72L447.05 871.72L447.30 871.73L447.55 871.76L447.80 871.80L448.05 871.85L448.30 871.90L448.55 871.94L448.80 871.98L449.05 872.00L449.30 872.01L449.55 872.01L449.80 871.99L450.05 871.96L450.30 871.93L450.55 871.91" fill="none" stroke="#000" stroke-width="2.60" stroke-linejoin="round" stroke-linecap="butt"/>
<g stroke="#3c3c3c" stroke-width="0.95" fill="none">
<path d="M523.25 765.20 V878.40"/>
<path d="M518.60 873.40 H659.40"/>
<path d="M518.60 816.50 H523.60"/>
<path d="M577.30 873.40 V878.40"/>
<path d="M631.00 873.40 V878.40"/>
</g>
<text x="509.10" y="878.40" font-size="17.00" text-anchor="end" font-weight="normal" >0</text>
<text x="509.10" y="821.90" font-size="17.00" text-anchor="end" font-weight="normal" >100</text>
<text x="523.60" y="898.50" font-size="17.00" text-anchor="middle" font-weight="normal" >0.95</text>
<text x="578.30" y="898.50" font-size="17.00" text-anchor="middle" font-weight="normal" >1.45</text>
<text x="632.00" y="898.50" font-size="17.00" text-anchor="middle" font-weight="normal" >1.95</text>
<text x="658.00" y="898.50" font-size="17.00" text-anchor="start" font-weight="normal" >min</text>
<g stroke="#303030" stroke-width="1.05" fill="none">
<path d="M536.00 802.60 L551.40 793.00"/>
<path d="M551.60 793.00 V859.00"/>
<path d="M546.30 845.30 V852.20"/>
<path d="M578.60 826.00 L578.60 843.40"/>
<path d="M630.00 843.40 L630.00 851.00"/>
</g>
<text x="527.40" y="788.80" font-size="12.70" text-anchor="start" font-weight="normal" >Suc-CoA</text>
<text font-size="12.70" transform="translate(548.60 845.30) rotate(-90)">CoA</text>
<text x="559.60" y="820.45" font-size="12.70" text-anchor="start" font-weight="normal" >MSuc-CoA</text>
<text x="594.00" y="841.85" font-size="12.70" text-anchor="start" font-weight="normal" >Acetyl-CoA</text>
<path d="M523.60 871.90L523.85 871.90L524.10 871.90L524.35 871.90L524.60 871.90L524.85 871.90L525.10 871.90L525.35 871.90L525.60 871.90L525.85 871.90L526.10 871.90L526.35 871.90L526.60 871.90L526.85 871.90L527.10 871.90L527.35 871.90L527.60 871.90L527.85 871.90L528.10 871.89L528.35 871.88L528.60 871.85L528.85 871.77L529.10 871.58L529.35 871.17L529.60 870.34L529.85 868.80L530.10 866.17L530.35 861.99L530.60 855.92L530.85 847.85L531.10 838.14L531.35 827.67L531.60 817.83L531.85 810.23L532.10 806.26L532.35 806.84L532.60 808.67L532.85 810.82L533.10 813.25L533.35 815.95L533.60 818.88L533.85 821.98L534.10 825.21L534.35 828.51L534.60 831.83L534.85 835.12L535.10 838.34L535.35 841.45L535.60 844.40L535.85 847.17L536.10 849.74L536.35 852.11L536.60 854.27L536.85 856.22L537.10 857.96L537.35 859.51L537.60 860.87L537.85 862.07L538.10 863.11L538.35 864.00L538.60 864.78L538.85 865.44L539.10 866.02L539.35 866.52L539.60 866.95L539.85 867.33L540.10 867.66L540.35 867.95L540.60 868.20L540.85 868.42L541.10 868.59L541.35 868.71L541.60 868.77L541.85 868.74L542.10 868.60L542.35 868.32L542.60 867.87L542.85 867.22L543.10 866.34L543.35 865.24L543.60 863.91L543.85 862.43L544.10 860.85L544.35 859.29L544.60 857.87L544.85 856.72L545.10 855.95L545.35 855.64L545.60 855.83L545.85 856.50L546.10 857.59L546.35 859.00L546.60 860.60L546.85 862.24L547.10 863.79L547.35 865.15L547.60 866.22L547.85 866.94L548.10 867.27L548.35 867.23L548.60 866.82L548.85 866.11L549.10 865.17L549.35 864.10L549.60 863.03L549.85 862.07L550.10 861.35L550.35 860.94L550.60 860.98L550.85 861.40L551.10 862.02L551.35 862.78L551.60 863.67L551.85 864.61L552.10 865.55L552.35 866.46L552.60 867.30L552.85 868.03L553.10 868.66L553.35 869.18L553.60 869.61L553.85 869.95L554.10 870.22L554.35 870.44L554.60 870.62L554.85 870.77L555.10 870.90L555.35 871.00L555.60 871.09L555.85 871.15L556.10 871.20L556.35 871.23L556.60 871.25L556.85 871.27L557.10 871.28L557.35 871.29L557.60 871.30L557.85 871.33L558.10 871.37L558.35 871.41L558.60 871.47L558.85 871.53L559.10 871.59L559.35 871.64L559.60 871.69L559.85 871.72L560.10 871.73L560.35 871.73L560.60 871.71L560.85 871.68L561.10 871.63L561.35 871.57L561.60 871.49L561.85 871.39L562.10 871.27L562.35 871.11L562.60 870.93L562.85 870.71L563.10 870.47L563.35 870.22L563.60 869.98L563.85 869.78L564.10 869.65L564.35 869.59L564.60 869.63L564.85 869.75L565.10 869.95L565.35 870.21L565.60 870.49L565.85 870.78L566.10 871.05L566.35 871.29L566.60 871.48L566.85 871.62L567.10 871.71L567.35 871.76L567.60 871.78L567.85 871.78L568.10 871.76L568.35 871.73L568.60 871.71L568.85 871.69L569.10 871.68L569.35 871.69L569.60 871.71L569.85 871.73L570.10 871.76L570.35 871.79L570.60 871.81L570.85 871.83L571.10 871.83L571.35 871.82L571.60 871.80L571.85 871.77L572.10 871.74L572.35 871.70L572.60 871.67L572.85 871.65L573.10 871.64L573.35 871.63L573.60 871.63L573.85 871.64L574.10 871.65L574.35 871.65L574.60 871.64L574.85 871.62L575.10 871.55L575.35 871.41L575.60 871.16L575.85 870.73L576.10 870.04L576.35 868.98L576.60 867.48L576.85 865.47L577.10 862.96L577.35 860.06L577.60 856.98L577.85 854.02L578.10 851.55L578.35 849.89L578.60 849.28L578.85 849.84L579.10 850.85L579.35 852.25L579.60 853.97L579.85 855.89L580.10 857.92L580.35 859.94L580.60 861.87L580.85 863.64L581.10 865.20L581.35 866.53L581.60 867.62L581.85 868.50L582.10 869.17L582.35 869.68L582.60 870.06L582.85 870.33L583.10 870.53L583.35 870.67L583.60 870.78L583.85 870.87L584.10 870.94L584.35 871.01L584.60 871.08L584.85 871.15L585.10 871.21L585.35 871.27L585.60 871.32L585.85 871.36L586.10 871.40L586.35 871.43L586.60 871.46L586.85 871.49L587.10 871.52L587.35 871.56L587.60 871.60L587.85 871.63L588.10 871.67L588.35 871.71L588.60 871.73L588.85 871.75L589.10 871.75L589.35 871.73L589.60 871.70L589.85 871.67L590.10 871.62L590.35 871.57L590.60 871.53L590.85 871.50L591.10 871.47L591.35 871.46L591.60 871.45L591.85 871.45L592.10 871.44L592.35 871.40L592.60 871.33L592.85 871.21L593.10 871.03L593.35 870.80L593.60 870.52L593.85 870.21L594.10 869.90L594.35 869.62L594.60 869.40L594.85 869.28L595.10 869.27L595.35 869.36L595.60 869.56L595.85 869.83L596.10 870.14L596.35 870.46L596.60 870.76L596.85 871.03L597.10 871.24L597.35 871.40L597.60 871.52L597.85 871.60L598.10 871.65L598.35 871.69L598.60 871.72L598.85 871.74L599.10 871.76L599.35 871.78L599.60 871.80L599.85 871.80L600.10 871.80L600.35 871.79L600.60 871.76L600.85 871.72L601.10 871.68L601.35 871.64L601.60 871.60L601.85 871.57L602.10 871.56L602.35 871.56L602.60 871.58L602.85 871.61L603.10 871.65L603.35 871.71L603.60 871.76L603.85 871.81L604.10 871.85L604.35 871.88L604.60 871.90L604.85 871.90L605.10 871.89L605.35 871.88L605.60 871.86L605.85 871.84L606.10 871.82L606.35 871.81L606.60 871.80L606.85 871.79L607.10 871.78L607.35 871.77L607.60 871.76L607.85 871.75L608.10 871.73L608.35 871.71L608.60 871.69L608.85 871.67L609.10 871.66L609.35 871.66L609.60 871.66L609.85 871.68L610.10 871.70L610.35 871.72L610.60 871.75L610.85 871.77L611.10 871.78L611.35 871.79L611.60 871.78L611.85 871.76L612.10 871.73L612.35 871.70L612.60 871.68L612.85 871.65L613.10 871.64L613.35 871.64L613.60 871.65L613.85 871.68L614.10 871.72L614.35 871.77L614.60 871.82L614.85 871.86L615.10 871.89L615.35 871.92L615.60 871.93L615.85 871.92L616.10 871.90L616.35 871.88L616.60 871.84L616.85 871.81L617.10 871.78L617.35 871.75L617.60 871.73L617.85 871.72L618.10 871.70L618.35 871.69L618.60 871.68L618.85 871.67L619.10 871.65L619.35 871.64L619.60 871.63L619.85 871.62L620.10 871.62L620.35 871.62L620.60 871.64L620.85 871.66L621.10 871.70L621.35 871.74L621.60 871.78L621.85 871.81L622.10 871.84L622.35 871.86L622.60 871.86L622.85 871.86L623.10 871.83L623.35 871.80L623.60 871.77L623.85 871.74L624.10 871.72L624.35 871.70L624.60 871.70L624.85 871.71L625.10 871.73L625.35 871.76L625.60 871.79L625.85 871.82L626.10 871.82L626.35 871.80L626.60 871.74L626.85 871.61L627.10 871.37L627.35 870.98L627.60 870.38L627.85 869.52L628.10 868.33L628.35 866.81L628.60 864.99L628.85 862.97L629.10 860.91L629.35 859.05L629.60 857.61L629.85 856.79L630.10 856.77L630.35 857.30L630.60 858.11L630.85 859.17L631.10 860.41L631.35 861.76L631.60 863.14L631.85 864.50L632.10 865.77L632.35 866.92L632.60 867.92L632.85 868.75L633.10 869.43L633.35 869.96L633.60 870.36L633.85 870.65L634.10 870.84L634.35 870.97L634.60 871.05L634.85 871.10L635.10 871.13L635.35 871.16L635.60 871.19L635.85 871.23L636.10 871.27L636.35 871.32L636.60 871.37L636.85 871.43L637.10 871.47L637.35 871.51L637.60 871.54L637.85 871.56L638.10 871.57L638.35 871.56L638.60 871.56L638.85 871.55L639.10 871.54L639.35 871.54L639.60 871.55L639.85 871.56L640.10 871.57L640.35 871.59L640.60 871.61L640.85 871.63L641.10 871.64L641.35 871.64L641.60 871.63L641.85 871.61L642.10 871.58L642.35 871.53L642.60 871.45L642.85 871.34L643.10 871.20L643.35 871.03L643.60 870.83L643.85 870.61L644.10 870.39L644.35 870.18L644.60 870.01L644.85 869.90L645.10 869.85L645.35 869.88L645.60 869.98L645.85 870.14L646.10 870.33L646.35 870.54L646.60 870.75L646.85 870.95L647.10 871.13L647.35 871.29L647.60 871.42L647.85 871.53L648.10 871.62L648.35 871.68L648.60 871.72L648.85 871.75L649.10 871.76L649.35 871.77L649.60 871.76L649.85 871.75L650.10 871.75L650.35 871.74L650.60 871.75L650.85 871.75L651.10 871.76L651.35 871.77L651.60 871.78L651.85 871.79L652.10 871.79L652.35 871.79L652.60 871.79L652.85 871.78L653.10 871.77L653.35 871.76L653.60 871.76L653.85 871.77L654.10 871.78L654.35 871.79L654.60 871.81L654.85 871.83L655.10 871.85L655.35 871.85L655.60 871.85L655.85 871.83L656.10 871.80L656.35 871.75L656.60 871.70L656.85 871.65L657.10 871.61L657.35 871.57L657.60 871.55L657.85 871.54L658.10 871.56L658.35 871.58L658.60 871.62L658.85 871.67L659.10 871.72L659.35 871.76" fill="none" stroke="#000" stroke-width="2.60" stroke-linejoin="round" stroke-linecap="butt"/>
</g>
</svg>
</body></html>
